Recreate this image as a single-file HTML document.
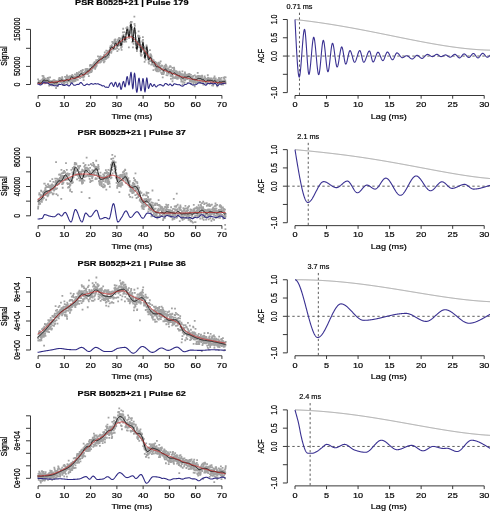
<!DOCTYPE html>
<html><head><meta charset="utf-8"><style>
html,body{margin:0;padding:0;background:#fff;width:490px;height:511px;overflow:hidden}
svg{display:block;filter:blur(0.35px)}
text{font-family:"Liberation Sans",sans-serif;stroke:#000;stroke-width:2.5px}
</style></head><body>
<svg width="490" height="511" viewBox="0 0 490 511">
<rect width="490" height="511" fill="#fff"/>
<g>
<text transform="translate(131.75,5.1) scale(0.09149,0.07)" font-size="100" text-anchor="middle" font-weight="bold" fill="#000">PSR B0525+21 | Pulse 179</text>
<line x1="38.1" y1="95.5" x2="221.92" y2="95.5" stroke="#222" stroke-width="0.9" />
<line x1="38.1" y1="95.5" x2="38.1" y2="98.7" stroke="#222" stroke-width="0.9" />
<text transform="translate(38.1,107.3) scale(0.09149,0.0798)" font-size="100" text-anchor="middle" font-weight="normal" fill="#000">0</text>
<line x1="64.36" y1="95.5" x2="64.36" y2="98.7" stroke="#222" stroke-width="0.9" />
<text transform="translate(64.36,107.3) scale(0.09149,0.0798)" font-size="100" text-anchor="middle" font-weight="normal" fill="#000">10</text>
<line x1="90.62" y1="95.5" x2="90.62" y2="98.7" stroke="#222" stroke-width="0.9" />
<text transform="translate(90.62,107.3) scale(0.09149,0.0798)" font-size="100" text-anchor="middle" font-weight="normal" fill="#000">20</text>
<line x1="116.88" y1="95.5" x2="116.88" y2="98.7" stroke="#222" stroke-width="0.9" />
<text transform="translate(116.88,107.3) scale(0.09149,0.0798)" font-size="100" text-anchor="middle" font-weight="normal" fill="#000">30</text>
<line x1="143.14" y1="95.5" x2="143.14" y2="98.7" stroke="#222" stroke-width="0.9" />
<text transform="translate(143.14,107.3) scale(0.09149,0.0798)" font-size="100" text-anchor="middle" font-weight="normal" fill="#000">40</text>
<line x1="169.4" y1="95.5" x2="169.4" y2="98.7" stroke="#222" stroke-width="0.9" />
<text transform="translate(169.4,107.3) scale(0.09149,0.0798)" font-size="100" text-anchor="middle" font-weight="normal" fill="#000">50</text>
<line x1="195.66" y1="95.5" x2="195.66" y2="98.7" stroke="#222" stroke-width="0.9" />
<text transform="translate(195.66,107.3) scale(0.09149,0.0798)" font-size="100" text-anchor="middle" font-weight="normal" fill="#000">60</text>
<line x1="221.92" y1="95.5" x2="221.92" y2="98.7" stroke="#222" stroke-width="0.9" />
<text transform="translate(221.92,107.3) scale(0.09149,0.0798)" font-size="100" text-anchor="middle" font-weight="normal" fill="#000">70</text>
<text transform="translate(131.9,118.9) scale(0.09149,0.0742)" font-size="100" text-anchor="middle" font-weight="normal" fill="#000">Time (ms)</text>
<line x1="30.5" y1="84.5" x2="30.5" y2="29.4" stroke="#222" stroke-width="0.9" />
<line x1="26" y1="84.5" x2="30.5" y2="84.5" stroke="#222" stroke-width="0.9" />
<text transform="translate(20.4,84.5) rotate(-90) scale(0.07,0.09499)" font-size="100" text-anchor="middle" fill="#000">0</text>
<line x1="26" y1="66.4" x2="30.5" y2="66.4" stroke="#222" stroke-width="0.9" />
<text transform="translate(20.4,66.4) rotate(-90) scale(0.07,0.09499)" font-size="100" text-anchor="middle" fill="#000">50000</text>
<line x1="26" y1="48.3" x2="30.5" y2="48.3" stroke="#222" stroke-width="0.9" />
<line x1="26" y1="29.4" x2="30.5" y2="29.4" stroke="#222" stroke-width="0.9" />
<text transform="translate(20.4,29.4) rotate(-90) scale(0.07,0.09499)" font-size="100" text-anchor="middle" fill="#000">150000</text>
<text transform="translate(7,56.05) rotate(-90) scale(0.07,0.09002)" font-size="100" text-anchor="middle" fill="#000">Signal</text>
<path d="M37.2 79.44h1.8M37.36 82.86h1.8M37.52 82.93h1.8M37.67 82.43h1.8M37.83 82.02h1.8M37.99 82.15h1.8M38.15 81.23h1.8M38.3 82.44h1.8M38.46 82.06h1.8M38.62 83.18h1.8M38.78 81.17h1.8M38.93 83.55h1.8M39.09 83.46h1.8M39.25 83.03h1.8M39.41 82.57h1.8M39.56 84.18h1.8M39.72 80.55h1.8M39.88 83.98h1.8M40.04 83.57h1.8M40.19 83.57h1.8M40.35 83.63h1.8M40.51 81.84h1.8M40.67 82.34h1.8M40.82 83.66h1.8M40.98 83.15h1.8M41.14 82.6h1.8M41.3 79.57h1.8M41.45 82.7h1.8M41.61 75.85h1.8M41.77 83h1.8M41.93 81.47h1.8M42.08 78.28h1.8M42.24 82.17h1.8M42.4 80.18h1.8M42.56 76.07h1.8M42.71 80.75h1.8M42.87 77.57h1.8M43.03 77.84h1.8M43.19 78.96h1.8M43.34 82.15h1.8M43.5 79.51h1.8M43.66 80.67h1.8M43.82 83.25h1.8M43.98 83.12h1.8M44.13 80.4h1.8M44.29 80.26h1.8M44.45 78.64h1.8M44.61 79.63h1.8M44.76 81.55h1.8M44.92 81.5h1.8M45.08 81.02h1.8M45.24 82.48h1.8M45.39 79.49h1.8M45.55 80.67h1.8M45.71 81.97h1.8M45.87 81.7h1.8M46.02 82.51h1.8M46.18 81.37h1.8M46.34 80.18h1.8M46.5 81.33h1.8M46.65 79.05h1.8M46.81 78h1.8M46.97 81.81h1.8M47.13 80.8h1.8M47.28 81.5h1.8M47.44 78.18h1.8M47.6 80.55h1.8M47.76 80.28h1.8M47.91 79.95h1.8M48.07 77.72h1.8M48.23 85.54h1.8M48.39 83.35h1.8M48.54 82.59h1.8M48.7 81h1.8M48.86 82.09h1.8M49.02 83.47h1.8M49.17 77.47h1.8M49.33 82.02h1.8M49.49 83.16h1.8M49.65 83.39h1.8M49.8 85.12h1.8M49.96 84.11h1.8M50.12 82.66h1.8M50.28 82.6h1.8M50.44 83.41h1.8M50.59 81.09h1.8M50.75 81.94h1.8M50.91 83.59h1.8M51.07 85.42h1.8M51.22 81.78h1.8M51.38 82h1.8M51.54 82.49h1.8M51.7 84.54h1.8M51.85 82.22h1.8M52.01 84.91h1.8M52.17 80.74h1.8M52.33 82.18h1.8M52.48 82.24h1.8M52.64 84.04h1.8M52.8 84.57h1.8M52.96 80.14h1.8M53.11 81.23h1.8M53.27 83.44h1.8M53.43 81.7h1.8M53.59 80.17h1.8M53.74 84.65h1.8M53.9 83.66h1.8M54.06 83.62h1.8M54.22 81.87h1.8M54.37 84.49h1.8M54.53 82.21h1.8M54.69 84.57h1.8M54.85 81h1.8M55 81.11h1.8M55.16 87.98h1.8M55.32 81.41h1.8M55.48 83.88h1.8M55.63 83.16h1.8M55.79 81.06h1.8M55.95 82.83h1.8M56.11 82.03h1.8M56.26 84.24h1.8M56.42 81.38h1.8M56.58 81.62h1.8M56.74 84.43h1.8M56.9 86.11h1.8M57.05 85.51h1.8M57.21 81.85h1.8M57.37 81.95h1.8M57.53 84.13h1.8M57.68 80.98h1.8M57.84 79.31h1.8M58 81.15h1.8M58.16 81.67h1.8M58.31 79.3h1.8M58.47 77.78h1.8M58.63 78.15h1.8M58.79 81.95h1.8M58.94 79.39h1.8M59.1 80.52h1.8M59.26 81.15h1.8M59.42 81.88h1.8M59.57 80.1h1.8M59.73 81.56h1.8M59.89 78.95h1.8M60.05 79.81h1.8M60.2 78.5h1.8M60.36 82.33h1.8M60.52 80.11h1.8M60.68 78.74h1.8M60.83 79.39h1.8M60.99 79.63h1.8M61.15 81.34h1.8M61.31 77.19h1.8M61.46 78.3h1.8M61.62 79.62h1.8M61.78 85.1h1.8M61.94 82.33h1.8M62.09 80.49h1.8M62.25 82.14h1.8M62.41 84.7h1.8M62.57 80.56h1.8M62.72 80.35h1.8M62.88 83.3h1.8M63.04 81.98h1.8M63.2 82.29h1.8M63.35 80.07h1.8M63.51 84.54h1.8M63.67 84.09h1.8M63.83 81.9h1.8M63.99 82.05h1.8M64.14 76.9h1.8M64.3 81.77h1.8M64.46 80.11h1.8M64.62 81.17h1.8M64.77 81.51h1.8M64.93 79.48h1.8M65.09 76.83h1.8M65.25 80.58h1.8M65.4 78.39h1.8M65.56 79.1h1.8M65.72 78.52h1.8M65.88 79h1.8M66.03 75.3h1.8M66.19 81.97h1.8M66.35 80.23h1.8M66.51 81.92h1.8M66.66 83.67h1.8M66.82 80.09h1.8M66.98 76.76h1.8M67.14 78.59h1.8M67.29 78.08h1.8M67.45 79.49h1.8M67.61 80.64h1.8M67.77 76.71h1.8M67.92 81.16h1.8M68.08 77.59h1.8M68.24 80.97h1.8M68.4 80.08h1.8M68.55 79.58h1.8M68.71 79.85h1.8M68.87 78.77h1.8M69.03 78.39h1.8M69.18 76.09h1.8M69.34 78.97h1.8M69.5 82.25h1.8M69.66 82.19h1.8M69.81 80.61h1.8M69.97 79.12h1.8M70.13 76.18h1.8M70.29 79.97h1.8M70.45 76.9h1.8M70.6 76.7h1.8M70.76 76.19h1.8M70.92 76.89h1.8M71.08 75.9h1.8M71.23 76.68h1.8M71.39 74.87h1.8M71.55 76.43h1.8M71.71 81.76h1.8M71.86 80.61h1.8M72.02 77.3h1.8M72.18 78.97h1.8M72.34 79.48h1.8M72.49 76.06h1.8M72.65 77.14h1.8M72.81 80.17h1.8M72.97 78.94h1.8M73.12 78.67h1.8M73.28 81.45h1.8M73.44 77.09h1.8M73.6 78.54h1.8M73.75 77.33h1.8M73.91 81.22h1.8M74.07 74.44h1.8M74.23 76.89h1.8M74.38 77.09h1.8M74.54 79.36h1.8M74.7 79.15h1.8M74.86 80.6h1.8M75.01 74.64h1.8M75.17 79.08h1.8M75.33 76.89h1.8M75.49 76.02h1.8M75.64 78.27h1.8M75.8 75.26h1.8M75.96 72.86h1.8M76.12 76.14h1.8M76.27 73.82h1.8M76.43 75.46h1.8M76.59 77.43h1.8M76.75 77.3h1.8M76.91 79.82h1.8M77.06 76.26h1.8M77.22 73.59h1.8M77.38 75.1h1.8M77.54 74.72h1.8M77.69 74.06h1.8M77.85 77.23h1.8M78.01 74.94h1.8M78.17 72.07h1.8M78.32 77.21h1.8M78.48 75.34h1.8M78.64 76.02h1.8M78.8 75.25h1.8M78.95 76.04h1.8M79.11 74.6h1.8M79.27 78.07h1.8M79.43 74.94h1.8M79.58 74.72h1.8M79.74 74.61h1.8M79.9 70.79h1.8M80.06 73.33h1.8M80.21 73.14h1.8M80.37 74.1h1.8M80.53 70.98h1.8M80.69 77.1h1.8M80.84 74.09h1.8M81 71.53h1.8M81.16 70.62h1.8M81.32 73.62h1.8M81.47 74.12h1.8M81.63 72.95h1.8M81.79 74.7h1.8M81.95 70.01h1.8M82.1 75.81h1.8M82.26 73.29h1.8M82.42 77.72h1.8M82.58 76.89h1.8M82.73 80.17h1.8M82.89 72.89h1.8M83.05 73.98h1.8M83.21 73.2h1.8M83.37 76.45h1.8M83.52 72.41h1.8M83.68 73.64h1.8M83.84 74.42h1.8M84 72.3h1.8M84.15 72.14h1.8M84.31 72.92h1.8M84.47 69.35h1.8M84.63 70.47h1.8M84.78 72.36h1.8M84.94 73.29h1.8M85.1 72.38h1.8M85.26 68.88h1.8M85.41 71.38h1.8M85.57 73.79h1.8M85.73 73.09h1.8M85.89 71.61h1.8M86.04 69.76h1.8M86.2 72.79h1.8M86.36 70.15h1.8M86.52 68.84h1.8M86.67 69.54h1.8M86.83 74.19h1.8M86.99 71.61h1.8M87.15 73.56h1.8M87.3 70.14h1.8M87.46 73.09h1.8M87.62 69.84h1.8M87.78 70.72h1.8M87.93 76.15h1.8M88.09 72.44h1.8M88.25 69.63h1.8M88.41 70.31h1.8M88.56 70.96h1.8M88.72 72.58h1.8M88.88 68.76h1.8M89.04 65.86h1.8M89.19 68.67h1.8M89.35 64.79h1.8M89.51 68.98h1.8M89.67 71.29h1.8M89.83 68.95h1.8M89.98 69.79h1.8M90.14 65.56h1.8M90.3 69.55h1.8M90.46 72h1.8M90.61 69.06h1.8M90.77 67.86h1.8M90.93 67.55h1.8M91.09 70.95h1.8M91.24 65.12h1.8M91.4 66.79h1.8M91.56 67.95h1.8M91.72 68.49h1.8M91.87 65.91h1.8M92.03 67.41h1.8M92.19 66.05h1.8M92.35 66.79h1.8M92.5 66.08h1.8M92.66 63.75h1.8M92.82 65.94h1.8M92.98 67.64h1.8M93.13 63.45h1.8M93.29 64.75h1.8M93.45 66.44h1.8M93.61 62.46h1.8M93.76 63.85h1.8M93.92 62.03h1.8M94.08 66.54h1.8M94.24 68.91h1.8M94.39 68.14h1.8M94.55 63.19h1.8M94.71 65.15h1.8M94.87 63.7h1.8M95.02 63.56h1.8M95.18 66.58h1.8M95.34 60.26h1.8M95.5 65.27h1.8M95.65 62.71h1.8M95.81 65.69h1.8M95.97 62.84h1.8M96.13 60.76h1.8M96.28 62.61h1.8M96.44 63.38h1.8M96.6 61.64h1.8M96.76 62.42h1.8M96.92 60.02h1.8M97.07 56.35h1.8M97.23 62.8h1.8M97.39 62.25h1.8M97.55 60.94h1.8M97.7 60.68h1.8M97.86 62.72h1.8M98.02 59.37h1.8M98.18 58.75h1.8M98.33 59.8h1.8M98.49 62.72h1.8M98.65 56.97h1.8M98.81 62.51h1.8M98.96 58.36h1.8M99.12 57.22h1.8M99.28 62.3h1.8M99.44 59.19h1.8M99.59 56.41h1.8M99.75 58.4h1.8M99.91 61.21h1.8M100.07 61.73h1.8M100.22 58.06h1.8M100.38 59.9h1.8M100.54 60.56h1.8M100.7 57.46h1.8M100.85 59.68h1.8M101.01 58.75h1.8M101.17 57.53h1.8M101.33 57.52h1.8M101.48 58.69h1.8M101.64 58.45h1.8M101.8 56.91h1.8M101.96 57.04h1.8M102.11 60.43h1.8M102.27 58.15h1.8M102.43 59.55h1.8M102.59 60.15h1.8M102.74 58.6h1.8M102.9 62.47h1.8M103.06 55.11h1.8M103.22 58.94h1.8M103.38 56.28h1.8M103.53 61.47h1.8M103.69 61.13h1.8M103.85 52.4h1.8M104.01 54.77h1.8M104.16 58.7h1.8M104.32 58.98h1.8M104.48 58.8h1.8M104.64 56.77h1.8M104.79 57.93h1.8M104.95 58.3h1.8M105.11 56.35h1.8M105.27 58.9h1.8M105.42 50.62h1.8M105.58 57.58h1.8M105.74 53.28h1.8M105.9 58.07h1.8M106.05 54.97h1.8M106.21 53.21h1.8M106.37 56.26h1.8M106.53 52.96h1.8M106.68 57.39h1.8M106.84 51.13h1.8M107 54.93h1.8M107.16 56.11h1.8M107.31 57.28h1.8M107.47 54.07h1.8M107.63 56.8h1.8M107.79 53.83h1.8M107.94 53.1h1.8M108.1 54.38h1.8M108.26 55.13h1.8M108.42 51h1.8M108.57 50.74h1.8M108.73 50.44h1.8M108.89 50.6h1.8M109.05 47.58h1.8M109.2 52.21h1.8M109.36 48.08h1.8M109.52 49.98h1.8M109.68 46.26h1.8M109.84 49.07h1.8M109.99 48.88h1.8M110.15 46.45h1.8M110.31 52.73h1.8M110.47 48.1h1.8M110.62 51.71h1.8M110.78 49.43h1.8M110.94 45.03h1.8M111.1 45.89h1.8M111.25 48.21h1.8M111.41 41.96h1.8M111.57 47.59h1.8M111.73 46.91h1.8M111.88 42.98h1.8M112.04 47.55h1.8M112.2 42.3h1.8M112.36 49.63h1.8M112.51 46.75h1.8M112.67 46.86h1.8M112.83 47.9h1.8M112.99 48.93h1.8M113.14 43.65h1.8M113.3 42.2h1.8M113.46 43.49h1.8M113.62 40.11h1.8M113.77 42.5h1.8M113.93 49.11h1.8M114.09 41.07h1.8M114.25 45.47h1.8M114.4 39.29h1.8M114.56 43.88h1.8M114.72 41.96h1.8M114.88 42.81h1.8M115.03 44.78h1.8M115.19 48.48h1.8M115.35 44.36h1.8M115.51 44.55h1.8M115.66 41.8h1.8M115.82 46.72h1.8M115.98 44.66h1.8M116.14 48.15h1.8M116.3 45.75h1.8M116.45 51.1h1.8M116.61 40.09h1.8M116.77 44.85h1.8M116.93 46.07h1.8M117.08 43.93h1.8M117.24 42.15h1.8M117.4 43.13h1.8M117.56 39.24h1.8M117.71 43.11h1.8M117.87 49.46h1.8M118.03 45.09h1.8M118.19 37.85h1.8M118.34 38.2h1.8M118.5 40.22h1.8M118.66 43.52h1.8M118.82 38.28h1.8M118.97 39.04h1.8M119.13 44.61h1.8M119.29 45.35h1.8M119.45 42.43h1.8M119.6 41.01h1.8M119.76 40.26h1.8M119.92 43.34h1.8M120.08 38.77h1.8M120.23 47.76h1.8M120.39 43.22h1.8M120.55 46.11h1.8M120.71 49.85h1.8M120.86 46.93h1.8M121.02 38.91h1.8M121.18 44.35h1.8M121.34 44.38h1.8M121.49 37.54h1.8M121.65 36.03h1.8M121.81 37.88h1.8M121.97 32.44h1.8M122.12 41.48h1.8M122.28 28.74h1.8M122.44 32.4h1.8M122.6 35.01h1.8M122.76 35.13h1.8M122.91 36.78h1.8M123.07 37.67h1.8M123.23 36.79h1.8M123.39 41.92h1.8M123.54 32.1h1.8M123.7 39.62h1.8M123.86 37.9h1.8M124.02 40.72h1.8M124.17 41.09h1.8M124.33 36.94h1.8M124.49 37.25h1.8M124.65 41.11h1.8M124.8 38.67h1.8M124.96 34.22h1.8M125.12 34.03h1.8M125.28 41.7h1.8M125.43 28.1h1.8M125.59 32.78h1.8M125.75 39.2h1.8M125.91 32.59h1.8M126.06 30.2h1.8M126.22 28.38h1.8M126.38 27.22h1.8M126.54 28.64h1.8M126.69 27.97h1.8M126.85 33.18h1.8M127.01 30.2h1.8M127.17 31.12h1.8M127.32 29.6h1.8M127.48 34.46h1.8M127.64 32.52h1.8M127.8 35.58h1.8M127.95 47.35h1.8M128.11 38.03h1.8M128.27 38.15h1.8M128.43 37.16h1.8M128.58 35.04h1.8M128.74 33.31h1.8M128.9 31.24h1.8M129.06 33.46h1.8M129.22 25.62h1.8M129.37 32.56h1.8M129.53 26.76h1.8M129.69 22.95h1.8M129.85 22.98h1.8M130 21.98h1.8M130.16 24.66h1.8M130.32 22.56h1.8M130.48 30.02h1.8M130.63 27.26h1.8M130.79 21.9h1.8M130.95 29.42h1.8M131.11 27.27h1.8M131.26 36.23h1.8M131.42 41.96h1.8M131.58 42.27h1.8M131.74 36.31h1.8M131.89 39.18h1.8M132.05 47.35h1.8M132.21 41.69h1.8M132.37 39.18h1.8M132.52 41.07h1.8M132.68 43.96h1.8M132.84 37.96h1.8M133 32.09h1.8M133.15 31.21h1.8M133.31 30.57h1.8M133.47 16.7h1.8M133.63 24.02h1.8M133.78 28.45h1.8M133.94 25.93h1.8M134.1 30.29h1.8M134.26 32.48h1.8M134.41 41.87h1.8M134.57 33.22h1.8M134.73 37.77h1.8M134.89 39.78h1.8M135.04 43.94h1.8M135.2 47.82h1.8M135.36 44.52h1.8M135.52 44.75h1.8M135.67 43.17h1.8M135.83 46.18h1.8M135.99 51.18h1.8M136.15 49.44h1.8M136.31 45.25h1.8M136.46 46.66h1.8M136.62 46.54h1.8M136.78 47.19h1.8M136.94 42.24h1.8M137.09 42h1.8M137.25 35.58h1.8M137.41 36.54h1.8M137.57 44.55h1.8M137.72 31.33h1.8M137.88 36.74h1.8M138.04 38.53h1.8M138.2 36.58h1.8M138.35 36.04h1.8M138.51 39.34h1.8M138.67 40.85h1.8M138.83 42.08h1.8M138.98 37.88h1.8M139.14 45.14h1.8M139.3 44.51h1.8M139.46 47.03h1.8M139.61 50.99h1.8M139.77 53.31h1.8M139.93 55.11h1.8M140.09 50.89h1.8M140.24 55.52h1.8M140.4 55.89h1.8M140.56 55.05h1.8M140.72 54.94h1.8M140.87 48.9h1.8M141.03 47.61h1.8M141.19 49.49h1.8M141.35 41.3h1.8M141.5 45.25h1.8M141.66 41.91h1.8M141.82 41.88h1.8M141.98 37.19h1.8M142.13 39.97h1.8M142.29 43.24h1.8M142.45 46.87h1.8M142.61 48.51h1.8M142.77 46.55h1.8M142.92 47.94h1.8M143.08 47.68h1.8M143.24 53.23h1.8M143.4 52.95h1.8M143.55 57.06h1.8M143.71 61.93h1.8M143.87 57.44h1.8M144.03 53.5h1.8M144.18 55.78h1.8M144.34 53.37h1.8M144.5 53.59h1.8M144.66 59.85h1.8M144.81 55.17h1.8M144.97 48.29h1.8M145.13 53.26h1.8M145.29 53.64h1.8M145.44 47.43h1.8M145.6 45.46h1.8M145.76 46.06h1.8M145.92 47.63h1.8M146.07 49.44h1.8M146.23 51.8h1.8M146.39 53.26h1.8M146.55 54.63h1.8M146.7 56.75h1.8M146.86 56.33h1.8M147.02 51.35h1.8M147.18 56.9h1.8M147.33 59.43h1.8M147.49 57.96h1.8M147.65 62.39h1.8M147.81 58.61h1.8M147.96 56.91h1.8M148.12 63.66h1.8M148.28 61.09h1.8M148.44 59.44h1.8M148.59 61.12h1.8M148.75 61.13h1.8M148.91 58.67h1.8M149.07 50.19h1.8M149.23 55.22h1.8M149.38 55.69h1.8M149.54 54.27h1.8M149.7 57.84h1.8M149.86 61h1.8M150.01 56.53h1.8M150.17 55.09h1.8M150.33 64.68h1.8M150.49 58.06h1.8M150.64 56.36h1.8M150.8 61.1h1.8M150.96 62.11h1.8M151.12 59.37h1.8M151.27 63.99h1.8M151.43 60.7h1.8M151.59 59.67h1.8M151.75 62.88h1.8M151.9 64.59h1.8M152.06 60.59h1.8M152.22 63.26h1.8M152.38 61.96h1.8M152.53 70.04h1.8M152.69 60.06h1.8M152.85 65.82h1.8M153.01 61.81h1.8M153.16 61.64h1.8M153.32 64.15h1.8M153.48 64.9h1.8M153.64 66.23h1.8M153.79 64.03h1.8M153.95 61.87h1.8M154.11 62.48h1.8M154.27 61.97h1.8M154.42 66.42h1.8M154.58 69.07h1.8M154.74 66.76h1.8M154.9 68.85h1.8M155.05 70.38h1.8M155.21 66.92h1.8M155.37 62.64h1.8M155.53 63.57h1.8M155.69 62.97h1.8M155.84 71.17h1.8M156 64.59h1.8M156.16 70.16h1.8M156.32 68.37h1.8M156.47 71.36h1.8M156.63 69.42h1.8M156.79 66.45h1.8M156.95 66.21h1.8M157.1 66.99h1.8M157.26 64.15h1.8M157.42 65.49h1.8M157.58 66.89h1.8M157.73 71.31h1.8M157.89 62.65h1.8M158.05 67.89h1.8M158.21 64.88h1.8M158.36 67.81h1.8M158.52 69.56h1.8M158.68 67.26h1.8M158.84 69.48h1.8M158.99 63.4h1.8M159.15 70.5h1.8M159.31 66.16h1.8M159.47 69.46h1.8M159.62 68.45h1.8M159.78 61.42h1.8M159.94 66.68h1.8M160.1 69.01h1.8M160.25 72.63h1.8M160.41 69.52h1.8M160.57 69.61h1.8M160.73 65.46h1.8M160.88 72.98h1.8M161.04 74.13h1.8M161.2 69.72h1.8M161.36 69.27h1.8M161.51 65.85h1.8M161.67 72.48h1.8M161.83 77.33h1.8M161.99 72.38h1.8M162.15 73.88h1.8M162.3 72.12h1.8M162.46 68.22h1.8M162.62 74.17h1.8M162.78 67.51h1.8M162.93 70.01h1.8M163.09 71.13h1.8M163.25 72.48h1.8M163.41 71.08h1.8M163.56 70.8h1.8M163.72 67.65h1.8M163.88 66.14h1.8M164.04 69.45h1.8M164.19 67.4h1.8M164.35 65.84h1.8M164.51 65.94h1.8M164.67 67.98h1.8M164.82 64.58h1.8M164.98 65.99h1.8M165.14 65.38h1.8M165.3 70.15h1.8M165.45 70.86h1.8M165.61 75.08h1.8M165.77 66.32h1.8M165.93 68.56h1.8M166.08 72.77h1.8M166.24 70.08h1.8M166.4 70h1.8M166.56 75.35h1.8M166.71 70.38h1.8M166.87 68.52h1.8M167.03 68.3h1.8M167.19 72.65h1.8M167.34 72.7h1.8M167.5 68.56h1.8M167.66 69.59h1.8M167.82 73.42h1.8M167.97 73.5h1.8M168.13 70.34h1.8M168.29 73.44h1.8M168.45 73.21h1.8M168.61 67.18h1.8M168.76 70.81h1.8M168.92 72.58h1.8M169.08 70.09h1.8M169.24 66.2h1.8M169.39 70.92h1.8M169.55 73.66h1.8M169.71 75.88h1.8M169.87 66.68h1.8M170.02 78.93h1.8M170.18 69.84h1.8M170.34 75.33h1.8M170.5 76.29h1.8M170.65 75.93h1.8M170.81 74.09h1.8M170.97 71.01h1.8M171.13 75.64h1.8M171.28 72.39h1.8M171.44 67.97h1.8M171.6 81.26h1.8M171.76 75.95h1.8M171.91 78.61h1.8M172.07 71.71h1.8M172.23 77.47h1.8M172.39 77.6h1.8M172.54 77.35h1.8M172.7 73.29h1.8M172.86 70.22h1.8M173.02 72.67h1.8M173.17 67.57h1.8M173.33 68.8h1.8M173.49 73.23h1.8M173.65 70.61h1.8M173.8 72.73h1.8M173.96 72.98h1.8M174.12 78.14h1.8M174.28 73.57h1.8M174.43 73.56h1.8M174.59 76.79h1.8M174.75 72.02h1.8M174.91 73.23h1.8M175.06 76.39h1.8M175.22 71.2h1.8M175.38 77.9h1.8M175.54 71.17h1.8M175.7 74.77h1.8M175.85 78.57h1.8M176.01 72.82h1.8M176.17 75.33h1.8M176.33 72.7h1.8M176.48 72.2h1.8M176.64 72.11h1.8M176.8 78.78h1.8M176.96 78h1.8M177.11 76.59h1.8M177.27 73.73h1.8M177.43 77.24h1.8M177.59 74.74h1.8M177.74 77.52h1.8M177.9 76.31h1.8M178.06 76.31h1.8M178.22 77.15h1.8M178.37 74.32h1.8M178.53 74.83h1.8M178.69 71.75h1.8M178.85 74.97h1.8M179 72.75h1.8M179.16 76h1.8M179.32 74.22h1.8M179.48 76.95h1.8M179.63 77.98h1.8M179.79 73.63h1.8M179.95 75.25h1.8M180.11 79.34h1.8M180.26 79.28h1.8M180.42 81.69h1.8M180.58 79.72h1.8M180.74 76.91h1.8M180.89 81.34h1.8M181.05 74.25h1.8M181.21 81.54h1.8M181.37 76.43h1.8M181.52 71.4h1.8M181.68 84.45h1.8M181.84 81.92h1.8M182 75.69h1.8M182.16 78.54h1.8M182.31 77.6h1.8M182.47 78.27h1.8M182.63 74.39h1.8M182.79 76.18h1.8M182.94 78.78h1.8M183.1 78.06h1.8M183.26 80.24h1.8M183.42 77.46h1.8M183.57 82.76h1.8M183.73 75.39h1.8M183.89 77.68h1.8M184.05 72.49h1.8M184.2 74.09h1.8M184.36 80.24h1.8M184.52 74.89h1.8M184.68 78.42h1.8M184.83 77.05h1.8M184.99 74.75h1.8M185.15 76.4h1.8M185.31 75.99h1.8M185.46 76.03h1.8M185.62 78.9h1.8M185.78 78.61h1.8M185.94 75.64h1.8M186.09 74.79h1.8M186.25 77.52h1.8M186.41 76.55h1.8M186.57 79.13h1.8M186.72 82.89h1.8M186.88 78.57h1.8M187.04 76.46h1.8M187.2 76.09h1.8M187.35 74.47h1.8M187.51 74.33h1.8M187.67 74.1h1.8M187.83 75.53h1.8M187.98 75.49h1.8M188.14 78.27h1.8M188.3 75.66h1.8M188.46 76.21h1.8M188.62 73.91h1.8M188.77 80.68h1.8M188.93 78.13h1.8M189.09 81.22h1.8M189.25 79.02h1.8M189.4 80.74h1.8M189.56 76.81h1.8M189.72 79.17h1.8M189.88 83.9h1.8M190.03 74.91h1.8M190.19 80.62h1.8M190.35 81.97h1.8M190.51 79.18h1.8M190.66 80.14h1.8M190.82 81.5h1.8M190.98 77.16h1.8M191.14 79.83h1.8M191.29 76.97h1.8M191.45 77.56h1.8M191.61 77.8h1.8M191.77 79.02h1.8M191.92 79.76h1.8M192.08 80.53h1.8M192.24 75.98h1.8M192.4 84.17h1.8M192.55 82.24h1.8M192.71 81.24h1.8M192.87 78.7h1.8M193.03 79.34h1.8M193.18 80.85h1.8M193.34 80.55h1.8M193.5 79.18h1.8M193.66 81.35h1.8M193.81 86.45h1.8M193.97 75.31h1.8M194.13 81.96h1.8M194.29 80.49h1.8M194.44 79.36h1.8M194.6 82.82h1.8M194.76 76.84h1.8M194.92 79.97h1.8M195.08 82.99h1.8M195.23 79.1h1.8M195.39 78.55h1.8M195.55 79.76h1.8M195.71 78.4h1.8M195.86 82.98h1.8M196.02 77.19h1.8M196.18 81.24h1.8M196.34 76.2h1.8M196.49 80.56h1.8M196.65 78.65h1.8M196.81 72.8h1.8M196.97 78.67h1.8M197.12 76.13h1.8M197.28 77.5h1.8M197.44 82.04h1.8M197.6 75.87h1.8M197.75 75.98h1.8M197.91 81.76h1.8M198.07 78.7h1.8M198.23 82h1.8M198.38 79.21h1.8M198.54 76.44h1.8M198.7 78.33h1.8M198.86 81.32h1.8M199.01 80.66h1.8M199.17 78.51h1.8M199.33 78.64h1.8M199.49 76.12h1.8M199.64 77.27h1.8M199.8 83.07h1.8M199.96 78.74h1.8M200.12 76.22h1.8M200.27 77.82h1.8M200.43 80.68h1.8M200.59 80.61h1.8M200.75 76.92h1.8M200.9 77.84h1.8M201.06 79.52h1.8M201.22 75.74h1.8M201.38 76.65h1.8M201.54 81.49h1.8M201.69 78.6h1.8M201.85 80.56h1.8M202.01 82.48h1.8M202.17 81.19h1.8M202.32 79.78h1.8M202.48 84.58h1.8M202.64 81.31h1.8M202.8 79.07h1.8M202.95 81.62h1.8M203.11 81.03h1.8M203.27 78.32h1.8M203.43 80.6h1.8M203.58 80.26h1.8M203.74 76.39h1.8M203.9 80.64h1.8M204.06 80.57h1.8M204.21 80.39h1.8M204.37 77.82h1.8M204.53 80.82h1.8M204.69 81.62h1.8M204.84 81.94h1.8M205 79.17h1.8M205.16 83.07h1.8M205.32 78.84h1.8M205.47 80.93h1.8M205.63 84.19h1.8M205.79 79.55h1.8M205.95 79.76h1.8M206.1 83.11h1.8M206.26 79.69h1.8M206.42 79.73h1.8M206.58 80.78h1.8M206.73 82.54h1.8M206.89 75.25h1.8M207.05 78.31h1.8M207.21 77.92h1.8M207.36 77.79h1.8M207.52 78.34h1.8M207.68 78.42h1.8M207.84 80.99h1.8M208 78.39h1.8M208.15 80.65h1.8M208.31 81.27h1.8M208.47 78.77h1.8M208.63 80.66h1.8M208.78 83.97h1.8M208.94 81.06h1.8M209.1 78.95h1.8M209.26 80.2h1.8M209.41 78.35h1.8M209.57 80.96h1.8M209.73 82.27h1.8M209.89 78.62h1.8M210.04 79.97h1.8M210.2 82.89h1.8M210.36 79.4h1.8M210.52 80.92h1.8M210.67 78.31h1.8M210.83 78.79h1.8M210.99 79.49h1.8M211.15 85.29h1.8M211.3 79.84h1.8M211.46 79.66h1.8M211.62 79.67h1.8M211.78 80.6h1.8M211.93 82.43h1.8M212.09 81.52h1.8M212.25 85.53h1.8M212.41 81.68h1.8M212.56 84.28h1.8M212.72 81.8h1.8M212.88 82.44h1.8M213.04 78.06h1.8M213.19 80.76h1.8M213.35 80.79h1.8M213.51 80.35h1.8M213.67 76.28h1.8M213.82 82.61h1.8M213.98 79.95h1.8M214.14 79.85h1.8M214.3 80.31h1.8M214.45 80.44h1.8M214.61 81.89h1.8M214.77 78.52h1.8M214.93 79.39h1.8M215.09 82.13h1.8M215.24 82.03h1.8M215.4 81.15h1.8M215.56 80.96h1.8M215.72 80.65h1.8M215.87 82.49h1.8M216.03 85.28h1.8M216.19 80.81h1.8M216.35 86.33h1.8M216.5 85.04h1.8M216.66 82.42h1.8M216.82 84.98h1.8M216.98 80.3h1.8M217.13 79.64h1.8M217.29 80.45h1.8M217.45 82.09h1.8M217.61 82.08h1.8M217.76 81.5h1.8M217.92 82.58h1.8M218.08 77.8h1.8M218.24 83.08h1.8M218.39 79.01h1.8M218.55 80.51h1.8M218.71 80.96h1.8M218.87 79.43h1.8M219.02 79h1.8M219.18 79.79h1.8M219.34 81.89h1.8M219.5 83.18h1.8M219.65 83.18h1.8M219.81 80.03h1.8M219.97 80.48h1.8M220.13 80.24h1.8M220.28 83.02h1.8M220.44 77.93h1.8M220.6 84.57h1.8M220.76 81h1.8M220.91 80.34h1.8M221.07 82.56h1.8M221.23 83.92h1.8M221.39 82.47h1.8M221.55 83.87h1.8M221.7 81.98h1.8M221.86 84.18h1.8M222.02 84.19h1.8M222.18 81.45h1.8M222.33 84.56h1.8M222.49 81.96h1.8M222.65 77.58h1.8M222.81 81.82h1.8M222.96 80.96h1.8M223.12 83.09h1.8M223.28 78.85h1.8M223.44 82.8h1.8M223.59 82.18h1.8M223.75 82.08h1.8M223.91 77.12h1.8M224.07 81.42h1.8M224.22 83.03h1.8M224.38 80.31h1.8M224.54 82.15h1.8M224.7 77.3h1.8M224.85 83.41h1.8" stroke="#a2a2a2" stroke-width="1.8" fill="none"/>
<polyline fill="none" stroke="#111" stroke-width="1.0" stroke-linejoin="round"  points="37.6,83.01 37.95,82.82 38.3,82.69 38.65,82.68 39,82.78 39.35,82.95 39.7,83.12 40.05,83.25 40.4,83.29 40.75,83.24 41.1,83.11 41.45,82.88 41.8,82.55 42.15,82.12 42.5,81.61 42.85,81.05 43.2,80.53 43.55,80.15 43.9,79.98 44.25,80.03 44.6,80.25 44.95,80.52 45.3,80.73 45.65,80.84 46,80.83 46.35,80.78 46.7,80.72 47.05,80.7 47.4,80.71 47.75,80.78 48.1,80.92 48.45,81.14 48.8,81.42 49.15,81.72 49.5,81.98 49.85,82.16 50.2,82.23 50.55,82.22 50.9,82.14 51.25,82.06 51.6,82.01 51.95,82.02 52.3,82.09 52.65,82.22 53,82.39 53.35,82.57 53.7,82.74 54.05,82.84 54.4,82.87 54.75,82.81 55.1,82.71 55.45,82.63 55.8,82.61 56.15,82.65 56.5,82.7 56.85,82.7 57.2,82.6 57.55,82.35 57.9,81.99 58.25,81.57 58.6,81.18 58.95,80.9 59.3,80.76 59.65,80.75 60,80.78 60.35,80.76 60.7,80.63 61.05,80.4 61.4,80.17 61.75,80.03 62.1,80.06 62.45,80.26 62.8,80.55 63.15,80.82 63.5,81.01 63.85,81.07 64.2,81.03 64.55,80.93 64.9,80.77 65.25,80.55 65.6,80.3 65.95,80.02 66.3,79.79 66.65,79.64 67,79.65 67.35,79.79 67.7,80.03 68.05,80.29 68.4,80.47 68.75,80.53 69.1,80.43 69.45,80.18 69.8,79.77 70.15,79.2 70.5,78.52 70.85,77.8 71.2,77.18 71.55,76.78 71.9,76.7 72.25,76.92 72.6,77.34 72.95,77.8 73.3,78.17 73.65,78.38 74,78.44 74.35,78.41 74.7,78.34 75.05,78.23 75.4,78.08 75.75,77.86 76.1,77.58 76.45,77.28 76.8,77 77.15,76.79 77.5,76.69 77.85,76.66 78.2,76.63 78.55,76.52 78.9,76.24 79.25,75.78 79.6,75.2 79.95,74.61 80.3,74.11 80.65,73.78 81,73.65 81.35,73.69 81.7,73.85 82.05,74.08 82.4,74.32 82.75,74.55 83.1,74.74 83.45,74.89 83.8,74.95 84.15,74.91 84.5,74.72 84.85,74.37 85.2,73.92 85.55,73.41 85.9,72.9 86.25,72.42 86.6,71.97 86.95,71.59 87.3,71.32 87.65,71.18 88,71.14 88.35,71.13 88.7,71.05 89.05,70.8 89.4,70.38 89.75,69.84 90.1,69.25 90.45,68.68 90.8,68.17 91.15,67.75 91.5,67.43 91.85,67.21 92.2,67.06 92.55,66.94 92.9,66.78 93.25,66.53 93.6,66.15 93.95,65.66 94.3,65.09 94.65,64.53 95,64.07 95.35,63.73 95.7,63.49 96.05,63.26 96.4,62.98 96.75,62.6 97.1,62.13 97.45,61.62 97.8,61.17 98.15,60.82 98.5,60.58 98.85,60.41 99.2,60.23 99.55,60.01 99.9,59.74 100.25,59.46 100.6,59.22 100.95,59.06 101.3,58.98 101.65,58.91 102,58.8 102.35,58.57 102.7,58.22 103.05,57.79 103.4,57.4 103.75,57.13 104.1,57.03 104.45,57.04 104.8,57.1 105.15,57.09 105.5,56.97 105.85,56.71 106.2,56.34 106.55,55.93 106.9,55.58 107.25,55.33 107.6,55.17 107.95,54.97 108.3,54.58 108.65,53.89 109,52.91 109.35,51.77 109.7,50.64 110.05,49.64 110.4,48.8 110.75,48.09 111.1,47.48 111.45,46.98 111.8,46.79 112.15,47.03 112.5,47.5 112.85,48.03 113.2,48.55 113.55,48.89 113.9,48.14 114.25,46.92 114.6,45.51 114.95,44.17 115.3,43.19 115.65,42.85 116,43.22 116.35,44.03 116.7,44.98 117.05,45.76 117.4,46.05 117.75,45.62 118.1,44.64 118.45,43.37 118.8,42.06 119.15,40.98 119.5,40.38 119.85,41.01 120.2,42.77 120.55,44.68 120.9,45.73 121.25,45.31 121.6,44.09 121.95,42.36 122.3,40.4 122.65,38.49 123,36.9 123.35,35.89 123.7,35.85 124.05,37.08 124.4,38.83 124.75,40.21 125.1,40.38 125.45,39.12 125.8,36.91 126.15,34.27 126.5,31.71 126.85,29.74 127.2,28.87 127.55,29.58 127.9,31.48 128.25,33.84 128.6,35.91 128.95,36.92 129.3,36.13 129.65,33.69 130,30.44 130.35,27.19 130.7,24.78 131.05,24.04 131.4,26.19 131.75,30.54 132.1,35.6 132.45,39.87 132.8,41.85 133.15,40.43 133.5,36.63 133.85,32.09 134.2,28.5 134.55,27.55 134.9,29.45 135.25,33.13 135.6,37.78 135.95,42.55 136.3,46.63 136.65,49.18 137,49.5 137.35,47.99 137.7,45.37 138.05,42.33 138.4,39.59 138.75,37.84 139.1,37.8 139.45,39.76 139.8,43.03 140.15,46.78 140.5,50.18 140.85,52.38 141.2,52.62 141.55,51.03 141.9,48.42 142.25,45.59 142.6,43.33 142.95,42.46 143.3,43.68 143.65,46.64 144,50.47 144.35,54.31 144.7,57.3 145.05,58.54 145.4,57.24 145.75,54.16 146.1,50.54 146.45,47.63 146.8,46.7 147.15,48.34 147.5,51.58 147.85,55.3 148.2,58.37 148.55,59.7 148.9,59.63 149.25,59.01 149.6,58.15 149.95,57.37 150.3,56.99 150.65,57.31 151,58.14 151.35,59.24 151.7,60.42 152.05,61.48 152.4,62.24 152.75,62.43 153.1,62.34 153.45,62.11 153.8,61.93 154.15,62.02 154.5,62.62 154.85,63.52 155.2,64.5 155.55,65.42 155.9,66.17 156.25,66.66 156.6,66.87 156.95,66.87 157.3,66.78 157.65,66.71 158,66.76 158.35,66.91 158.7,67.1 159.05,67.25 159.4,67.36 159.75,67.47 160.1,67.64 160.45,67.9 160.8,68.24 161.15,68.6 161.5,68.97 161.85,69.36 162.2,69.77 162.55,70.18 162.9,70.54 163.25,70.76 163.6,70.74 163.95,70.46 164.3,70.02 164.65,69.56 165,69.24 165.35,69.15 165.7,69.28 166.05,69.55 166.4,69.87 166.75,70.2 167.1,70.58 167.45,71.02 167.8,71.48 168.15,71.88 168.5,72.08 168.85,72.06 169.2,71.86 169.55,71.63 169.9,71.51 170.25,71.59 170.6,71.91 170.95,72.43 171.3,73.05 171.65,73.64 172,74.07 172.35,74.26 172.7,74.18 173.05,73.91 173.4,73.54 173.75,73.2 174.1,73 174.45,73 174.8,73.19 175.15,73.5 175.5,73.83 175.85,74.09 176.2,74.29 176.55,74.46 176.9,74.66 177.25,74.91 177.6,75.17 177.95,75.39 178.3,75.52 178.65,75.58 179,75.63 179.35,75.76 179.7,75.99 180.05,76.34 180.4,76.74 180.75,77.12 181.1,77.44 181.45,77.66 181.8,77.82 182.15,77.96 182.5,78.09 182.85,78.16 183.2,78.12 183.55,77.92 183.9,77.62 184.25,77.31 184.6,77.1 184.95,77.04 185.3,77.09 185.65,77.19 186,77.23 186.35,77.19 186.7,77.06 187.05,76.9 187.4,76.74 187.75,76.6 188.1,76.5 188.45,76.44 188.8,76.46 189.15,76.56 189.5,76.74 189.85,76.97 190.2,77.21 190.55,77.45 190.9,77.72 191.25,78.04 191.6,78.41 191.95,78.79 192.3,79.12 192.65,79.35 193,79.47 193.35,79.52 193.7,79.54 194.05,79.56 194.4,79.6 194.75,79.63 195.1,79.63 195.45,79.62 195.8,79.59 196.15,79.55 196.5,79.48 196.85,79.34 197.2,79.14 197.55,78.89 197.9,78.66 198.25,78.5 198.6,78.43 198.95,78.43 199.3,78.46 199.65,78.49 200,78.5 200.35,78.54 200.7,78.64 201.05,78.82 201.4,79.07 201.75,79.33 202.1,79.55 202.45,79.67 202.8,79.71 203.15,79.72 203.5,79.78 203.85,79.96 204.2,80.28 204.55,80.71 204.9,81.15 205.25,81.51 205.6,81.71 205.95,81.72 206.3,81.51 206.65,81.14 207,80.72 207.35,80.36 207.7,80.16 208.05,80.14 208.4,80.23 208.75,80.33 209.1,80.38 209.45,80.38 209.8,80.36 210.15,80.35 210.5,80.37 210.85,80.42 211.2,80.47 211.55,80.53 211.9,80.61 212.25,80.73 212.6,80.91 212.95,81.1 213.3,81.22 213.65,81.22 214,81.08 214.35,80.89 214.7,80.76 215.05,80.77 215.4,80.94 215.75,81.25 216.1,81.66 216.45,82.15 216.8,82.65 217.15,83.09 217.5,83.36 217.85,83.36 218.2,83.11 218.55,82.71 218.9,82.28 219.25,81.96 219.6,81.8 219.95,81.82 220.3,81.93 220.65,82.06 221,82.12 221.35,82.09 221.7,81.98 222.05,81.84 222.4,81.74 222.75,81.68 223.1,81.65 223.45,81.62 223.8,81.56 224.15,81.5 224.5,81.48 224.85,81.56 225.2,81.77 225.55,82.07"/>
<polyline fill="none" stroke="#cc2828" stroke-width="0.85" stroke-linejoin="round"  points="37.6,83.52 37.95,83.5 38.3,83.48 38.65,83.46 39,83.44 39.35,83.41 39.7,83.39 40.05,83.36 40.4,83.34 40.75,83.31 41.1,83.29 41.45,83.26 41.8,83.23 42.15,83.21 42.5,83.18 42.85,83.15 43.2,83.12 43.55,83.09 43.9,83.06 44.25,83.04 44.6,83.01 44.95,82.97 45.3,82.94 45.65,82.91 46,82.88 46.35,82.85 46.7,82.82 47.05,82.79 47.4,82.75 47.75,82.72 48.1,82.69 48.45,82.65 48.8,82.62 49.15,82.58 49.5,82.55 49.85,82.51 50.2,82.48 50.55,82.44 50.9,82.41 51.25,82.37 51.6,82.34 51.95,82.3 52.3,82.26 52.65,82.23 53,82.19 53.35,82.15 53.7,82.11 54.05,82.07 54.4,82.03 54.75,81.99 55.1,81.95 55.45,81.91 55.8,81.87 56.15,81.82 56.5,81.78 56.85,81.74 57.2,81.69 57.55,81.65 57.9,81.6 58.25,81.55 58.6,81.51 58.95,81.46 59.3,81.41 59.65,81.36 60,81.31 60.35,81.26 60.7,81.2 61.05,81.15 61.4,81.1 61.75,81.04 62.1,80.98 62.45,80.92 62.8,80.86 63.15,80.8 63.5,80.73 63.85,80.67 64.2,80.6 64.55,80.52 64.9,80.45 65.25,80.38 65.6,80.3 65.95,80.22 66.3,80.14 66.65,80.06 67,79.98 67.35,79.9 67.7,79.81 68.05,79.73 68.4,79.64 68.75,79.56 69.1,79.47 69.45,79.38 69.8,79.3 70.15,79.21 70.5,79.12 70.85,79.04 71.2,78.95 71.55,78.87 71.9,78.78 72.25,78.7 72.6,78.61 72.95,78.53 73.3,78.44 73.65,78.36 74,78.28 74.35,78.19 74.7,78.1 75.05,78.01 75.4,77.92 75.75,77.83 76.1,77.74 76.45,77.64 76.8,77.55 77.15,77.45 77.5,77.34 77.85,77.24 78.2,77.13 78.55,77.01 78.9,76.9 79.25,76.77 79.6,76.65 79.95,76.52 80.3,76.38 80.65,76.24 81,76.08 81.35,75.92 81.7,75.75 82.05,75.57 82.4,75.39 82.75,75.2 83.1,75 83.45,74.8 83.8,74.59 84.15,74.38 84.5,74.16 84.85,73.93 85.2,73.71 85.55,73.48 85.9,73.25 86.25,73.01 86.6,72.77 86.95,72.53 87.3,72.29 87.65,72.04 88,71.78 88.35,71.51 88.7,71.24 89.05,70.96 89.4,70.67 89.75,70.38 90.1,70.08 90.45,69.78 90.8,69.47 91.15,69.16 91.5,68.84 91.85,68.52 92.2,68.2 92.55,67.87 92.9,67.54 93.25,67.21 93.6,66.88 93.95,66.55 94.3,66.21 94.65,65.86 95,65.5 95.35,65.13 95.7,64.76 96.05,64.38 96.4,63.99 96.75,63.6 97.1,63.21 97.45,62.82 97.8,62.42 98.15,62.03 98.5,61.64 98.85,61.25 99.2,60.87 99.55,60.49 99.9,60.12 100.25,59.75 100.6,59.4 100.95,59.05 101.3,58.71 101.65,58.36 102,58.02 102.35,57.69 102.7,57.35 103.05,57.02 103.4,56.69 103.75,56.37 104.1,56.04 104.45,55.72 104.8,55.39 105.15,55.07 105.5,54.75 105.85,54.43 106.2,54.11 106.55,53.78 106.9,53.46 107.25,53.14 107.6,52.81 107.95,52.49 108.3,52.17 108.65,51.84 109,51.52 109.35,51.2 109.7,50.87 110.05,50.55 110.4,50.23 110.75,49.91 111.1,49.59 111.45,49.27 111.8,48.95 112.15,48.64 112.5,48.32 112.85,48.01 113.2,47.7 113.55,47.39 113.9,47.09 114.25,46.78 114.6,46.48 114.95,46.17 115.3,45.87 115.65,45.57 116,45.27 116.35,44.97 116.7,44.67 117.05,44.38 117.4,44.08 117.75,43.79 118.1,43.5 118.45,43.22 118.8,42.94 119.15,42.66 119.5,42.38 119.85,42.11 120.2,41.85 120.55,41.58 120.9,41.31 121.25,41.04 121.6,40.78 121.95,40.51 122.3,40.25 122.65,39.99 123,39.75 123.35,39.5 123.7,39.27 124.05,39.05 124.4,38.83 124.75,38.63 125.1,38.45 125.45,38.26 125.8,38.07 126.15,37.88 126.5,37.7 126.85,37.53 127.2,37.37 127.55,37.24 127.9,37.13 128.25,37.04 128.6,36.99 128.95,36.94 129.3,36.9 129.65,36.87 130,36.84 130.35,36.82 130.7,36.8 131.05,36.8 131.4,36.87 131.75,37.02 132.1,37.25 132.45,37.53 132.8,37.85 133.15,38.19 133.5,38.53 133.85,38.87 134.2,39.18 134.55,39.52 134.9,39.88 135.25,40.26 135.6,40.66 135.95,41.07 136.3,41.49 136.65,41.91 137,42.34 137.35,42.75 137.7,43.16 138.05,43.56 138.4,43.94 138.75,44.32 139.1,44.7 139.45,45.08 139.8,45.46 140.15,45.83 140.5,46.21 140.85,46.59 141.2,46.97 141.55,47.35 141.9,47.74 142.25,48.13 142.6,48.53 142.95,48.94 143.3,49.36 143.65,49.79 144,50.22 144.35,50.67 144.7,51.12 145.05,51.57 145.4,52.03 145.75,52.5 146.1,52.96 146.45,53.43 146.8,53.9 147.15,54.37 147.5,54.83 147.85,55.3 148.2,55.75 148.55,56.21 148.9,56.65 149.25,57.09 149.6,57.52 149.95,57.94 150.3,58.35 150.65,58.76 151,59.17 151.35,59.57 151.7,59.97 152.05,60.37 152.4,60.76 152.75,61.14 153.1,61.53 153.45,61.9 153.8,62.27 154.15,62.64 154.5,63 154.85,63.35 155.2,63.7 155.55,64.05 155.9,64.4 156.25,64.75 156.6,65.1 156.95,65.44 157.3,65.78 157.65,66.11 158,66.43 158.35,66.74 158.7,67.04 159.05,67.32 159.4,67.59 159.75,67.83 160.1,68.06 160.45,68.28 160.8,68.49 161.15,68.68 161.5,68.87 161.85,69.05 162.2,69.23 162.55,69.4 162.9,69.56 163.25,69.72 163.6,69.88 163.95,70.04 164.3,70.19 164.65,70.35 165,70.5 165.35,70.65 165.7,70.8 166.05,70.95 166.4,71.09 166.75,71.23 167.1,71.37 167.45,71.51 167.8,71.64 168.15,71.78 168.5,71.91 168.85,72.05 169.2,72.18 169.55,72.32 169.9,72.46 170.25,72.6 170.6,72.74 170.95,72.88 171.3,73.03 171.65,73.17 172,73.31 172.35,73.45 172.7,73.59 173.05,73.74 173.4,73.88 173.75,74.01 174.1,74.15 174.45,74.29 174.8,74.42 175.15,74.56 175.5,74.69 175.85,74.82 176.2,74.96 176.55,75.09 176.9,75.23 177.25,75.36 177.6,75.49 177.95,75.62 178.3,75.74 178.65,75.86 179,75.98 179.35,76.1 179.7,76.21 180.05,76.31 180.4,76.42 180.75,76.52 181.1,76.62 181.45,76.71 181.8,76.8 182.15,76.9 182.5,76.99 182.85,77.08 183.2,77.16 183.55,77.25 183.9,77.33 184.25,77.42 184.6,77.5 184.95,77.58 185.3,77.66 185.65,77.74 186,77.82 186.35,77.9 186.7,77.98 187.05,78.06 187.4,78.14 187.75,78.22 188.1,78.3 188.45,78.38 188.8,78.45 189.15,78.53 189.5,78.61 189.85,78.69 190.2,78.77 190.55,78.85 190.9,78.93 191.25,79.01 191.6,79.09 191.95,79.17 192.3,79.24 192.65,79.32 193,79.4 193.35,79.47 193.7,79.54 194.05,79.62 194.4,79.69 194.75,79.76 195.1,79.83 195.45,79.9 195.8,79.96 196.15,80.03 196.5,80.09 196.85,80.16 197.2,80.22 197.55,80.28 197.9,80.35 198.25,80.41 198.6,80.47 198.95,80.53 199.3,80.59 199.65,80.65 200,80.71 200.35,80.77 200.7,80.83 201.05,80.88 201.4,80.94 201.75,80.99 202.1,81.04 202.45,81.09 202.8,81.14 203.15,81.19 203.5,81.24 203.85,81.28 204.2,81.32 204.55,81.37 204.9,81.41 205.25,81.45 205.6,81.49 205.95,81.53 206.3,81.56 206.65,81.6 207,81.64 207.35,81.67 207.7,81.71 208.05,81.74 208.4,81.78 208.75,81.81 209.1,81.84 209.45,81.87 209.8,81.91 210.15,81.94 210.5,81.97 210.85,82 211.2,82.03 211.55,82.07 211.9,82.1 212.25,82.13 212.6,82.16 212.95,82.2 213.3,82.23 213.65,82.26 214,82.29 214.35,82.33 214.7,82.36 215.05,82.39 215.4,82.42 215.75,82.45 216.1,82.48 216.45,82.52 216.8,82.55 217.15,82.58 217.5,82.61 217.85,82.64 218.2,82.67 218.55,82.7 218.9,82.73 219.25,82.76 219.6,82.79 219.95,82.82 220.3,82.85 220.65,82.88 221,82.91 221.35,82.94 221.7,82.97 222.05,83 222.4,83.03 222.75,83.06 223.1,83.09 223.45,83.12 223.8,83.15 224.15,83.18 224.5,83.2 224.85,83.23 225.2,83.26 225.55,83.29"/>
<polyline fill="none" stroke="#2f2a85" stroke-width="1.1" stroke-linejoin="round"  points="37.6,84.48 37.95,84.31 38.3,84.21 38.65,84.22 39,84.35 39.35,84.54 39.7,84.74 40.05,84.88 40.4,84.95 40.75,84.93 41.1,84.82 41.45,84.62 41.8,84.31 42.15,83.91 42.5,83.43 42.85,82.9 43.2,82.41 43.55,82.06 43.9,81.92 44.25,82 44.6,82.24 44.95,82.54 45.3,82.79 45.65,82.92 46,82.95 46.35,82.93 46.7,82.9 47.05,82.91 47.4,82.96 47.75,83.06 48.1,83.23 48.45,83.48 48.8,83.8 49.15,84.13 49.5,84.43 49.85,84.64 50.2,84.75 50.55,84.77 50.9,84.74 51.25,84.69 51.6,84.67 51.95,84.72 52.3,84.83 52.65,85 53,85.2 53.35,85.42 53.7,85.63 54.05,85.77 54.4,85.83 54.75,85.82 55.1,85.76 55.45,85.72 55.8,85.74 56.15,85.82 56.5,85.92 56.85,85.96 57.2,85.9 57.55,85.71 57.9,85.39 58.25,85.02 58.6,84.67 58.95,84.44 59.3,84.35 59.65,84.39 60,84.47 60.35,84.5 60.7,84.42 61.05,84.25 61.4,84.07 61.75,83.99 62.1,84.07 62.45,84.33 62.8,84.68 63.15,85.02 63.5,85.27 63.85,85.4 64.2,85.44 64.55,85.4 64.9,85.31 65.25,85.18 65.6,85 65.95,84.8 66.3,84.64 66.65,84.58 67,84.67 67.35,84.9 67.7,85.22 68.05,85.56 68.4,85.83 68.75,85.97 69.1,85.96 69.45,85.8 69.8,85.47 70.15,84.99 70.5,84.39 70.85,83.76 71.2,83.23 71.55,82.92 71.9,82.91 72.25,83.22 72.6,83.72 72.95,84.27 73.3,84.72 73.65,85.02 74,85.16 74.35,85.22 74.7,85.23 75.05,85.22 75.4,85.16 75.75,85.03 76.1,84.84 76.45,84.63 76.8,84.45 77.15,84.35 77.5,84.35 77.85,84.43 78.2,84.51 78.55,84.5 78.9,84.34 79.25,84.01 79.6,83.56 79.95,83.09 80.3,82.72 80.65,82.54 81,82.56 81.35,82.77 81.7,83.1 82.05,83.51 82.4,83.93 82.75,84.35 83.1,84.74 83.45,85.09 83.8,85.37 84.15,85.53 84.5,85.56 84.85,85.44 85.2,85.21 85.55,84.93 85.9,84.65 86.25,84.41 86.6,84.2 86.95,84.06 87.3,84.03 87.65,84.14 88,84.36 88.35,84.62 88.7,84.8 89.05,84.84 89.4,84.7 89.75,84.45 90.1,84.16 90.45,83.9 90.8,83.7 91.15,83.59 91.5,83.59 91.85,83.69 92.2,83.86 92.55,84.07 92.9,84.24 93.25,84.31 93.6,84.27 93.95,84.11 94.3,83.88 94.65,83.67 95,83.57 95.35,83.6 95.7,83.73 96.05,83.89 96.4,83.99 96.75,84 97.1,83.92 97.45,83.81 97.8,83.75 98.15,83.79 98.5,83.95 98.85,84.16 99.2,84.37 99.55,84.52 99.9,84.62 100.25,84.7 100.6,84.82 100.95,85.01 101.3,85.27 101.65,85.55 102,85.77 102.35,85.89 102.7,85.87 103.05,85.77 103.4,85.7 103.75,85.76 104.1,85.98 104.45,86.33 104.8,86.7 105.15,87.02 105.5,87.22 105.85,87.28 106.2,87.23 106.55,87.15 106.9,87.12 107.25,87.2 107.6,87.35 107.95,87.48 108.3,87.41 108.65,87.04 109,86.39 109.35,85.58 109.7,84.77 110.05,84.09 110.4,83.57 110.75,83.18 111.1,82.89 111.45,82.71 111.8,82.83 112.15,83.39 112.5,84.17 112.85,85.02 113.2,85.85 113.55,86.49 113.9,86.05 114.25,85.14 114.6,84.03 114.95,83 115.3,82.32 115.65,82.28 116,82.95 116.35,84.06 116.7,85.31 117.05,86.38 117.4,86.97 117.75,86.83 118.1,86.14 118.45,85.15 118.8,84.13 119.15,83.32 119.5,83 119.85,83.9 120.2,85.93 120.55,88.1 120.9,89.42 121.25,89.27 121.6,88.31 121.95,86.85 122.3,85.15 122.65,83.5 123,82.15 123.35,81.39 123.7,81.58 124.05,83.04 124.4,84.99 124.75,86.58 125.1,86.94 125.45,85.86 125.8,83.84 126.15,81.39 126.5,79.01 126.85,77.21 127.2,76.5 127.55,77.34 127.9,79.36 128.25,81.8 128.6,83.93 128.95,84.98 129.3,84.22 129.65,81.82 130,78.6 130.35,75.38 130.7,72.98 131.05,72.24 131.4,74.32 131.75,78.52 132.1,83.35 132.45,87.34 132.8,89 133.15,87.24 133.5,83.1 133.85,78.23 134.2,74.32 134.55,73.03 134.9,74.56 135.25,77.87 135.6,82.11 135.95,86.48 136.3,90.14 136.65,92.26 137,92.16 137.35,90.23 137.7,87.21 138.05,83.78 138.4,80.65 138.75,78.52 139.1,78.09 139.45,79.68 139.8,82.58 140.15,85.95 140.5,88.97 140.85,90.79 141.2,90.65 141.55,88.68 141.9,85.68 142.25,82.46 142.6,79.8 142.95,78.52 143.3,79.32 143.65,81.85 144,85.25 144.35,88.65 144.7,91.18 145.05,91.97 145.4,90.21 145.75,86.66 146.1,82.57 146.45,79.2 146.8,77.8 147.15,78.97 147.5,81.75 147.85,85 148.2,87.62 148.55,88.49 148.9,87.98 149.25,86.92 149.6,85.63 149.95,84.43 150.3,83.64 150.65,83.55 151,83.97 151.35,84.67 151.7,85.44 152.05,86.11 152.4,86.48 152.75,86.28 153.1,85.81 153.45,85.21 153.8,84.65 154.15,84.38 154.5,84.63 154.85,85.17 155.2,85.8 155.55,86.37 155.9,86.77 156.25,86.91 156.6,86.78 156.95,86.43 157.3,86 157.65,85.61 158,85.33 158.35,85.17 158.7,85.06 159.05,84.93 159.4,84.77 159.75,84.64 160.1,84.58 160.45,84.62 160.8,84.75 161.15,84.92 161.5,85.1 161.85,85.3 162.2,85.54 162.55,85.78 162.9,85.98 163.25,86.03 163.6,85.86 163.95,85.43 164.3,84.83 164.65,84.21 165,83.74 165.35,83.5 165.7,83.48 166.05,83.6 166.4,83.78 166.75,83.97 167.1,84.21 167.45,84.51 167.8,84.84 168.15,85.1 168.5,85.17 168.85,85.01 169.2,84.68 169.55,84.31 169.9,84.05 170.25,83.99 170.6,84.17 170.95,84.55 171.3,85.02 171.65,85.47 172,85.76 172.35,85.8 172.7,85.59 173.05,85.17 173.4,84.67 173.75,84.19 174.1,83.85 174.45,83.71 174.8,83.77 175.15,83.94 175.5,84.14 175.85,84.27 176.2,84.33 176.55,84.36 176.9,84.43 177.25,84.55 177.6,84.68 177.95,84.77 178.3,84.77 178.65,84.71 179,84.65 179.35,84.66 179.7,84.78 180.05,85.02 180.4,85.32 180.75,85.61 181.1,85.82 181.45,85.95 181.8,86.01 182.15,86.06 182.5,86.1 182.85,86.09 183.2,85.95 183.55,85.67 183.9,85.28 184.25,84.89 184.6,84.59 184.95,84.45 185.3,84.43 185.65,84.44 186,84.41 186.35,84.28 186.7,84.08 187.05,83.84 187.4,83.6 187.75,83.38 188.1,83.2 188.45,83.07 188.8,83.01 189.15,83.03 189.5,83.13 189.85,83.27 190.2,83.43 190.55,83.6 190.9,83.79 191.25,84.03 191.6,84.32 191.95,84.62 192.3,84.88 192.65,85.03 193,85.08 193.35,85.05 193.7,84.99 194.05,84.94 194.4,84.91 194.75,84.87 195.1,84.8 195.45,84.72 195.8,84.63 196.15,84.53 196.5,84.39 196.85,84.19 197.2,83.92 197.55,83.61 197.9,83.32 198.25,83.09 198.6,82.96 198.95,82.9 199.3,82.87 199.65,82.84 200,82.79 200.35,82.77 200.7,82.81 201.05,82.94 201.4,83.14 201.75,83.34 202.1,83.51 202.45,83.58 202.8,83.57 203.15,83.53 203.5,83.54 203.85,83.67 204.2,83.96 204.55,84.34 204.9,84.75 205.25,85.06 205.6,85.23 205.95,85.19 206.3,84.95 206.65,84.54 207,84.08 207.35,83.69 207.7,83.46 208.05,83.4 208.4,83.45 208.75,83.52 209.1,83.54 209.45,83.51 209.8,83.45 210.15,83.41 210.5,83.4 210.85,83.41 211.2,83.44 211.55,83.46 211.9,83.51 212.25,83.6 212.6,83.74 212.95,83.9 213.3,84 213.65,83.96 214,83.78 214.35,83.56 214.7,83.4 215.05,83.38 215.4,83.52 215.75,83.8 216.1,84.18 216.45,84.63 216.8,85.11 217.15,85.52 217.5,85.75 217.85,85.72 218.2,85.44 218.55,85 218.9,84.55 219.25,84.19 219.6,84.01 219.95,83.99 220.3,84.08 220.65,84.17 221,84.21 221.35,84.14 221.7,84 222.05,83.84 222.4,83.7 222.75,83.62 223.1,83.56 223.45,83.5 223.8,83.41 224.15,83.32 224.5,83.28 224.85,83.33 225.2,83.51 225.55,83.78"/>
</g>
<g>
<text transform="translate(131.75,135.3) scale(0.09149,0.07)" font-size="100" text-anchor="middle" font-weight="bold" fill="#000">PSR B0525+21 | Pulse 37</text>
<line x1="38.1" y1="225.63" x2="221.92" y2="225.63" stroke="#222" stroke-width="0.9" />
<line x1="38.1" y1="225.63" x2="38.1" y2="228.83" stroke="#222" stroke-width="0.9" />
<text transform="translate(38.1,237.43) scale(0.09149,0.0798)" font-size="100" text-anchor="middle" font-weight="normal" fill="#000">0</text>
<line x1="64.36" y1="225.63" x2="64.36" y2="228.83" stroke="#222" stroke-width="0.9" />
<text transform="translate(64.36,237.43) scale(0.09149,0.0798)" font-size="100" text-anchor="middle" font-weight="normal" fill="#000">10</text>
<line x1="90.62" y1="225.63" x2="90.62" y2="228.83" stroke="#222" stroke-width="0.9" />
<text transform="translate(90.62,237.43) scale(0.09149,0.0798)" font-size="100" text-anchor="middle" font-weight="normal" fill="#000">20</text>
<line x1="116.88" y1="225.63" x2="116.88" y2="228.83" stroke="#222" stroke-width="0.9" />
<text transform="translate(116.88,237.43) scale(0.09149,0.0798)" font-size="100" text-anchor="middle" font-weight="normal" fill="#000">30</text>
<line x1="143.14" y1="225.63" x2="143.14" y2="228.83" stroke="#222" stroke-width="0.9" />
<text transform="translate(143.14,237.43) scale(0.09149,0.0798)" font-size="100" text-anchor="middle" font-weight="normal" fill="#000">40</text>
<line x1="169.4" y1="225.63" x2="169.4" y2="228.83" stroke="#222" stroke-width="0.9" />
<text transform="translate(169.4,237.43) scale(0.09149,0.0798)" font-size="100" text-anchor="middle" font-weight="normal" fill="#000">50</text>
<line x1="195.66" y1="225.63" x2="195.66" y2="228.83" stroke="#222" stroke-width="0.9" />
<text transform="translate(195.66,237.43) scale(0.09149,0.0798)" font-size="100" text-anchor="middle" font-weight="normal" fill="#000">60</text>
<line x1="221.92" y1="225.63" x2="221.92" y2="228.83" stroke="#222" stroke-width="0.9" />
<text transform="translate(221.92,237.43) scale(0.09149,0.0798)" font-size="100" text-anchor="middle" font-weight="normal" fill="#000">70</text>
<text transform="translate(131.9,249.03) scale(0.09149,0.0742)" font-size="100" text-anchor="middle" font-weight="normal" fill="#000">Time (ms)</text>
<line x1="30.5" y1="215.8" x2="30.5" y2="157.2" stroke="#222" stroke-width="0.9" />
<line x1="26" y1="215.8" x2="30.5" y2="215.8" stroke="#222" stroke-width="0.9" />
<text transform="translate(20.4,215.8) rotate(-90) scale(0.07,0.09499)" font-size="100" text-anchor="middle" fill="#000">0</text>
<line x1="26" y1="201.15" x2="30.5" y2="201.15" stroke="#222" stroke-width="0.9" />
<line x1="26" y1="186.5" x2="30.5" y2="186.5" stroke="#222" stroke-width="0.9" />
<text transform="translate(20.4,186.5) rotate(-90) scale(0.07,0.09499)" font-size="100" text-anchor="middle" fill="#000">40000</text>
<line x1="26" y1="171.85" x2="30.5" y2="171.85" stroke="#222" stroke-width="0.9" />
<line x1="26" y1="157.2" x2="30.5" y2="157.2" stroke="#222" stroke-width="0.9" />
<text transform="translate(20.4,157.2) rotate(-90) scale(0.07,0.09499)" font-size="100" text-anchor="middle" fill="#000">80000</text>
<text transform="translate(7,186.18) rotate(-90) scale(0.07,0.09002)" font-size="100" text-anchor="middle" fill="#000">Signal</text>
<path d="M37.2 208.49h1.8M37.36 206.59h1.8M37.52 200.93h1.8M37.67 199.32h1.8M37.83 204.41h1.8M37.99 202.83h1.8M38.15 200.26h1.8M38.3 194.58h1.8M38.46 193.03h1.8M38.62 201.68h1.8M38.78 203.26h1.8M38.93 203.26h1.8M39.09 194.71h1.8M39.25 203.96h1.8M39.41 197.49h1.8M39.56 201.08h1.8M39.72 201.06h1.8M39.88 196h1.8M40.04 196.71h1.8M40.19 190.58h1.8M40.35 195.11h1.8M40.51 191.38h1.8M40.67 200.31h1.8M40.82 198.64h1.8M40.98 201.96h1.8M41.14 199.54h1.8M41.3 195.35h1.8M41.45 199.16h1.8M41.61 195.96h1.8M41.77 199.68h1.8M41.93 198.13h1.8M42.08 192.38h1.8M42.24 195.96h1.8M42.4 195.69h1.8M42.56 193.72h1.8M42.71 198.15h1.8M42.87 197.94h1.8M43.03 192.1h1.8M43.19 191.83h1.8M43.34 183.71h1.8M43.5 192.21h1.8M43.66 190.79h1.8M43.82 183.59h1.8M43.98 193.54h1.8M44.13 194.68h1.8M44.29 189.14h1.8M44.45 190.54h1.8M44.61 188.01h1.8M44.76 195.05h1.8M44.92 185.58h1.8M45.08 190.47h1.8M45.24 199.74h1.8M45.39 191.84h1.8M45.55 193.49h1.8M45.71 190.89h1.8M45.87 186.58h1.8M46.02 191.24h1.8M46.18 193h1.8M46.34 187.02h1.8M46.5 192.61h1.8M46.65 196.3h1.8M46.81 195.52h1.8M46.97 184.45h1.8M47.13 186.91h1.8M47.28 184.2h1.8M47.44 195.3h1.8M47.6 193.32h1.8M47.76 193.64h1.8M47.91 186.98h1.8M48.07 185.71h1.8M48.23 190.82h1.8M48.39 190.84h1.8M48.54 186.77h1.8M48.7 190.85h1.8M48.86 192.86h1.8M49.02 191.03h1.8M49.17 185.63h1.8M49.33 181.05h1.8M49.49 188.72h1.8M49.65 190.4h1.8M49.8 188.53h1.8M49.96 187.73h1.8M50.12 186.53h1.8M50.28 192.35h1.8M50.44 189.02h1.8M50.59 189.66h1.8M50.75 184.96h1.8M50.91 186.33h1.8M51.07 189.54h1.8M51.22 184.51h1.8M51.38 179.1h1.8M51.54 187.15h1.8M51.7 193.5h1.8M51.85 189.13h1.8M52.01 194.38h1.8M52.17 187.54h1.8M52.33 186.67h1.8M52.48 181.97h1.8M52.64 185.3h1.8M52.8 193.71h1.8M52.96 188.89h1.8M53.11 190.48h1.8M53.27 190.22h1.8M53.43 187.04h1.8M53.59 186.04h1.8M53.74 187.23h1.8M53.9 189.38h1.8M54.06 188.25h1.8M54.22 188.17h1.8M54.37 178.56h1.8M54.53 182.29h1.8M54.69 184.2h1.8M54.85 181.02h1.8M55 189.07h1.8M55.16 162.11h1.8M55.32 183.29h1.8M55.48 194.17h1.8M55.63 182.21h1.8M55.79 178.54h1.8M55.95 183.05h1.8M56.11 188.41h1.8M56.26 181.93h1.8M56.42 185.01h1.8M56.58 182.57h1.8M56.74 180.32h1.8M56.9 195.28h1.8M57.05 181.83h1.8M57.21 179.04h1.8M57.37 179.07h1.8M57.53 182.7h1.8M57.68 182.7h1.8M57.84 184.2h1.8M58 181.42h1.8M58.16 174.59h1.8M58.31 183.08h1.8M58.47 179.45h1.8M58.63 179.58h1.8M58.79 174.42h1.8M58.94 178.41h1.8M59.1 177.79h1.8M59.26 180.84h1.8M59.42 174.74h1.8M59.57 181.31h1.8M59.73 181.66h1.8M59.89 176.26h1.8M60.05 178.41h1.8M60.2 177.38h1.8M60.36 198.83h1.8M60.52 169.97h1.8M60.68 179.37h1.8M60.83 173.49h1.8M60.99 178.66h1.8M61.15 184.04h1.8M61.31 177.34h1.8M61.46 180.44h1.8M61.62 175.86h1.8M61.78 187.74h1.8M61.94 182.94h1.8M62.09 183.55h1.8M62.25 172.45h1.8M62.41 173.11h1.8M62.57 182.35h1.8M62.72 176.43h1.8M62.88 175.83h1.8M63.04 178.13h1.8M63.2 170.85h1.8M63.35 179.5h1.8M63.51 175.93h1.8M63.67 177.73h1.8M63.83 172.48h1.8M63.99 177.52h1.8M64.14 172.04h1.8M64.3 179.28h1.8M64.46 180.02h1.8M64.62 179.05h1.8M64.77 177.33h1.8M64.93 177.92h1.8M65.09 163.2h1.8M65.25 179.03h1.8M65.4 174.25h1.8M65.56 176.07h1.8M65.72 174.58h1.8M65.88 169.88h1.8M66.03 173.9h1.8M66.19 179.48h1.8M66.35 183.13h1.8M66.51 174.32h1.8M66.66 173.36h1.8M66.82 184.15h1.8M66.98 174.04h1.8M67.14 187.53h1.8M67.29 178.81h1.8M67.45 174.94h1.8M67.61 183.58h1.8M67.77 187.05h1.8M67.92 175.63h1.8M68.08 187.01h1.8M68.24 179.04h1.8M68.4 187.2h1.8M68.55 179.08h1.8M68.71 173.91h1.8M68.87 183.44h1.8M69.03 185.5h1.8M69.18 190.91h1.8M69.34 189.35h1.8M69.5 184.81h1.8M69.66 180.67h1.8M69.81 179.4h1.8M69.97 180.41h1.8M70.13 177.9h1.8M70.29 180.31h1.8M70.45 169.8h1.8M70.6 181.82h1.8M70.76 180.49h1.8M70.92 191.78h1.8M71.08 183.12h1.8M71.23 176.95h1.8M71.39 181.09h1.8M71.55 172.32h1.8M71.71 174.48h1.8M71.86 168.02h1.8M72.02 182.28h1.8M72.18 177.72h1.8M72.34 168.94h1.8M72.49 173.27h1.8M72.65 177.12h1.8M72.81 174.34h1.8M72.97 173.14h1.8M73.12 166.81h1.8M73.28 167.2h1.8M73.44 169.93h1.8M73.6 173.19h1.8M73.75 164.71h1.8M73.91 162.98h1.8M74.07 172.98h1.8M74.23 163.24h1.8M74.38 172.26h1.8M74.54 168.32h1.8M74.7 171.23h1.8M74.86 175.18h1.8M75.01 170.42h1.8M75.17 170.91h1.8M75.33 163.29h1.8M75.49 164.47h1.8M75.64 170.82h1.8M75.8 175.15h1.8M75.96 174.76h1.8M76.12 179.32h1.8M76.27 170.4h1.8M76.43 170.25h1.8M76.59 174.31h1.8M76.75 170.16h1.8M76.91 170.18h1.8M77.06 166.05h1.8M77.22 175.88h1.8M77.38 166.78h1.8M77.54 174.53h1.8M77.69 166.04h1.8M77.85 178.12h1.8M78.01 168.72h1.8M78.17 177.83h1.8M78.32 166.99h1.8M78.48 172.74h1.8M78.64 180.66h1.8M78.8 171.86h1.8M78.95 176.31h1.8M79.11 174.15h1.8M79.27 166h1.8M79.43 178.52h1.8M79.58 179.41h1.8M79.74 172.56h1.8M79.9 180.65h1.8M80.06 174.52h1.8M80.21 173.76h1.8M80.37 178.66h1.8M80.53 175.6h1.8M80.69 192.08h1.8M80.84 171.72h1.8M81 182.47h1.8M81.16 183.66h1.8M81.32 169.64h1.8M81.47 170.66h1.8M81.63 181.14h1.8M81.79 175.94h1.8M81.95 179.62h1.8M82.1 182.74h1.8M82.26 175.19h1.8M82.42 171.42h1.8M82.58 163.07h1.8M82.73 176.3h1.8M82.89 170.41h1.8M83.05 175.68h1.8M83.21 174.73h1.8M83.37 166.58h1.8M83.52 180.7h1.8M83.68 177.19h1.8M83.84 175.63h1.8M84 165.61h1.8M84.15 168.94h1.8M84.31 167.95h1.8M84.47 168.39h1.8M84.63 164.85h1.8M84.78 172.19h1.8M84.94 171.21h1.8M85.1 171.9h1.8M85.26 167.83h1.8M85.41 176.44h1.8M85.57 171.32h1.8M85.73 157.55h1.8M85.89 167.66h1.8M86.04 170.59h1.8M86.2 175.63h1.8M86.36 169.8h1.8M86.52 170.24h1.8M86.67 168.48h1.8M86.83 175.01h1.8M86.99 169.92h1.8M87.15 169.39h1.8M87.3 168.94h1.8M87.46 175.35h1.8M87.62 170.35h1.8M87.78 165.08h1.8M87.93 176.25h1.8M88.09 170.09h1.8M88.25 175.3h1.8M88.41 175.53h1.8M88.56 197.98h1.8M88.72 178.96h1.8M88.88 171.28h1.8M89.04 173.27h1.8M89.19 167.92h1.8M89.35 182.14h1.8M89.51 176.2h1.8M89.67 180.73h1.8M89.83 172.46h1.8M89.98 164.1h1.8M90.14 181.16h1.8M90.3 174.17h1.8M90.46 174.24h1.8M90.61 173.74h1.8M90.77 176.41h1.8M90.93 175.73h1.8M91.09 165.42h1.8M91.24 178.04h1.8M91.4 170.14h1.8M91.56 170.25h1.8M91.72 180.53h1.8M91.87 176.48h1.8M92.03 170.29h1.8M92.19 162.86h1.8M92.35 172.27h1.8M92.5 173.86h1.8M92.66 170.71h1.8M92.82 164.97h1.8M92.98 166.33h1.8M93.13 164.54h1.8M93.29 171.34h1.8M93.45 174.03h1.8M93.61 174.84h1.8M93.76 166.33h1.8M93.92 170.76h1.8M94.08 172.12h1.8M94.24 166.95h1.8M94.39 168.54h1.8M94.55 179.2h1.8M94.71 170.02h1.8M94.87 178.1h1.8M95.02 166.85h1.8M95.18 169.06h1.8M95.34 160.75h1.8M95.5 168.73h1.8M95.65 174.53h1.8M95.81 178.87h1.8M95.97 174.8h1.8M96.13 172.63h1.8M96.28 169.96h1.8M96.44 167.27h1.8M96.6 169.77h1.8M96.76 173.93h1.8M96.92 167.87h1.8M97.07 176.54h1.8M97.23 168.11h1.8M97.39 165h1.8M97.55 169.24h1.8M97.7 166.79h1.8M97.86 168.79h1.8M98.02 181.15h1.8M98.18 175.48h1.8M98.33 178h1.8M98.49 182.89h1.8M98.65 183.85h1.8M98.81 175.95h1.8M98.96 184.9h1.8M99.12 180.71h1.8M99.28 179.12h1.8M99.44 181.29h1.8M99.59 172.62h1.8M99.75 175.66h1.8M99.91 178.86h1.8M100.07 182.24h1.8M100.22 177.67h1.8M100.38 178.83h1.8M100.54 183.94h1.8M100.7 186h1.8M100.85 182.98h1.8M101.01 185.29h1.8M101.17 177.48h1.8M101.33 177.9h1.8M101.48 180.77h1.8M101.64 177.84h1.8M101.8 177.26h1.8M101.96 186.81h1.8M102.11 178.14h1.8M102.27 174.52h1.8M102.43 181.2h1.8M102.59 187.38h1.8M102.74 179.16h1.8M102.9 184.42h1.8M103.06 176.61h1.8M103.22 186.43h1.8M103.38 175.28h1.8M103.53 177.73h1.8M103.69 186.81h1.8M103.85 172.91h1.8M104.01 185.74h1.8M104.16 173.45h1.8M104.32 176.97h1.8M104.48 181.85h1.8M104.64 180.85h1.8M104.79 179.21h1.8M104.95 170.27h1.8M105.11 179.54h1.8M105.27 173.15h1.8M105.42 189.7h1.8M105.58 176.9h1.8M105.74 178.77h1.8M105.9 172.65h1.8M106.05 175.74h1.8M106.21 172.04h1.8M106.37 182.5h1.8M106.53 176.82h1.8M106.68 180.63h1.8M106.84 174.92h1.8M107 175.78h1.8M107.16 183.99h1.8M107.31 173.63h1.8M107.47 169.82h1.8M107.63 179.91h1.8M107.79 172.8h1.8M107.94 175.97h1.8M108.1 182.09h1.8M108.26 174h1.8M108.42 181.57h1.8M108.57 174.1h1.8M108.73 183.63h1.8M108.89 186.75h1.8M109.05 173.63h1.8M109.2 174.2h1.8M109.36 170.7h1.8M109.52 174.7h1.8M109.68 178.25h1.8M109.84 168.49h1.8M109.99 175.6h1.8M110.15 164.59h1.8M110.31 165.87h1.8M110.47 158.99h1.8M110.62 177.7h1.8M110.78 167.61h1.8M110.94 167.67h1.8M111.1 162.77h1.8M111.25 169.95h1.8M111.41 154.97h1.8M111.57 164.01h1.8M111.73 173.38h1.8M111.88 161.19h1.8M112.04 162.64h1.8M112.2 165.32h1.8M112.36 158.42h1.8M112.51 162.13h1.8M112.67 166.36h1.8M112.83 163.12h1.8M112.99 164.14h1.8M113.14 161.36h1.8M113.3 164.85h1.8M113.46 164.32h1.8M113.62 171.33h1.8M113.77 168.81h1.8M113.93 165.32h1.8M114.09 156.3h1.8M114.25 171.51h1.8M114.4 172.67h1.8M114.56 166.19h1.8M114.72 162.37h1.8M114.88 167.27h1.8M115.03 177.61h1.8M115.19 169.7h1.8M115.35 173.43h1.8M115.51 177.45h1.8M115.66 182.87h1.8M115.82 178.21h1.8M115.98 178.62h1.8M116.14 177.39h1.8M116.3 187.75h1.8M116.45 185.81h1.8M116.61 181.04h1.8M116.77 175.57h1.8M116.93 178.51h1.8M117.08 184.72h1.8M117.24 178.99h1.8M117.4 186.21h1.8M117.56 183.85h1.8M117.71 183.5h1.8M117.87 185.07h1.8M118.03 184.3h1.8M118.19 178.18h1.8M118.34 180.43h1.8M118.5 192.16h1.8M118.66 176.26h1.8M118.82 179.38h1.8M118.97 186.07h1.8M119.13 180.48h1.8M119.29 177.43h1.8M119.45 175.01h1.8M119.6 183.11h1.8M119.76 185.1h1.8M119.92 186.64h1.8M120.08 180.54h1.8M120.23 184.8h1.8M120.39 175.49h1.8M120.55 180.7h1.8M120.71 176.86h1.8M120.86 180.51h1.8M121.02 182.96h1.8M121.18 184.23h1.8M121.34 175.01h1.8M121.49 184.82h1.8M121.65 176.97h1.8M121.81 174.38h1.8M121.97 177.98h1.8M122.12 172.12h1.8M122.28 178.41h1.8M122.44 179.48h1.8M122.6 177.16h1.8M122.76 180.23h1.8M122.91 176.33h1.8M123.07 177.58h1.8M123.23 171.09h1.8M123.39 177.47h1.8M123.54 173.43h1.8M123.7 175.1h1.8M123.86 176.56h1.8M124.02 177.75h1.8M124.17 169.65h1.8M124.33 170.01h1.8M124.49 175.53h1.8M124.65 178.96h1.8M124.8 178.52h1.8M124.96 180.93h1.8M125.12 182.84h1.8M125.28 179.48h1.8M125.43 177.45h1.8M125.59 173.26h1.8M125.75 173.94h1.8M125.91 176.34h1.8M126.06 179.9h1.8M126.22 180.07h1.8M126.38 179.53h1.8M126.54 179.27h1.8M126.69 183.11h1.8M126.85 181.73h1.8M127.01 182.57h1.8M127.17 183.09h1.8M127.32 179.85h1.8M127.48 178.21h1.8M127.64 185.28h1.8M127.8 185.41h1.8M127.95 183.09h1.8M128.11 182.68h1.8M128.27 194.75h1.8M128.43 181.99h1.8M128.58 184.69h1.8M128.74 187.13h1.8M128.9 181.27h1.8M129.06 187.04h1.8M129.22 196.92h1.8M129.37 190.95h1.8M129.53 189.79h1.8M129.69 189.72h1.8M129.85 187.74h1.8M130 191.45h1.8M130.16 186.71h1.8M130.32 185.59h1.8M130.48 187.88h1.8M130.63 191.34h1.8M130.79 188.87h1.8M130.95 190.33h1.8M131.11 187.96h1.8M131.26 192.51h1.8M131.42 197.39h1.8M131.58 193.03h1.8M131.74 185.88h1.8M131.89 183.55h1.8M132.05 188.32h1.8M132.21 182.84h1.8M132.37 190.11h1.8M132.52 184.69h1.8M132.68 190.98h1.8M132.84 192.63h1.8M133 178.07h1.8M133.15 187.94h1.8M133.31 183.66h1.8M133.47 180.58h1.8M133.63 183.92h1.8M133.78 185.59h1.8M133.94 190.91h1.8M134.1 180.01h1.8M134.26 190.97h1.8M134.41 195.09h1.8M134.57 173.41h1.8M134.73 188.88h1.8M134.89 186.56h1.8M135.04 181.68h1.8M135.2 189.04h1.8M135.36 188.49h1.8M135.52 190.08h1.8M135.67 198h1.8M135.83 190.35h1.8M135.99 189.24h1.8M136.15 194.24h1.8M136.31 182.16h1.8M136.46 183.25h1.8M136.62 186.79h1.8M136.78 185.89h1.8M136.94 191.92h1.8M137.09 187.99h1.8M137.25 197.04h1.8M137.41 196.48h1.8M137.57 193.71h1.8M137.72 189.25h1.8M137.88 193.15h1.8M138.04 195.15h1.8M138.2 187.68h1.8M138.35 194.09h1.8M138.51 196.05h1.8M138.67 194.45h1.8M138.83 200.61h1.8M138.98 199.57h1.8M139.14 191.47h1.8M139.3 195.93h1.8M139.46 192.36h1.8M139.61 198.76h1.8M139.77 193.14h1.8M139.93 201.1h1.8M140.09 199.28h1.8M140.24 202.15h1.8M140.4 197.87h1.8M140.56 192.77h1.8M140.72 206.66h1.8M140.87 198.9h1.8M141.03 205.75h1.8M141.19 202.1h1.8M141.35 203.45h1.8M141.5 208.57h1.8M141.66 202.6h1.8M141.82 207.27h1.8M141.98 195.42h1.8M142.13 205.46h1.8M142.29 200.94h1.8M142.45 201.51h1.8M142.61 202.18h1.8M142.77 203.66h1.8M142.92 209.15h1.8M143.08 194.48h1.8M143.24 202.38h1.8M143.4 199.16h1.8M143.55 206.97h1.8M143.71 200.26h1.8M143.87 203.86h1.8M144.03 200.19h1.8M144.18 204.55h1.8M144.34 205.9h1.8M144.5 199.9h1.8M144.66 201.67h1.8M144.81 195.45h1.8M144.97 202.58h1.8M145.13 204.81h1.8M145.29 198.88h1.8M145.44 205.84h1.8M145.6 192.51h1.8M145.76 193.46h1.8M145.92 195.43h1.8M146.07 199.29h1.8M146.23 201.48h1.8M146.39 201.22h1.8M146.55 201.43h1.8M146.7 204.89h1.8M146.86 200.07h1.8M147.02 196.94h1.8M147.18 197.19h1.8M147.33 211.33h1.8M147.49 192.92h1.8M147.65 199.25h1.8M147.81 209.11h1.8M147.96 205.23h1.8M148.12 199.94h1.8M148.28 201.57h1.8M148.44 207.34h1.8M148.59 208.94h1.8M148.75 200.37h1.8M148.91 207.45h1.8M149.07 205.52h1.8M149.23 209.25h1.8M149.38 210.63h1.8M149.54 203.63h1.8M149.7 199.24h1.8M149.86 207.11h1.8M150.01 213.06h1.8M150.17 208.76h1.8M150.33 207.1h1.8M150.49 216.34h1.8M150.64 202.32h1.8M150.8 210.63h1.8M150.96 204.98h1.8M151.12 208.02h1.8M151.27 208.57h1.8M151.43 214.84h1.8M151.59 190.5h1.8M151.75 206.92h1.8M151.9 202.78h1.8M152.06 211.58h1.8M152.22 207.84h1.8M152.38 211.61h1.8M152.53 205.55h1.8M152.69 208.62h1.8M152.85 214.51h1.8M153.01 209.65h1.8M153.16 213.12h1.8M153.32 212.9h1.8M153.48 209.45h1.8M153.64 204.66h1.8M153.79 215.37h1.8M153.95 212.2h1.8M154.11 215.73h1.8M154.27 203.53h1.8M154.42 205.16h1.8M154.58 203.28h1.8M154.74 208.62h1.8M154.9 216.64h1.8M155.05 214.76h1.8M155.21 212.35h1.8M155.37 213.09h1.8M155.53 215.71h1.8M155.69 211.36h1.8M155.84 214.25h1.8M156 213.21h1.8M156.16 203.63h1.8M156.32 216.73h1.8M156.47 218.26h1.8M156.63 205.03h1.8M156.79 212.12h1.8M156.95 210.25h1.8M157.1 210.78h1.8M157.26 217.45h1.8M157.42 211.77h1.8M157.58 208.72h1.8M157.73 200.18h1.8M157.89 210.67h1.8M158.05 204.98h1.8M158.21 205.61h1.8M158.36 216.39h1.8M158.52 216.05h1.8M158.68 205.25h1.8M158.84 216.61h1.8M158.99 214.94h1.8M159.15 209.79h1.8M159.31 215.94h1.8M159.47 206.16h1.8M159.62 207.81h1.8M159.78 206.74h1.8M159.94 207.99h1.8M160.1 216.06h1.8M160.25 206.89h1.8M160.41 207.58h1.8M160.57 208.33h1.8M160.73 213.02h1.8M160.88 210.81h1.8M161.04 215.76h1.8M161.2 209.35h1.8M161.36 207.04h1.8M161.51 210.34h1.8M161.67 212.63h1.8M161.83 208.76h1.8M161.99 213.81h1.8M162.15 220.2h1.8M162.3 210.48h1.8M162.46 213.11h1.8M162.62 218.54h1.8M162.78 210.41h1.8M162.93 209.63h1.8M163.09 208.64h1.8M163.25 214.73h1.8M163.41 215.2h1.8M163.56 212.44h1.8M163.72 213.17h1.8M163.88 218.12h1.8M164.04 216.37h1.8M164.19 206.99h1.8M164.35 212.55h1.8M164.51 212.89h1.8M164.67 215.26h1.8M164.82 211.27h1.8M164.98 209.41h1.8M165.14 210.04h1.8M165.3 204.54h1.8M165.45 211.57h1.8M165.61 209.16h1.8M165.77 213.43h1.8M165.93 207.3h1.8M166.08 209.68h1.8M166.24 206.04h1.8M166.4 207.13h1.8M166.56 214.35h1.8M166.71 209.65h1.8M166.87 213.4h1.8M167.03 207.09h1.8M167.19 212.1h1.8M167.34 204.88h1.8M167.5 209.86h1.8M167.66 209.8h1.8M167.82 214.25h1.8M167.97 212.65h1.8M168.13 211.23h1.8M168.29 215.37h1.8M168.45 212.77h1.8M168.61 214.2h1.8M168.76 215.16h1.8M168.92 211.81h1.8M169.08 210.93h1.8M169.24 210.04h1.8M169.39 210.51h1.8M169.55 213.82h1.8M169.71 216.79h1.8M169.87 215.81h1.8M170.02 210.85h1.8M170.18 207.23h1.8M170.34 212.25h1.8M170.5 212h1.8M170.65 217.02h1.8M170.81 211.02h1.8M170.97 211.75h1.8M171.13 215.59h1.8M171.28 210.7h1.8M171.44 212.01h1.8M171.6 219.6h1.8M171.76 218.71h1.8M171.91 215.26h1.8M172.07 213.82h1.8M172.23 208.85h1.8M172.39 215.05h1.8M172.54 213.06h1.8M172.7 213.75h1.8M172.86 198.88h1.8M173.02 212.88h1.8M173.17 212.21h1.8M173.33 214.26h1.8M173.49 218.77h1.8M173.65 214.49h1.8M173.8 206.36h1.8M173.96 209.14h1.8M174.12 206.67h1.8M174.28 209.84h1.8M174.43 215.25h1.8M174.59 214.58h1.8M174.75 210.49h1.8M174.91 213.9h1.8M175.06 209.69h1.8M175.22 206.92h1.8M175.38 206.86h1.8M175.54 205.93h1.8M175.7 217.96h1.8M175.85 193.6h1.8M176.01 216.97h1.8M176.17 217.17h1.8M176.33 210.97h1.8M176.48 211.4h1.8M176.64 209.04h1.8M176.8 204.74h1.8M176.96 214.02h1.8M177.11 211.39h1.8M177.27 215.36h1.8M177.43 216.13h1.8M177.59 212.8h1.8M177.74 212.8h1.8M177.9 211.34h1.8M178.06 213.09h1.8M178.22 207.36h1.8M178.37 213.6h1.8M178.53 212.94h1.8M178.69 208.83h1.8M178.85 221.07h1.8M179 208.71h1.8M179.16 209.29h1.8M179.32 214.03h1.8M179.48 205.31h1.8M179.63 210.03h1.8M179.79 207.22h1.8M179.95 209.56h1.8M180.11 212.99h1.8M180.26 214.88h1.8M180.42 216.04h1.8M180.58 216.93h1.8M180.74 218.46h1.8M180.89 216.1h1.8M181.05 211.86h1.8M181.21 218.18h1.8M181.37 211.75h1.8M181.52 211.22h1.8M181.68 219.75h1.8M181.84 216.76h1.8M182 214.45h1.8M182.16 216.55h1.8M182.31 217.03h1.8M182.47 208.07h1.8M182.63 213.12h1.8M182.79 208.79h1.8M182.94 213.99h1.8M183.1 210.83h1.8M183.26 218.94h1.8M183.42 215.6h1.8M183.57 210.3h1.8M183.73 213.48h1.8M183.89 208.72h1.8M184.05 213.71h1.8M184.2 215.71h1.8M184.36 214.57h1.8M184.52 205.81h1.8M184.68 212.13h1.8M184.83 215.47h1.8M184.99 214.64h1.8M185.15 218.02h1.8M185.31 208.28h1.8M185.46 215.48h1.8M185.62 210.82h1.8M185.78 214.2h1.8M185.94 215.07h1.8M186.09 216.23h1.8M186.25 211.24h1.8M186.41 214.32h1.8M186.57 208.98h1.8M186.72 208.05h1.8M186.88 215.89h1.8M187.04 213.47h1.8M187.2 207.26h1.8M187.35 210.28h1.8M187.51 213.7h1.8M187.67 219.74h1.8M187.83 217.64h1.8M187.98 216.58h1.8M188.14 206.23h1.8M188.3 212.85h1.8M188.46 215.04h1.8M188.62 214.63h1.8M188.77 214.67h1.8M188.93 212.05h1.8M189.09 219.94h1.8M189.25 218.82h1.8M189.4 212.62h1.8M189.56 209.36h1.8M189.72 221.25h1.8M189.88 211.64h1.8M190.03 218.04h1.8M190.19 220.97h1.8M190.35 209.78h1.8M190.51 214.78h1.8M190.66 212.35h1.8M190.82 215.85h1.8M190.98 215.15h1.8M191.14 221.64h1.8M191.29 215.56h1.8M191.45 213.95h1.8M191.61 218.42h1.8M191.77 212.87h1.8M191.92 212.44h1.8M192.08 222.67h1.8M192.24 210.49h1.8M192.4 211.7h1.8M192.55 213.7h1.8M192.71 209.24h1.8M192.87 204.97h1.8M193.03 217.35h1.8M193.18 209.97h1.8M193.34 210.83h1.8M193.5 211.4h1.8M193.66 208.92h1.8M193.81 208.49h1.8M193.97 213.32h1.8M194.13 222.11h1.8M194.29 215.55h1.8M194.44 215.59h1.8M194.6 222.13h1.8M194.76 212.61h1.8M194.92 208.08h1.8M195.08 215.84h1.8M195.23 211.95h1.8M195.39 213.05h1.8M195.55 215.93h1.8M195.71 210.7h1.8M195.86 207.04h1.8M196.02 215.33h1.8M196.18 207.61h1.8M196.34 208.41h1.8M196.49 211.85h1.8M196.65 210.22h1.8M196.81 213.96h1.8M196.97 216.84h1.8M197.12 213.76h1.8M197.28 213.47h1.8M197.44 212.68h1.8M197.6 215.85h1.8M197.75 205.11h1.8M197.91 213.66h1.8M198.07 208.42h1.8M198.23 207.09h1.8M198.38 211.8h1.8M198.54 210.1h1.8M198.7 213.74h1.8M198.86 215.61h1.8M199.01 202.01h1.8M199.17 210.69h1.8M199.33 218.49h1.8M199.49 214.07h1.8M199.64 207.82h1.8M199.8 210.81h1.8M199.96 204.69h1.8M200.12 205.8h1.8M200.27 212.93h1.8M200.43 213.83h1.8M200.59 207.18h1.8M200.75 208.97h1.8M200.9 211.03h1.8M201.06 203.18h1.8M201.22 208.67h1.8M201.38 216.41h1.8M201.54 218.66h1.8M201.69 209.76h1.8M201.85 217.4h1.8M202.01 208.27h1.8M202.17 207.24h1.8M202.32 201.76h1.8M202.48 214.34h1.8M202.64 209.25h1.8M202.8 219.97h1.8M202.95 212.26h1.8M203.11 211.85h1.8M203.27 204.21h1.8M203.43 217.26h1.8M203.58 210.15h1.8M203.74 211.1h1.8M203.9 203.29h1.8M204.06 215.66h1.8M204.21 216.06h1.8M204.37 209.99h1.8M204.53 212.85h1.8M204.69 214.16h1.8M204.84 216.49h1.8M205 213.26h1.8M205.16 219.65h1.8M205.32 212.08h1.8M205.47 210.72h1.8M205.63 211.3h1.8M205.79 203.27h1.8M205.95 205.94h1.8M206.1 217.03h1.8M206.26 214.09h1.8M206.42 209.82h1.8M206.58 214.28h1.8M206.73 204.98h1.8M206.89 211.61h1.8M207.05 214.63h1.8M207.21 215.18h1.8M207.36 209.34h1.8M207.52 215.77h1.8M207.68 219.37h1.8M207.84 210.34h1.8M208 214.78h1.8M208.15 205.78h1.8M208.31 204.14h1.8M208.47 214.07h1.8M208.63 211.82h1.8M208.78 212.4h1.8M208.94 209.34h1.8M209.1 206.1h1.8M209.26 214.73h1.8M209.41 218.25h1.8M209.57 210.76h1.8M209.73 205.23h1.8M209.89 216.57h1.8M210.04 214h1.8M210.2 214.33h1.8M210.36 212.42h1.8M210.52 220.74h1.8M210.67 212.08h1.8M210.83 213.82h1.8M210.99 204.7h1.8M211.15 209.67h1.8M211.3 209.3h1.8M211.46 211.89h1.8M211.62 213.39h1.8M211.78 209.2h1.8M211.93 218.82h1.8M212.09 208.06h1.8M212.25 210.47h1.8M212.41 213.17h1.8M212.56 207.45h1.8M212.72 214.52h1.8M212.88 214.79h1.8M213.04 211.24h1.8M213.19 219.76h1.8M213.35 212.74h1.8M213.51 213.54h1.8M213.67 208.78h1.8M213.82 206.06h1.8M213.98 210.12h1.8M214.14 211.35h1.8M214.3 210.87h1.8M214.45 215.62h1.8M214.61 203.51h1.8M214.77 208.37h1.8M214.93 205.73h1.8M215.09 217.96h1.8M215.24 210.64h1.8M215.4 210.85h1.8M215.56 208.6h1.8M215.72 216.29h1.8M215.87 211.23h1.8M216.03 213.64h1.8M216.19 204.93h1.8M216.35 217.2h1.8M216.5 214.15h1.8M216.66 214.69h1.8M216.82 217.23h1.8M216.98 211.66h1.8M217.13 211.66h1.8M217.29 214.97h1.8M217.45 213.75h1.8M217.61 211.07h1.8M217.76 212.09h1.8M217.92 209.89h1.8M218.08 214.48h1.8M218.24 215.24h1.8M218.39 211.6h1.8M218.55 217.73h1.8M218.71 205.56h1.8M218.87 206.59h1.8M219.02 217.93h1.8M219.18 209.72h1.8M219.34 205.18h1.8M219.5 216.65h1.8M219.65 213.39h1.8M219.81 206.72h1.8M219.97 214.29h1.8M220.13 207.42h1.8M220.28 206.25h1.8M220.44 210.84h1.8M220.6 209.65h1.8M220.76 207.35h1.8M220.91 210.24h1.8M221.07 207.9h1.8M221.23 212.08h1.8M221.39 211.89h1.8M221.55 214.95h1.8M221.7 210.51h1.8M221.86 207.3h1.8M222.02 207.5h1.8M222.18 211.76h1.8M222.33 218.72h1.8M222.49 216.24h1.8M222.65 210.69h1.8M222.81 216.86h1.8M222.96 208.95h1.8M223.12 211.71h1.8M223.28 212.11h1.8M223.44 216.57h1.8M223.59 216.07h1.8M223.75 212.65h1.8M223.91 214.98h1.8M224.07 209.64h1.8M224.22 224.92h1.8M224.38 217.77h1.8M224.54 229.2h1.8M224.7 216.22h1.8M224.85 213.87h1.8" stroke="#a2a2a2" stroke-width="1.8" fill="none"/>
<polyline fill="none" stroke="#111" stroke-width="1.0" stroke-linejoin="round"  points="37.6,201.64 37.95,201.41 38.3,201.17 38.65,200.93 39,200.67 39.35,200.41 39.7,200.13 40.05,199.85 40.4,199.57 40.75,199.27 41.1,198.96 41.45,198.65 41.8,198.32 42.15,197.99 42.5,197.57 42.85,196.8 43.2,195.78 43.55,194.68 43.9,193.67 44.25,192.91 44.6,192.53 44.95,192.3 45.3,192.1 45.65,191.91 46,191.75 46.35,191.6 46.7,191.46 47.05,191.33 47.4,191.2 47.75,191.07 48.1,190.94 48.45,190.8 48.8,190.65 49.15,190.49 49.5,190.31 49.85,190.11 50.2,189.91 50.55,189.71 50.9,189.5 51.25,189.29 51.6,189.08 51.95,188.86 52.3,188.63 52.65,188.39 53,188.15 53.35,187.89 53.7,187.62 54.05,187.34 54.4,187.01 54.75,186.59 55.1,186.1 55.45,185.55 55.8,184.96 56.15,184.35 56.5,183.73 56.85,183.13 57.2,182.56 57.55,182.04 57.9,181.58 58.25,181.2 58.6,180.92 58.95,180.79 59.3,180.77 59.65,180.84 60,180.95 60.35,181.06 60.7,181.13 61.05,181.13 61.4,181.01 61.75,180.73 62.1,180.28 62.45,179.69 62.8,179.02 63.15,178.29 63.5,177.54 63.85,176.83 64.2,176.18 64.55,175.64 64.9,175.24 65.25,175.03 65.6,175.01 65.95,175.16 66.3,175.46 66.65,175.88 67,176.4 67.35,176.99 67.7,177.64 68.05,178.31 68.4,178.98 68.75,179.63 69.1,180.24 69.45,180.78 69.8,181.22 70.15,181.55 70.5,181.73 70.85,181.75 71.2,181.54 71.55,180.93 71.9,179.96 72.25,178.7 72.6,177.23 72.95,175.63 73.3,173.98 73.65,172.34 74,170.81 74.35,169.45 74.7,168.34 75.05,167.57 75.4,167.21 75.75,167.18 76.1,167.36 76.45,167.72 76.8,168.25 77.15,168.91 77.5,169.7 77.85,170.58 78.2,171.51 78.55,172.48 78.9,173.46 79.25,174.43 79.6,175.36 79.95,176.24 80.3,177.04 80.65,177.73 81,178.3 81.35,178.73 81.7,178.98 82.05,179.04 82.4,178.75 82.75,178.09 83.1,177.14 83.45,175.99 83.8,174.75 84.15,173.49 84.5,172.31 84.85,171.3 85.2,170.55 85.55,170.14 85.9,170.12 86.25,170.27 86.6,170.52 86.95,170.86 87.3,171.28 87.65,171.73 88,172.21 88.35,172.68 88.7,173.12 89.05,173.51 89.4,173.82 89.75,174.03 90.1,174.11 90.45,174.08 90.8,173.96 91.15,173.76 91.5,173.49 91.85,173.16 92.2,172.78 92.55,172.37 92.9,171.94 93.25,171.49 93.6,171.04 93.95,170.61 94.3,170.19 94.65,169.81 95,169.48 95.35,169.2 95.7,168.99 96.05,168.86 96.4,168.84 96.75,168.98 97.1,169.49 97.45,170.37 97.8,171.5 98.15,172.82 98.5,174.21 98.85,175.59 99.2,176.87 99.55,177.96 99.9,178.76 100.25,179.19 100.6,179.32 100.95,179.39 101.3,179.43 101.65,179.42 102,179.37 102.35,179.3 102.7,179.19 103.05,179.06 103.4,178.91 103.75,178.74 104.1,178.56 104.45,178.39 104.8,178.22 105.15,178.07 105.5,177.95 105.85,177.88 106.2,177.86 106.55,177.89 106.9,177.93 107.25,177.99 107.6,178.05 107.95,178.08 108.3,178.08 108.65,178.04 109,177.93 109.35,177.52 109.7,176.65 110.05,175.41 110.4,173.89 110.75,172.17 111.1,170.35 111.45,168.51 111.8,166.74 112.15,165.13 112.5,163.76 112.85,162.73 113.2,162.1 113.55,161.98 113.9,162.49 114.25,163.58 114.6,165.14 114.95,167.07 115.3,169.24 115.65,171.55 116,173.88 116.35,176.13 116.7,178.18 117.05,179.91 117.4,181.22 117.75,181.99 118.1,182.21 118.45,182.24 118.8,182.15 119.15,181.95 119.5,181.68 119.85,181.36 120.2,181.02 120.55,180.69 120.9,180.37 121.25,180.08 121.6,179.86 121.95,179.62 122.3,179.32 122.65,178.97 123,178.59 123.35,178.2 123.7,177.82 124.05,177.48 124.4,177.19 124.75,176.98 125.1,176.85 125.45,176.85 125.8,176.98 126.15,177.27 126.5,177.78 126.85,178.46 127.2,179.3 127.55,180.24 127.9,181.25 128.25,182.3 128.6,183.33 128.95,184.32 129.3,185.22 129.65,185.99 130,186.61 130.35,187.01 130.7,187.24 131.05,187.38 131.4,187.45 131.75,187.45 132.1,187.4 132.45,187.31 132.8,187.19 133.15,187.05 133.5,186.91 133.85,186.77 134.2,186.64 134.55,186.55 134.9,186.5 135.25,186.49 135.6,186.55 135.95,186.68 136.3,186.88 136.65,187.17 137,187.56 137.35,188.06 137.7,188.7 138.05,189.45 138.4,190.29 138.75,191.2 139.1,192.18 139.45,193.19 139.8,194.23 140.15,195.26 140.5,196.29 140.85,197.28 141.2,198.23 141.55,199.11 141.9,199.91 142.25,200.63 142.6,201.24 142.95,201.73 143.3,202.05 143.65,202.21 144,202.23 144.35,202.15 144.7,201.99 145.05,201.78 145.4,201.56 145.75,201.36 146.1,201.21 146.45,201.15 146.8,201.21 147.15,201.41 147.5,201.76 147.85,202.13 148.2,202.5 148.55,202.88 148.9,203.26 149.25,203.65 149.6,204.04 149.95,204.45 150.3,204.87 150.65,205.32 151,205.81 151.35,206.33 151.7,206.88 152.05,207.91 152.4,208.72 152.75,209.31 153.1,209.72 153.45,210.01 153.8,210.25 154.15,210.63 154.5,211.06 154.85,211.49 155.2,211.88 155.55,212.19 155.9,212.41 156.25,212.54 156.6,212.61 156.95,212.64 157.3,212.66 157.65,212.7 158,212.78 158.35,212.89 158.7,213 159.05,213.1 159.4,213.14 159.75,213.11 160.1,212.99 160.45,212.8 160.8,212.57 161.15,212.36 161.5,212.22 161.85,212.2 162.2,212.29 162.55,212.47 162.9,212.7 163.25,212.91 163.6,213.08 163.95,213.16 164.3,213.15 164.65,213.05 165,212.86 165.35,212.6 165.7,212.3 166.05,212 166.4,211.75 166.75,211.61 167.1,211.57 167.45,211.63 167.8,211.74 168.15,211.87 168.5,211.99 168.85,212.07 169.2,212.14 169.55,212.2 169.9,212.27 170.25,212.37 170.6,212.48 170.95,212.59 171.3,212.68 171.65,212.75 172,212.8 172.35,212.84 172.7,212.89 173.05,212.94 173.4,213.01 173.75,213.08 174.1,213.15 174.45,213.21 174.8,213.25 175.15,213.23 175.5,213.16 175.85,213.01 176.2,212.77 176.55,212.48 176.9,212.17 177.25,211.88 177.6,211.66 177.95,211.55 178.3,211.56 178.65,211.69 179,211.93 179.35,212.25 179.7,212.6 180.05,212.97 180.4,213.3 180.75,213.58 181.1,213.79 181.45,213.92 181.8,213.96 182.15,213.94 182.5,213.88 182.85,213.8 183.2,213.74 183.55,213.72 183.9,213.72 184.25,213.75 184.6,213.77 184.95,213.77 185.3,213.74 185.65,213.68 186,213.63 186.35,213.62 186.7,213.65 187.05,213.74 187.4,213.84 187.75,213.91 188.1,213.92 188.45,213.84 188.8,213.69 189.15,213.49 189.5,213.31 189.85,213.2 190.2,213.19 190.55,213.31 190.9,213.51 191.25,213.75 191.6,213.98 191.95,214.15 192.3,214.22 192.65,214.18 193,214.05 193.35,213.83 193.7,213.58 194.05,213.32 194.4,213.1 194.75,212.94 195.1,212.87 195.45,212.89 195.8,212.97 196.15,213.09 196.5,213.21 196.85,213.28 197.2,213.29 197.55,213.23 197.9,213.09 198.25,212.89 198.6,212.63 198.95,212.33 199.3,211.99 199.65,211.63 200,211.27 200.35,210.93 200.7,210.64 201.05,210.42 201.4,210.28 201.75,210.24 202.1,210.26 202.45,210.35 202.8,210.49 203.15,210.68 203.5,210.91 203.85,211.19 204.2,211.51 204.55,211.86 204.9,212.22 205.25,212.56 205.6,212.86 205.95,213.11 206.3,213.28 206.65,213.36 207,213.34 207.35,213.21 207.7,213 208.05,212.73 208.4,212.45 208.75,212.2 209.1,212 209.45,211.87 209.8,211.81 210.15,211.79 210.5,211.81 210.85,211.85 211.2,211.91 211.55,211.98 211.9,212.07 212.25,212.17 212.6,212.27 212.95,212.36 213.3,212.45 213.65,212.52 214,212.58 214.35,212.64 214.7,212.71 215.05,212.78 215.4,212.87 215.75,212.95 216.1,213.01 216.45,213.04 216.8,213.01 217.15,212.93 217.5,212.79 217.85,212.61 218.2,212.4 218.55,212.18 218.9,211.97 219.25,211.79 219.6,211.65 219.95,211.55 220.3,211.49 220.65,211.48 221,211.52 221.35,211.61 221.7,211.76 222.05,211.97 222.4,212.24 222.75,212.56 223.1,212.9 223.45,213.24 223.8,213.52 224.15,213.74 224.5,213.88 224.85,213.91 225.2,213.85 225.55,213.71"/>
<polyline fill="none" stroke="#cc2828" stroke-width="0.85" stroke-linejoin="round"  points="37.6,199.65 37.95,199.43 38.3,199.2 38.65,198.98 39,198.75 39.35,198.53 39.7,198.3 40.05,198.07 40.4,197.83 40.75,197.6 41.1,197.36 41.45,197.13 41.8,196.89 42.15,196.65 42.5,196.41 42.85,196.16 43.2,195.92 43.55,195.68 43.9,195.43 44.25,195.18 44.6,194.93 44.95,194.68 45.3,194.42 45.65,194.17 46,193.91 46.35,193.65 46.7,193.39 47.05,193.13 47.4,192.86 47.75,192.6 48.1,192.33 48.45,192.06 48.8,191.79 49.15,191.53 49.5,191.25 49.85,190.98 50.2,190.71 50.55,190.43 50.9,190.15 51.25,189.86 51.6,189.58 51.95,189.29 52.3,189 52.65,188.71 53,188.41 53.35,188.12 53.7,187.83 54.05,187.54 54.4,187.25 54.75,186.97 55.1,186.68 55.45,186.4 55.8,186.12 56.15,185.85 56.5,185.58 56.85,185.31 57.2,185.05 57.55,184.79 57.9,184.53 58.25,184.27 58.6,184.01 58.95,183.76 59.3,183.5 59.65,183.25 60,183 60.35,182.75 60.7,182.5 61.05,182.26 61.4,182.02 61.75,181.78 62.1,181.54 62.45,181.31 62.8,181.08 63.15,180.86 63.5,180.64 63.85,180.43 64.2,180.22 64.55,180.01 64.9,179.81 65.25,179.61 65.6,179.41 65.95,179.22 66.3,179.03 66.65,178.84 67,178.65 67.35,178.47 67.7,178.29 68.05,178.11 68.4,177.93 68.75,177.76 69.1,177.59 69.45,177.42 69.8,177.25 70.15,177.09 70.5,176.93 70.85,176.77 71.2,176.62 71.55,176.46 71.9,176.31 72.25,176.16 72.6,175.99 72.95,175.82 73.3,175.65 73.65,175.48 74,175.32 74.35,175.15 74.7,175 75.05,174.85 75.4,174.71 75.75,174.58 76.1,174.47 76.45,174.37 76.8,174.3 77.15,174.24 77.5,174.21 77.85,174.19 78.2,174.17 78.55,174.16 78.9,174.15 79.25,174.13 79.6,174.12 79.95,174.11 80.3,174.1 80.65,174.09 81,174.08 81.35,174.07 81.7,174.06 82.05,174.05 82.4,174.04 82.75,174.03 83.1,174.03 83.45,174.02 83.8,174.02 84.15,174.01 84.5,174.01 84.85,174.01 85.2,174 85.55,174 85.9,174 86.25,174 86.6,174 86.95,174.01 87.3,174.02 87.65,174.04 88,174.06 88.35,174.09 88.7,174.13 89.05,174.17 89.4,174.21 89.75,174.26 90.1,174.31 90.45,174.37 90.8,174.43 91.15,174.49 91.5,174.56 91.85,174.63 92.2,174.7 92.55,174.77 92.9,174.84 93.25,174.92 93.6,174.99 93.95,175.07 94.3,175.15 94.65,175.22 95,175.3 95.35,175.38 95.7,175.46 96.05,175.53 96.4,175.63 96.75,175.73 97.1,175.85 97.45,175.99 97.8,176.13 98.15,176.28 98.5,176.43 98.85,176.59 99.2,176.74 99.55,176.9 99.9,177.05 100.25,177.19 100.6,177.33 100.95,177.46 101.3,177.58 101.65,177.68 102,177.76 102.35,177.83 102.7,177.87 103.05,177.9 103.4,177.9 103.75,177.87 104.1,177.82 104.45,177.75 104.8,177.66 105.15,177.56 105.5,177.44 105.85,177.31 106.2,177.17 106.55,177.02 106.9,176.87 107.25,176.71 107.6,176.55 107.95,176.39 108.3,176.23 108.65,176.08 109,175.93 109.35,175.79 109.7,175.66 110.05,175.54 110.4,175.44 110.75,175.35 111.1,175.28 111.45,175.23 111.8,175.2 112.15,175.2 112.5,175.22 112.85,175.26 113.2,175.31 113.55,175.38 113.9,175.46 114.25,175.56 114.6,175.67 114.95,175.79 115.3,175.92 115.65,176.06 116,176.21 116.35,176.37 116.7,176.54 117.05,176.71 117.4,176.88 117.75,177.06 118.1,177.23 118.45,177.41 118.8,177.59 119.15,177.77 119.5,177.95 119.85,178.14 120.2,178.35 120.55,178.58 120.9,178.83 121.25,179.09 121.6,179.36 121.95,179.64 122.3,179.93 122.65,180.23 123,180.54 123.35,180.85 123.7,181.17 124.05,181.48 124.4,181.8 124.75,182.12 125.1,182.44 125.45,182.75 125.8,183.05 126.15,183.35 126.5,183.64 126.85,183.92 127.2,184.19 127.55,184.46 127.9,184.72 128.25,184.98 128.6,185.24 128.95,185.5 129.3,185.75 129.65,186 130,186.26 130.35,186.52 130.7,186.78 131.05,187.04 131.4,187.31 131.75,187.58 132.1,187.86 132.45,188.14 132.8,188.43 133.15,188.73 133.5,189.04 133.85,189.36 134.2,189.7 134.55,190.04 134.9,190.41 135.25,190.79 135.6,191.18 135.95,191.58 136.3,192 136.65,192.42 137,192.86 137.35,193.3 137.7,193.74 138.05,194.2 138.4,194.65 138.75,195.11 139.1,195.56 139.45,196.02 139.8,196.48 140.15,196.93 140.5,197.38 140.85,197.82 141.2,198.25 141.55,198.68 141.9,199.12 142.25,199.55 142.6,199.99 142.95,200.43 143.3,200.87 143.65,201.31 144,201.74 144.35,202.17 144.7,202.59 145.05,202.99 145.4,203.39 145.75,203.78 146.1,204.16 146.45,204.54 146.8,204.92 147.15,205.29 147.5,205.66 147.85,206.02 148.2,206.38 148.55,206.72 148.9,207.06 149.25,207.38 149.6,207.69 149.95,207.99 150.3,208.28 150.65,208.57 151,208.85 151.35,209.14 151.7,209.42 152.05,209.7 152.4,209.97 152.75,210.23 153.1,210.48 153.45,210.72 153.8,210.94 154.15,211.15 154.5,211.33 154.85,211.49 155.2,211.63 155.55,211.75 155.9,211.86 156.25,211.96 156.6,212.07 156.95,212.17 157.3,212.27 157.65,212.37 158,212.46 158.35,212.55 158.7,212.63 159.05,212.71 159.4,212.78 159.75,212.85 160.1,212.91 160.45,212.96 160.8,213 161.15,213.04 161.5,213.07 161.85,213.09 162.2,213.1 162.55,213.1 162.9,213.1 163.25,213.1 163.6,213.1 163.95,213.1 164.3,213.1 164.65,213.1 165,213.1 165.35,213.1 165.7,213.1 166.05,213.1 166.4,213.1 166.75,213.1 167.1,213.1 167.45,213.1 167.8,213.1 168.15,213.1 168.5,213.1 168.85,213.1 169.2,213.1 169.55,213.1 169.9,213.1 170.25,213.1 170.6,213.1 170.95,213.1 171.3,213.1 171.65,213.1 172,213.1 172.35,213.1 172.7,213.1 173.05,213.1 173.4,213.1 173.75,213.1 174.1,213.1 174.45,213.1 174.8,213.1 175.15,213.1 175.5,213.1 175.85,213.1 176.2,213.1 176.55,213.1 176.9,213.1 177.25,213.1 177.6,213.1 177.95,213.1 178.3,213.1 178.65,213.1 179,213.1 179.35,213.1 179.7,213.1 180.05,213.1 180.4,213.1 180.75,213.09 181.1,213.09 181.45,213.08 181.8,213.08 182.15,213.07 182.5,213.06 182.85,213.05 183.2,213.04 183.55,213.02 183.9,213.01 184.25,213 184.6,212.98 184.95,212.97 185.3,212.95 185.65,212.94 186,212.92 186.35,212.9 186.7,212.89 187.05,212.87 187.4,212.85 187.75,212.83 188.1,212.82 188.45,212.8 188.8,212.78 189.15,212.76 189.5,212.74 189.85,212.73 190.2,212.71 190.55,212.69 190.9,212.67 191.25,212.66 191.6,212.64 191.95,212.63 192.3,212.61 192.65,212.6 193,212.58 193.35,212.57 193.7,212.56 194.05,212.55 194.4,212.54 194.75,212.53 195.1,212.52 195.45,212.52 195.8,212.51 196.15,212.51 196.5,212.5 196.85,212.5 197.2,212.5 197.55,212.5 197.9,212.5 198.25,212.5 198.6,212.5 198.95,212.5 199.3,212.5 199.65,212.5 200,212.5 200.35,212.5 200.7,212.5 201.05,212.5 201.4,212.5 201.75,212.5 202.1,212.5 202.45,212.5 202.8,212.5 203.15,212.5 203.5,212.5 203.85,212.5 204.2,212.5 204.55,212.5 204.9,212.5 205.25,212.5 205.6,212.5 205.95,212.5 206.3,212.5 206.65,212.5 207,212.5 207.35,212.5 207.7,212.5 208.05,212.5 208.4,212.5 208.75,212.5 209.1,212.5 209.45,212.5 209.8,212.5 210.15,212.5 210.5,212.5 210.85,212.5 211.2,212.5 211.55,212.5 211.9,212.5 212.25,212.5 212.6,212.5 212.95,212.5 213.3,212.5 213.65,212.5 214,212.5 214.35,212.5 214.7,212.5 215.05,212.5 215.4,212.5 215.75,212.5 216.1,212.5 216.45,212.5 216.8,212.5 217.15,212.5 217.5,212.5 217.85,212.5 218.2,212.5 218.55,212.5 218.9,212.5 219.25,212.5 219.6,212.5 219.95,212.5 220.3,212.5 220.65,212.5 221,212.5 221.35,212.5 221.7,212.5 222.05,212.5 222.4,212.5 222.75,212.5 223.1,212.5 223.45,212.5 223.8,212.5 224.15,212.5 224.5,212.5 224.85,212.5 225.2,212.5 225.55,212.5"/>
<polyline fill="none" stroke="#2f2a85" stroke-width="1.1" stroke-linejoin="round"  points="37.6,219 37.95,218.99 38.3,218.97 38.65,218.95 39,218.92 39.35,218.88 39.7,218.84 40.05,218.79 40.4,218.73 40.75,218.67 41.1,218.6 41.45,218.52 41.8,218.44 42.15,218.34 42.5,218.17 42.85,217.63 43.2,216.86 43.55,216.01 43.9,215.24 44.25,214.73 44.6,214.6 44.95,214.62 45.3,214.67 45.65,214.75 46,214.84 46.35,214.95 46.7,215.07 47.05,215.2 47.4,215.33 47.75,215.47 48.1,215.61 48.45,215.73 48.8,215.86 49.15,215.96 49.5,216.06 49.85,216.13 50.2,216.2 50.55,216.28 50.9,216.36 51.25,216.43 51.6,216.5 51.95,216.57 52.3,216.63 52.65,216.69 53,216.73 53.35,216.77 53.7,216.79 54.05,216.8 54.4,216.76 54.75,216.63 55.1,216.42 55.45,216.15 55.8,215.84 56.15,215.5 56.5,215.15 56.85,214.82 57.2,214.51 57.55,214.25 57.9,214.05 58.25,213.93 58.6,213.91 58.95,214.03 59.3,214.27 59.65,214.59 60,214.95 60.35,215.31 60.7,215.63 61.05,215.87 61.4,215.99 61.75,215.95 62.1,215.73 62.45,215.38 62.8,214.93 63.15,214.42 63.5,213.9 63.85,213.4 64.2,212.96 64.55,212.63 64.9,212.43 65.25,212.42 65.6,212.6 65.95,212.94 66.3,213.43 66.65,214.04 67,214.75 67.35,215.52 67.7,216.35 68.05,217.2 68.4,218.05 68.75,218.88 69.1,219.65 69.45,220.36 69.8,220.97 70.15,221.46 70.5,221.8 70.85,221.98 71.2,221.92 71.55,221.46 71.9,220.64 72.25,219.55 72.6,218.24 72.95,216.81 73.3,215.32 73.65,213.86 74,212.49 74.35,211.3 74.7,210.35 75.05,209.72 75.4,209.5 75.75,209.6 76.1,209.89 76.45,210.35 76.8,210.95 77.15,211.67 77.5,212.49 77.85,213.39 78.2,214.34 78.55,215.32 78.9,216.32 79.25,217.3 79.6,218.24 79.95,219.13 80.3,219.94 80.65,220.64 81,221.23 81.35,221.66 81.7,221.92 82.05,222 82.4,221.71 82.75,221.05 83.1,220.11 83.45,218.97 83.8,217.73 84.15,216.48 84.5,215.3 84.85,214.29 85.2,213.54 85.55,213.14 85.9,213.12 86.25,213.27 86.6,213.52 86.95,213.86 87.3,214.26 87.65,214.69 88,215.14 88.35,215.58 88.7,215.99 89.05,216.34 89.4,216.6 89.75,216.76 90.1,216.8 90.45,216.71 90.8,216.53 91.15,216.27 91.5,215.93 91.85,215.54 92.2,215.09 92.55,214.61 92.9,214.1 93.25,213.57 93.6,213.05 93.95,212.54 94.3,212.05 94.65,211.59 95,211.18 95.35,210.82 95.7,210.53 96.05,210.33 96.4,210.22 96.75,210.24 97.1,210.64 97.45,211.38 97.8,212.38 98.15,213.54 98.5,214.78 98.85,216 99.2,217.13 99.55,218.06 99.9,218.71 100.25,219 100.6,218.99 100.95,218.93 101.3,218.85 101.65,218.74 102,218.61 102.35,218.47 102.7,218.32 103.05,218.16 103.4,218.01 103.75,217.87 104.1,217.74 104.45,217.64 104.8,217.56 105.15,217.51 105.5,217.5 105.85,217.56 106.2,217.69 106.55,217.86 106.9,218.06 107.25,218.28 107.6,218.5 107.95,218.69 108.3,218.85 108.65,218.96 109,219 109.35,218.74 109.7,218 110.05,216.88 110.4,215.46 110.75,213.82 111.1,212.07 111.45,210.28 111.8,208.53 112.15,206.93 112.5,205.54 112.85,204.47 113.2,203.8 113.55,203.61 113.9,204.03 114.25,205.02 114.6,206.48 114.95,208.28 115.3,210.32 115.65,212.49 116,214.67 116.35,216.76 116.7,218.64 117.05,220.21 117.4,221.34 117.75,221.94 118.1,221.98 118.45,221.82 118.8,221.55 119.15,221.18 119.5,220.73 119.85,220.22 120.2,219.67 120.55,219.1 120.9,218.54 121.25,218 121.6,217.5 121.95,216.98 122.3,216.39 122.65,215.74 123,215.05 123.35,214.35 123.7,213.66 124.05,213 124.4,212.39 124.75,211.85 125.1,211.42 125.45,211.1 125.8,210.93 126.15,210.92 126.5,211.14 126.85,211.54 127.2,212.1 127.55,212.78 127.9,213.53 128.25,214.31 128.6,215.09 128.95,215.82 129.3,216.47 129.65,216.99 130,217.35 130.35,217.5 130.7,217.47 131.05,217.34 131.4,217.14 131.75,216.87 132.1,216.54 132.45,216.17 132.8,215.76 133.15,215.32 133.5,214.86 133.85,214.4 134.2,213.95 134.55,213.5 134.9,213.09 135.25,212.71 135.6,212.37 135.95,212.09 136.3,211.88 136.65,211.75 137,211.7 137.35,211.77 137.7,211.96 138.05,212.25 138.4,212.64 138.75,213.1 139.1,213.61 139.45,214.17 139.8,214.75 140.15,215.34 140.5,215.91 140.85,216.46 141.2,216.97 141.55,217.42 141.9,217.8 142.25,218.08 142.6,218.25 142.95,218.3 143.3,218.18 143.65,217.9 144,217.49 144.35,216.98 144.7,216.4 145.05,215.79 145.4,215.17 145.75,214.58 146.1,214.05 146.45,213.61 146.8,213.29 147.15,213.12 147.5,213.1 147.85,213.11 148.2,213.13 148.55,213.15 148.9,213.2 149.25,213.26 149.6,213.35 149.95,213.46 150.3,213.59 150.65,213.76 151,213.96 151.35,214.19 151.7,214.46 152.05,215.21 152.4,215.75 152.75,216.08 153.1,216.24 153.45,216.29 153.8,216.31 154.15,216.48 154.5,216.73 154.85,217 155.2,217.25 155.55,217.44 155.9,217.55 156.25,217.58 156.6,217.54 156.95,217.46 157.3,217.38 157.65,217.33 158,217.32 158.35,217.34 158.7,217.37 159.05,217.39 159.4,217.36 159.75,217.26 160.1,217.08 160.45,216.84 160.8,216.57 161.15,216.32 161.5,216.16 161.85,216.11 162.2,216.19 162.55,216.37 162.9,216.6 163.25,216.81 163.6,216.98 163.95,217.06 164.3,217.05 164.65,216.95 165,216.76 165.35,216.5 165.7,216.2 166.05,215.9 166.4,215.65 166.75,215.51 167.1,215.47 167.45,215.53 167.8,215.64 168.15,215.77 168.5,215.89 168.85,215.97 169.2,216.04 169.55,216.1 169.9,216.17 170.25,216.27 170.6,216.38 170.95,216.49 171.3,216.58 171.65,216.65 172,216.7 172.35,216.74 172.7,216.79 173.05,216.84 173.4,216.91 173.75,216.98 174.1,217.05 174.45,217.11 174.8,217.15 175.15,217.13 175.5,217.06 175.85,216.91 176.2,216.67 176.55,216.38 176.9,216.07 177.25,215.78 177.6,215.56 177.95,215.45 178.3,215.46 178.65,215.59 179,215.83 179.35,216.15 179.7,216.5 180.05,216.87 180.4,217.2 180.75,217.49 181.1,217.7 181.45,217.83 181.8,217.88 182.15,217.87 182.5,217.82 182.85,217.76 183.2,217.71 183.55,217.69 183.9,217.71 184.25,217.75 184.6,217.79 184.95,217.8 185.3,217.78 185.65,217.74 186,217.71 186.35,217.71 186.7,217.77 187.05,217.87 187.4,217.99 187.75,218.08 188.1,218.11 188.45,218.05 188.8,217.91 189.15,217.73 189.5,217.56 189.85,217.47 190.2,217.49 190.55,217.61 190.9,217.83 191.25,218.1 191.6,218.34 191.95,218.53 192.3,218.61 192.65,218.59 193,218.46 193.35,218.26 193.7,218.02 194.05,217.77 194.4,217.56 194.75,217.41 195.1,217.35 195.45,217.37 195.8,217.46 196.15,217.59 196.5,217.7 196.85,217.78 197.2,217.79 197.55,217.73 197.9,217.59 198.25,217.39 198.6,217.13 198.95,216.83 199.3,216.49 199.65,216.13 200,215.77 200.35,215.43 200.7,215.14 201.05,214.92 201.4,214.78 201.75,214.74 202.1,214.76 202.45,214.85 202.8,214.99 203.15,215.18 203.5,215.41 203.85,215.69 204.2,216.01 204.55,216.36 204.9,216.72 205.25,217.06 205.6,217.36 205.95,217.61 206.3,217.78 206.65,217.86 207,217.84 207.35,217.71 207.7,217.5 208.05,217.23 208.4,216.95 208.75,216.7 209.1,216.5 209.45,216.37 209.8,216.31 210.15,216.29 210.5,216.31 210.85,216.35 211.2,216.41 211.55,216.48 211.9,216.57 212.25,216.67 212.6,216.77 212.95,216.86 213.3,216.95 213.65,217.02 214,217.08 214.35,217.14 214.7,217.21 215.05,217.28 215.4,217.37 215.75,217.45 216.1,217.51 216.45,217.54 216.8,217.51 217.15,217.43 217.5,217.29 217.85,217.11 218.2,216.9 218.55,216.68 218.9,216.47 219.25,216.29 219.6,216.15 219.95,216.05 220.3,215.99 220.65,215.98 221,216.02 221.35,216.11 221.7,216.26 222.05,216.47 222.4,216.74 222.75,217.06 223.1,217.4 223.45,217.74 223.8,218.02 224.15,218.24 224.5,218.38 224.85,218.41 225.2,218.35 225.55,218.21"/>
</g>
<g>
<text transform="translate(131.75,265.5) scale(0.09149,0.07)" font-size="100" text-anchor="middle" font-weight="bold" fill="#000">PSR B0525+21 | Pulse 36</text>
<line x1="38.1" y1="355.76" x2="221.92" y2="355.76" stroke="#222" stroke-width="0.9" />
<line x1="38.1" y1="355.76" x2="38.1" y2="358.96" stroke="#222" stroke-width="0.9" />
<text transform="translate(38.1,367.56) scale(0.09149,0.0798)" font-size="100" text-anchor="middle" font-weight="normal" fill="#000">0</text>
<line x1="64.36" y1="355.76" x2="64.36" y2="358.96" stroke="#222" stroke-width="0.9" />
<text transform="translate(64.36,367.56) scale(0.09149,0.0798)" font-size="100" text-anchor="middle" font-weight="normal" fill="#000">10</text>
<line x1="90.62" y1="355.76" x2="90.62" y2="358.96" stroke="#222" stroke-width="0.9" />
<text transform="translate(90.62,367.56) scale(0.09149,0.0798)" font-size="100" text-anchor="middle" font-weight="normal" fill="#000">20</text>
<line x1="116.88" y1="355.76" x2="116.88" y2="358.96" stroke="#222" stroke-width="0.9" />
<text transform="translate(116.88,367.56) scale(0.09149,0.0798)" font-size="100" text-anchor="middle" font-weight="normal" fill="#000">30</text>
<line x1="143.14" y1="355.76" x2="143.14" y2="358.96" stroke="#222" stroke-width="0.9" />
<text transform="translate(143.14,367.56) scale(0.09149,0.0798)" font-size="100" text-anchor="middle" font-weight="normal" fill="#000">40</text>
<line x1="169.4" y1="355.76" x2="169.4" y2="358.96" stroke="#222" stroke-width="0.9" />
<text transform="translate(169.4,367.56) scale(0.09149,0.0798)" font-size="100" text-anchor="middle" font-weight="normal" fill="#000">50</text>
<line x1="195.66" y1="355.76" x2="195.66" y2="358.96" stroke="#222" stroke-width="0.9" />
<text transform="translate(195.66,367.56) scale(0.09149,0.0798)" font-size="100" text-anchor="middle" font-weight="normal" fill="#000">60</text>
<line x1="221.92" y1="355.76" x2="221.92" y2="358.96" stroke="#222" stroke-width="0.9" />
<text transform="translate(221.92,367.56) scale(0.09149,0.0798)" font-size="100" text-anchor="middle" font-weight="normal" fill="#000">70</text>
<text transform="translate(131.9,379.16) scale(0.09149,0.0742)" font-size="100" text-anchor="middle" font-weight="normal" fill="#000">Time (ms)</text>
<line x1="30.5" y1="350" x2="30.5" y2="277.5" stroke="#222" stroke-width="0.9" />
<line x1="26" y1="350" x2="30.5" y2="350" stroke="#222" stroke-width="0.9" />
<text transform="translate(20.4,350) rotate(-90) scale(0.07,0.09499)" font-size="100" text-anchor="middle" fill="#000">0e+00</text>
<line x1="26" y1="335.5" x2="30.5" y2="335.5" stroke="#222" stroke-width="0.9" />
<line x1="26" y1="321" x2="30.5" y2="321" stroke="#222" stroke-width="0.9" />
<text transform="translate(20.4,321) rotate(-90) scale(0.07,0.09499)" font-size="100" text-anchor="middle" fill="#000">4e+04</text>
<line x1="26" y1="306.5" x2="30.5" y2="306.5" stroke="#222" stroke-width="0.9" />
<line x1="26" y1="292" x2="30.5" y2="292" stroke="#222" stroke-width="0.9" />
<text transform="translate(20.4,292) rotate(-90) scale(0.07,0.09499)" font-size="100" text-anchor="middle" fill="#000">8e+04</text>
<line x1="26" y1="277.5" x2="30.5" y2="277.5" stroke="#222" stroke-width="0.9" />
<text transform="translate(7,316.31) rotate(-90) scale(0.07,0.09002)" font-size="100" text-anchor="middle" fill="#000">Signal</text>
<path d="M37.2 338.19h1.8M37.36 340.33h1.8M37.52 336.87h1.8M37.67 340.62h1.8M37.83 334.62h1.8M37.99 332.24h1.8M38.15 332.42h1.8M38.3 333.74h1.8M38.46 333.9h1.8M38.62 339.82h1.8M38.78 330.8h1.8M38.93 335.13h1.8M39.09 332.94h1.8M39.25 340.68h1.8M39.41 335.89h1.8M39.56 333.33h1.8M39.72 337.7h1.8M39.88 334.71h1.8M40.04 332.5h1.8M40.19 340.01h1.8M40.35 336.72h1.8M40.51 340.45h1.8M40.67 338.13h1.8M40.82 336.52h1.8M40.98 333.93h1.8M41.14 329.14h1.8M41.3 335.82h1.8M41.45 333.24h1.8M41.61 335.39h1.8M41.77 332.63h1.8M41.93 329.87h1.8M42.08 328.51h1.8M42.24 334.86h1.8M42.4 336.96h1.8M42.56 330.77h1.8M42.71 333.45h1.8M42.87 336.83h1.8M43.03 328.19h1.8M43.19 345.57h1.8M43.34 326.76h1.8M43.5 335.38h1.8M43.66 331.71h1.8M43.82 328.76h1.8M43.98 324.02h1.8M44.13 329.49h1.8M44.29 333.82h1.8M44.45 328.69h1.8M44.61 335.91h1.8M44.76 331.92h1.8M44.92 324.55h1.8M45.08 329.3h1.8M45.24 331.21h1.8M45.39 325.74h1.8M45.55 325.36h1.8M45.71 329.31h1.8M45.87 327.79h1.8M46.02 327.08h1.8M46.18 328.59h1.8M46.34 328.46h1.8M46.5 323.86h1.8M46.65 324.66h1.8M46.81 328.76h1.8M46.97 331.16h1.8M47.13 331.87h1.8M47.28 323.2h1.8M47.44 320.27h1.8M47.6 329h1.8M47.76 325.77h1.8M47.91 327.58h1.8M48.07 328.71h1.8M48.23 332.21h1.8M48.39 321.06h1.8M48.54 327.26h1.8M48.7 323.36h1.8M48.86 323.76h1.8M49.02 328.79h1.8M49.17 327.34h1.8M49.33 320.07h1.8M49.49 322.71h1.8M49.65 324.49h1.8M49.8 317.97h1.8M49.96 326.58h1.8M50.12 322.76h1.8M50.28 323.5h1.8M50.44 323.98h1.8M50.59 329.49h1.8M50.75 322.46h1.8M50.91 320.75h1.8M51.07 328.68h1.8M51.22 319.82h1.8M51.38 319.54h1.8M51.54 316.02h1.8M51.7 325.38h1.8M51.85 322.06h1.8M52.01 322.64h1.8M52.17 321.27h1.8M52.33 319.91h1.8M52.48 317.19h1.8M52.64 317.01h1.8M52.8 321.52h1.8M52.96 320.13h1.8M53.11 325.79h1.8M53.27 316.31h1.8M53.43 317.18h1.8M53.59 314.91h1.8M53.74 324.03h1.8M53.9 313.69h1.8M54.06 321.29h1.8M54.22 323.68h1.8M54.37 317.35h1.8M54.53 320.53h1.8M54.69 306.12h1.8M54.85 315.82h1.8M55 310.67h1.8M55.16 317.61h1.8M55.32 316.78h1.8M55.48 313.56h1.8M55.63 320.05h1.8M55.79 317.57h1.8M55.95 313.96h1.8M56.11 313.82h1.8M56.26 309.9h1.8M56.42 312.03h1.8M56.58 323.55h1.8M56.74 312.32h1.8M56.9 316.57h1.8M57.05 312.61h1.8M57.21 317.72h1.8M57.37 316.13h1.8M57.53 313.33h1.8M57.68 307.1h1.8M57.84 311.9h1.8M58 318.45h1.8M58.16 312.64h1.8M58.31 315.9h1.8M58.47 311.4h1.8M58.63 305.82h1.8M58.79 314.66h1.8M58.94 314.1h1.8M59.1 310.43h1.8M59.26 311.11h1.8M59.42 313.56h1.8M59.57 309.97h1.8M59.73 313.52h1.8M59.89 311.24h1.8M60.05 302.65h1.8M60.2 311.22h1.8M60.36 309.32h1.8M60.52 308.26h1.8M60.68 313.02h1.8M60.83 309.4h1.8M60.99 313.33h1.8M61.15 315.4h1.8M61.31 311.55h1.8M61.46 295.78h1.8M61.62 307.89h1.8M61.78 314.27h1.8M61.94 309.54h1.8M62.09 307.28h1.8M62.25 310h1.8M62.41 312.25h1.8M62.57 311.18h1.8M62.72 312.61h1.8M62.88 306.71h1.8M63.04 308.78h1.8M63.2 308.77h1.8M63.35 309.59h1.8M63.51 301.29h1.8M63.67 308.55h1.8M63.83 304.08h1.8M63.99 314.79h1.8M64.14 315.36h1.8M64.3 315.76h1.8M64.46 312.21h1.8M64.62 306.98h1.8M64.77 312.61h1.8M64.93 307.92h1.8M65.09 311.04h1.8M65.25 304.93h1.8M65.4 306.09h1.8M65.56 310.16h1.8M65.72 315.25h1.8M65.88 308.01h1.8M66.03 316.97h1.8M66.19 318.86h1.8M66.35 302.7h1.8M66.51 307.58h1.8M66.66 303.79h1.8M66.82 306.92h1.8M66.98 305.23h1.8M67.14 306.98h1.8M67.29 310.97h1.8M67.45 310.76h1.8M67.61 307.93h1.8M67.77 306.79h1.8M67.92 307.14h1.8M68.08 307.06h1.8M68.24 308.73h1.8M68.4 306.34h1.8M68.55 308.22h1.8M68.71 300.86h1.8M68.87 309.15h1.8M69.03 312.85h1.8M69.18 306.48h1.8M69.34 299.98h1.8M69.5 310.92h1.8M69.66 304.09h1.8M69.81 293.32h1.8M69.97 304.3h1.8M70.13 307.49h1.8M70.29 306.48h1.8M70.45 309.8h1.8M70.6 307.2h1.8M70.76 305.1h1.8M70.92 296.55h1.8M71.08 299.89h1.8M71.23 304.97h1.8M71.39 306.85h1.8M71.55 296.75h1.8M71.71 301.44h1.8M71.86 305.67h1.8M72.02 295.98h1.8M72.18 295.71h1.8M72.34 302.49h1.8M72.49 304.31h1.8M72.65 301.25h1.8M72.81 293.82h1.8M72.97 303.03h1.8M73.12 297.46h1.8M73.28 305.33h1.8M73.44 302.16h1.8M73.6 303.51h1.8M73.75 304.91h1.8M73.91 300.07h1.8M74.07 305.41h1.8M74.23 306.96h1.8M74.38 303.4h1.8M74.54 307.03h1.8M74.7 298.97h1.8M74.86 305.05h1.8M75.01 302.27h1.8M75.17 297.02h1.8M75.33 300.51h1.8M75.49 298.5h1.8M75.64 298.22h1.8M75.8 300.62h1.8M75.96 304.37h1.8M76.12 298.57h1.8M76.27 300.15h1.8M76.43 293.47h1.8M76.59 299.64h1.8M76.75 303.66h1.8M76.91 302.03h1.8M77.06 300.44h1.8M77.22 296.14h1.8M77.38 294.08h1.8M77.54 297.42h1.8M77.69 292.12h1.8M77.85 292.31h1.8M78.01 300.93h1.8M78.17 293.13h1.8M78.32 303.96h1.8M78.48 290.6h1.8M78.64 297.96h1.8M78.8 291.22h1.8M78.95 296.5h1.8M79.11 291.34h1.8M79.27 295.57h1.8M79.43 294.58h1.8M79.58 293.2h1.8M79.74 296.97h1.8M79.9 300.9h1.8M80.06 292.17h1.8M80.21 298.08h1.8M80.37 294.7h1.8M80.53 294.13h1.8M80.69 303.14h1.8M80.84 285.21h1.8M81 291.25h1.8M81.16 286.57h1.8M81.32 292.67h1.8M81.47 292.99h1.8M81.63 309.54h1.8M81.79 295.33h1.8M81.95 301.28h1.8M82.1 299.26h1.8M82.26 292.14h1.8M82.42 295.95h1.8M82.58 300.87h1.8M82.73 286.4h1.8M82.89 294.97h1.8M83.05 296.24h1.8M83.21 288.04h1.8M83.37 290.96h1.8M83.52 295.75h1.8M83.68 298.94h1.8M83.84 290.73h1.8M84 293.26h1.8M84.15 294.17h1.8M84.31 294.13h1.8M84.47 297.7h1.8M84.63 295.36h1.8M84.78 295.69h1.8M84.94 289.25h1.8M85.1 290.82h1.8M85.26 296.58h1.8M85.41 288.74h1.8M85.57 296.52h1.8M85.73 292.75h1.8M85.89 292.24h1.8M86.04 298.29h1.8M86.2 292.86h1.8M86.36 292.17h1.8M86.52 292.97h1.8M86.67 296.04h1.8M86.83 307.23h1.8M86.99 287.08h1.8M87.15 295.8h1.8M87.3 294.89h1.8M87.46 299.85h1.8M87.62 294.34h1.8M87.78 285.6h1.8M87.93 301.33h1.8M88.09 280.29h1.8M88.25 295.48h1.8M88.41 289.97h1.8M88.56 291.02h1.8M88.72 293.42h1.8M88.88 298.96h1.8M89.04 298.78h1.8M89.19 292.66h1.8M89.35 297.11h1.8M89.51 293.32h1.8M89.67 295.19h1.8M89.83 295.21h1.8M89.98 297h1.8M90.14 291.67h1.8M90.3 293.52h1.8M90.46 294.8h1.8M90.61 294.09h1.8M90.77 290.19h1.8M90.93 300.54h1.8M91.09 291.22h1.8M91.24 296.13h1.8M91.4 293.63h1.8M91.56 297.7h1.8M91.72 283.25h1.8M91.87 300.81h1.8M92.03 291.14h1.8M92.19 286.69h1.8M92.35 292.21h1.8M92.5 300.97h1.8M92.66 293.46h1.8M92.82 286.01h1.8M92.98 289.08h1.8M93.13 296.48h1.8M93.29 284.84h1.8M93.45 289.85h1.8M93.61 289.25h1.8M93.76 299.48h1.8M93.92 289.04h1.8M94.08 295.7h1.8M94.24 287.25h1.8M94.39 286.65h1.8M94.55 294.21h1.8M94.71 292.57h1.8M94.87 282.64h1.8M95.02 292.6h1.8M95.18 292.61h1.8M95.34 287.33h1.8M95.5 277.5h1.8M95.65 291.09h1.8M95.81 287.93h1.8M95.97 287.56h1.8M96.13 287.25h1.8M96.28 289h1.8M96.44 284.6h1.8M96.6 290.11h1.8M96.76 284.06h1.8M96.92 290.79h1.8M97.07 290.22h1.8M97.23 286.31h1.8M97.39 294.41h1.8M97.55 299.12h1.8M97.7 296.66h1.8M97.86 285.4h1.8M98.02 296.71h1.8M98.18 292.39h1.8M98.33 291.38h1.8M98.49 289.23h1.8M98.65 291.88h1.8M98.81 297.95h1.8M98.96 294.53h1.8M99.12 290.62h1.8M99.28 289.69h1.8M99.44 290.93h1.8M99.59 295.35h1.8M99.75 300.94h1.8M99.91 288.69h1.8M100.07 293.33h1.8M100.22 291.86h1.8M100.38 290.45h1.8M100.54 295.49h1.8M100.7 296.29h1.8M100.85 288.07h1.8M101.01 289.84h1.8M101.17 299.46h1.8M101.33 295.86h1.8M101.48 296.87h1.8M101.64 292.64h1.8M101.8 293.27h1.8M101.96 296.95h1.8M102.11 292.99h1.8M102.27 286.47h1.8M102.43 295.3h1.8M102.59 299.24h1.8M102.74 291.07h1.8M102.9 300.05h1.8M103.06 298.61h1.8M103.22 292h1.8M103.38 295.77h1.8M103.53 295.62h1.8M103.69 298.54h1.8M103.85 298.73h1.8M104.01 290.36h1.8M104.16 290.19h1.8M104.32 300.37h1.8M104.48 296.48h1.8M104.64 297.81h1.8M104.79 297.47h1.8M104.95 302.62h1.8M105.11 290.94h1.8M105.27 305.55h1.8M105.42 292.64h1.8M105.58 299.28h1.8M105.74 301.92h1.8M105.9 290.29h1.8M106.05 297.95h1.8M106.21 295.06h1.8M106.37 295.03h1.8M106.53 296.47h1.8M106.68 291.8h1.8M106.84 292.19h1.8M107 299.16h1.8M107.16 299.98h1.8M107.31 293.93h1.8M107.47 290.14h1.8M107.63 306.33h1.8M107.79 301.12h1.8M107.94 297.96h1.8M108.1 292h1.8M108.26 293.93h1.8M108.42 297.48h1.8M108.57 292.32h1.8M108.73 303.33h1.8M108.89 297.04h1.8M109.05 298.14h1.8M109.2 292.03h1.8M109.36 292.54h1.8M109.52 293.04h1.8M109.68 297.59h1.8M109.84 295.24h1.8M109.99 295.1h1.8M110.15 297.65h1.8M110.31 297.2h1.8M110.47 302.54h1.8M110.62 295.24h1.8M110.78 291.64h1.8M110.94 295.84h1.8M111.1 302.08h1.8M111.25 293.29h1.8M111.41 295.75h1.8M111.57 293.87h1.8M111.73 297h1.8M111.88 296.22h1.8M112.04 291.47h1.8M112.2 293.82h1.8M112.36 298.7h1.8M112.51 302.79h1.8M112.67 298.29h1.8M112.83 297.86h1.8M112.99 292.53h1.8M113.14 292.23h1.8M113.3 297.62h1.8M113.46 288.39h1.8M113.62 293.02h1.8M113.77 285.09h1.8M113.93 291.29h1.8M114.09 289.71h1.8M114.25 287.39h1.8M114.4 294.09h1.8M114.56 289.09h1.8M114.72 290.52h1.8M114.88 290.85h1.8M115.03 288.63h1.8M115.19 297.82h1.8M115.35 289.41h1.8M115.51 292.27h1.8M115.66 285.66h1.8M115.82 289.15h1.8M115.98 289.69h1.8M116.14 289.66h1.8M116.3 288.37h1.8M116.45 291.42h1.8M116.61 297.46h1.8M116.77 290.06h1.8M116.93 289.95h1.8M117.08 288.8h1.8M117.24 301.4h1.8M117.4 297.35h1.8M117.56 292.72h1.8M117.71 293.3h1.8M117.87 287.11h1.8M118.03 289.48h1.8M118.19 291h1.8M118.34 290.55h1.8M118.5 286.27h1.8M118.66 286.55h1.8M118.82 292.12h1.8M118.97 291.19h1.8M119.13 280.63h1.8M119.29 290.14h1.8M119.45 295.22h1.8M119.6 286.84h1.8M119.76 290.65h1.8M119.92 283.24h1.8M120.08 266.43h1.8M120.23 284.64h1.8M120.39 284h1.8M120.55 288.03h1.8M120.71 299.69h1.8M120.86 286.69h1.8M121.02 283.82h1.8M121.18 291.3h1.8M121.34 290.26h1.8M121.49 296.46h1.8M121.65 283.68h1.8M121.81 282.24h1.8M121.97 287.79h1.8M122.12 290.8h1.8M122.28 290.7h1.8M122.44 293.86h1.8M122.6 282.61h1.8M122.76 285.53h1.8M122.91 288.58h1.8M123.07 292.84h1.8M123.23 291.29h1.8M123.39 287.41h1.8M123.54 284.85h1.8M123.7 293.23h1.8M123.86 293.59h1.8M124.02 301.39h1.8M124.17 284.54h1.8M124.33 296.83h1.8M124.49 284.55h1.8M124.65 287.61h1.8M124.8 287.18h1.8M124.96 288.29h1.8M125.12 286.67h1.8M125.28 288.31h1.8M125.43 290.67h1.8M125.59 289.15h1.8M125.75 294.25h1.8M125.91 291.22h1.8M126.06 291.83h1.8M126.22 298.56h1.8M126.38 293.74h1.8M126.54 293.3h1.8M126.69 292.81h1.8M126.85 293.44h1.8M127.01 289.66h1.8M127.17 290.2h1.8M127.32 299.05h1.8M127.48 301.21h1.8M127.64 299.66h1.8M127.8 292.7h1.8M127.95 288.14h1.8M128.11 293.51h1.8M128.27 296.38h1.8M128.43 299.63h1.8M128.58 295.44h1.8M128.74 295.18h1.8M128.9 303.47h1.8M129.06 294.07h1.8M129.22 301.96h1.8M129.37 301.49h1.8M129.53 291.88h1.8M129.69 299.19h1.8M129.85 295.74h1.8M130 294.24h1.8M130.16 290.49h1.8M130.32 288.91h1.8M130.48 300.87h1.8M130.63 297.53h1.8M130.79 300.63h1.8M130.95 294.94h1.8M131.11 298.37h1.8M131.26 298.75h1.8M131.42 293.31h1.8M131.58 292.95h1.8M131.74 302.31h1.8M131.89 301.15h1.8M132.05 296.52h1.8M132.21 300.27h1.8M132.37 303.7h1.8M132.52 298.74h1.8M132.68 297.05h1.8M132.84 303.69h1.8M133 310.31h1.8M133.15 301.35h1.8M133.31 307.51h1.8M133.47 289.77h1.8M133.63 307.43h1.8M133.78 301.03h1.8M133.94 292.85h1.8M134.1 304.44h1.8M134.26 301.78h1.8M134.41 306.24h1.8M134.57 306.14h1.8M134.73 300.72h1.8M134.89 297.51h1.8M135.04 298.7h1.8M135.2 300.48h1.8M135.36 302.33h1.8M135.52 298.37h1.8M135.67 300.59h1.8M135.83 304.11h1.8M135.99 301.6h1.8M136.15 310.09h1.8M136.31 309.38h1.8M136.46 294.86h1.8M136.62 297.27h1.8M136.78 288.28h1.8M136.94 294.44h1.8M137.09 301.78h1.8M137.25 294.95h1.8M137.41 294.6h1.8M137.57 297.86h1.8M137.72 302.41h1.8M137.88 297.26h1.8M138.04 297.13h1.8M138.2 302.57h1.8M138.35 300.52h1.8M138.51 300.35h1.8M138.67 302.39h1.8M138.83 293.77h1.8M138.98 320.39h1.8M139.14 295.24h1.8M139.3 302.37h1.8M139.46 301.39h1.8M139.61 293.24h1.8M139.77 303.53h1.8M139.93 292.59h1.8M140.09 302.72h1.8M140.24 298.49h1.8M140.4 293.8h1.8M140.56 292.72h1.8M140.72 296.26h1.8M140.87 297.49h1.8M141.03 294.53h1.8M141.19 300.1h1.8M141.35 291.63h1.8M141.5 297.75h1.8M141.66 297.85h1.8M141.82 289.83h1.8M141.98 299.38h1.8M142.13 292.68h1.8M142.29 287.46h1.8M142.45 295.75h1.8M142.61 297.57h1.8M142.77 302.63h1.8M142.92 296.79h1.8M143.08 305.46h1.8M143.24 305.51h1.8M143.4 304.22h1.8M143.55 305.44h1.8M143.71 301.46h1.8M143.87 297.78h1.8M144.03 303.24h1.8M144.18 304.88h1.8M144.34 302h1.8M144.5 300.18h1.8M144.66 294.75h1.8M144.81 309.99h1.8M144.97 303.62h1.8M145.13 296.78h1.8M145.29 303.14h1.8M145.44 306.13h1.8M145.6 302.85h1.8M145.76 307.02h1.8M145.92 307.21h1.8M146.07 297.9h1.8M146.23 303.29h1.8M146.39 307h1.8M146.55 309.18h1.8M146.7 311.62h1.8M146.86 297.59h1.8M147.02 305.89h1.8M147.18 309.57h1.8M147.33 312.07h1.8M147.49 314.37h1.8M147.65 303.38h1.8M147.81 306.1h1.8M147.96 303.46h1.8M148.12 311.8h1.8M148.28 302.86h1.8M148.44 313.93h1.8M148.59 311.3h1.8M148.75 311.45h1.8M148.91 300.27h1.8M149.07 306.93h1.8M149.23 313.3h1.8M149.38 304.22h1.8M149.54 309.5h1.8M149.7 310.3h1.8M149.86 314.77h1.8M150.01 312.37h1.8M150.17 312.53h1.8M150.33 309.65h1.8M150.49 311.74h1.8M150.64 311.31h1.8M150.8 315.18h1.8M150.96 311.44h1.8M151.12 316.79h1.8M151.27 305.22h1.8M151.43 317.77h1.8M151.59 312.02h1.8M151.75 317.69h1.8M151.9 313.32h1.8M152.06 316.72h1.8M152.22 319.54h1.8M152.38 310.86h1.8M152.53 313.65h1.8M152.69 312.64h1.8M152.85 314.32h1.8M153.01 306.56h1.8M153.16 312.8h1.8M153.32 312.51h1.8M153.48 310.25h1.8M153.64 312.81h1.8M153.79 307.08h1.8M153.95 319.66h1.8M154.11 315.61h1.8M154.27 321.76h1.8M154.42 310h1.8M154.58 308.76h1.8M154.74 314.94h1.8M154.9 306.64h1.8M155.05 314.7h1.8M155.21 310.74h1.8M155.37 312.31h1.8M155.53 314.8h1.8M155.69 313.9h1.8M155.84 321.62h1.8M156 316.37h1.8M156.16 308.18h1.8M156.32 317.82h1.8M156.47 307.95h1.8M156.63 314h1.8M156.79 308.32h1.8M156.95 310.09h1.8M157.1 319.17h1.8M157.26 311.22h1.8M157.42 310.84h1.8M157.58 311.18h1.8M157.73 312.23h1.8M157.89 319.66h1.8M158.05 308.55h1.8M158.21 307.63h1.8M158.36 316.01h1.8M158.52 306.81h1.8M158.68 312.03h1.8M158.84 318.38h1.8M158.99 313.61h1.8M159.15 311.6h1.8M159.31 310.66h1.8M159.47 309.82h1.8M159.62 311.24h1.8M159.78 314.36h1.8M159.94 319.08h1.8M160.1 316.75h1.8M160.25 311.56h1.8M160.41 310.94h1.8M160.57 317.03h1.8M160.73 306.53h1.8M160.88 312.43h1.8M161.04 313.01h1.8M161.2 309.81h1.8M161.36 310.41h1.8M161.51 316.19h1.8M161.67 307.88h1.8M161.83 311.13h1.8M161.99 312.38h1.8M162.15 315.6h1.8M162.3 309.63h1.8M162.46 321.25h1.8M162.62 314.4h1.8M162.78 314.75h1.8M162.93 311.07h1.8M163.09 313.33h1.8M163.25 312.21h1.8M163.41 321.3h1.8M163.56 317.5h1.8M163.72 316.35h1.8M163.88 321.14h1.8M164.04 314.15h1.8M164.19 319.93h1.8M164.35 317.55h1.8M164.51 313.89h1.8M164.67 320.95h1.8M164.82 311.67h1.8M164.98 320.8h1.8M165.14 314.53h1.8M165.3 320.08h1.8M165.45 324.27h1.8M165.61 321.01h1.8M165.77 316.26h1.8M165.93 318.78h1.8M166.08 317.49h1.8M166.24 314.25h1.8M166.4 314.63h1.8M166.56 319.53h1.8M166.71 321.67h1.8M166.87 312.18h1.8M167.03 319.3h1.8M167.19 321.77h1.8M167.34 320.18h1.8M167.5 315.61h1.8M167.66 324.12h1.8M167.82 314.81h1.8M167.97 322.59h1.8M168.13 326.56h1.8M168.29 311.48h1.8M168.45 321.02h1.8M168.61 321.26h1.8M168.76 320.9h1.8M168.92 316.79h1.8M169.08 318.67h1.8M169.24 314.17h1.8M169.39 320.48h1.8M169.55 322.14h1.8M169.71 317.15h1.8M169.87 316.05h1.8M170.02 317.9h1.8M170.18 319.79h1.8M170.34 320.04h1.8M170.5 319.33h1.8M170.65 320.01h1.8M170.81 314.3h1.8M170.97 308.42h1.8M171.13 322.17h1.8M171.28 325.45h1.8M171.44 313.73h1.8M171.6 316.79h1.8M171.76 320.73h1.8M171.91 323.38h1.8M172.07 322.1h1.8M172.23 324.65h1.8M172.39 319.16h1.8M172.54 321.05h1.8M172.7 321.02h1.8M172.86 317.54h1.8M173.02 324.23h1.8M173.17 321.85h1.8M173.33 323.29h1.8M173.49 317.69h1.8M173.65 323.5h1.8M173.8 314.98h1.8M173.96 320.91h1.8M174.12 308.64h1.8M174.28 315.22h1.8M174.43 322.38h1.8M174.59 317.56h1.8M174.75 320.15h1.8M174.91 312.87h1.8M175.06 325.85h1.8M175.22 321.6h1.8M175.38 319.56h1.8M175.54 321.43h1.8M175.7 321.15h1.8M175.85 325.67h1.8M176.01 320.87h1.8M176.17 314.12h1.8M176.33 319.18h1.8M176.48 325.58h1.8M176.64 322.81h1.8M176.8 318.95h1.8M176.96 323.31h1.8M177.11 328.87h1.8M177.27 323.68h1.8M177.43 314.96h1.8M177.59 317.98h1.8M177.74 324.54h1.8M177.9 321.18h1.8M178.06 329.66h1.8M178.22 330.51h1.8M178.37 321.57h1.8M178.53 324.07h1.8M178.69 321.12h1.8M178.85 321.13h1.8M179 323.67h1.8M179.16 318.41h1.8M179.32 316.11h1.8M179.48 330.47h1.8M179.63 326.89h1.8M179.79 330.2h1.8M179.95 326.51h1.8M180.11 326.98h1.8M180.26 329.45h1.8M180.42 330h1.8M180.58 322.62h1.8M180.74 342.31h1.8M180.89 324.26h1.8M181.05 329.33h1.8M181.21 339.14h1.8M181.37 329.48h1.8M181.52 336.18h1.8M181.68 328.36h1.8M181.84 332.5h1.8M182 330.5h1.8M182.16 332.22h1.8M182.31 327.35h1.8M182.47 327.31h1.8M182.63 332.57h1.8M182.79 325.15h1.8M182.94 328.23h1.8M183.1 334.37h1.8M183.26 329.49h1.8M183.42 328.56h1.8M183.57 327.82h1.8M183.73 332.98h1.8M183.89 331.06h1.8M184.05 333.23h1.8M184.2 331.99h1.8M184.36 340.25h1.8M184.52 331.2h1.8M184.68 325.21h1.8M184.83 333.59h1.8M184.99 333.22h1.8M185.15 333.91h1.8M185.31 326.95h1.8M185.46 337.95h1.8M185.62 333.37h1.8M185.78 333.39h1.8M185.94 327.31h1.8M186.09 335.56h1.8M186.25 334.82h1.8M186.41 339.15h1.8M186.57 332.16h1.8M186.72 328.95h1.8M186.88 334.41h1.8M187.04 322.8h1.8M187.2 335.64h1.8M187.35 329.73h1.8M187.51 333.56h1.8M187.67 333.21h1.8M187.83 334.02h1.8M187.98 332.16h1.8M188.14 331.03h1.8M188.3 334.06h1.8M188.46 332.05h1.8M188.62 334.99h1.8M188.77 333.37h1.8M188.93 325.62h1.8M189.09 334.32h1.8M189.25 340.11h1.8M189.4 335.88h1.8M189.56 337.12h1.8M189.72 336.63h1.8M189.88 333.06h1.8M190.03 329.74h1.8M190.19 338.26h1.8M190.35 339.3h1.8M190.51 337.47h1.8M190.66 336.99h1.8M190.82 336.96h1.8M190.98 335.38h1.8M191.14 336.64h1.8M191.29 335.7h1.8M191.45 337.01h1.8M191.61 332.11h1.8M191.77 333.43h1.8M191.92 338.2h1.8M192.08 334.73h1.8M192.24 326.69h1.8M192.4 336.7h1.8M192.55 327.37h1.8M192.71 343.82h1.8M192.87 339.25h1.8M193.03 339.14h1.8M193.18 334.02h1.8M193.34 332.29h1.8M193.5 335.93h1.8M193.66 336.9h1.8M193.81 320.91h1.8M193.97 337.59h1.8M194.13 339.71h1.8M194.29 339.44h1.8M194.44 333.17h1.8M194.6 328.89h1.8M194.76 337.34h1.8M194.92 334.85h1.8M195.08 339.19h1.8M195.23 343.88h1.8M195.39 343.94h1.8M195.55 338.78h1.8M195.71 342.01h1.8M195.86 344.14h1.8M196.02 338.05h1.8M196.18 338.98h1.8M196.34 341.28h1.8M196.49 337.93h1.8M196.65 336.21h1.8M196.81 335.31h1.8M196.97 338.28h1.8M197.12 335.93h1.8M197.28 341.43h1.8M197.44 337.16h1.8M197.6 344.1h1.8M197.75 343.18h1.8M197.91 333.87h1.8M198.07 342.8h1.8M198.23 337.18h1.8M198.38 344.01h1.8M198.54 340.79h1.8M198.7 338.71h1.8M198.86 341.5h1.8M199.01 336.86h1.8M199.17 340.29h1.8M199.33 340.55h1.8M199.49 338.57h1.8M199.64 340.65h1.8M199.8 335.42h1.8M199.96 341.39h1.8M200.12 334.71h1.8M200.27 341.72h1.8M200.43 341.19h1.8M200.59 342.13h1.8M200.75 337.37h1.8M200.9 351.03h1.8M201.06 338.7h1.8M201.22 340.18h1.8M201.38 336.79h1.8M201.54 345.09h1.8M201.69 337.94h1.8M201.85 343.51h1.8M202.01 336.22h1.8M202.17 340.99h1.8M202.32 338.46h1.8M202.48 343.4h1.8M202.64 338.83h1.8M202.8 336.7h1.8M202.95 341.69h1.8M203.11 335.53h1.8M203.27 336.45h1.8M203.43 342.96h1.8M203.58 333.07h1.8M203.74 342.98h1.8M203.9 338.66h1.8M204.06 336.75h1.8M204.21 341.13h1.8M204.37 342.61h1.8M204.53 338.08h1.8M204.69 339.63h1.8M204.84 343.31h1.8M205 343.16h1.8M205.16 340.17h1.8M205.32 337.51h1.8M205.47 336.88h1.8M205.63 338.21h1.8M205.79 342.99h1.8M205.95 342.63h1.8M206.1 341.64h1.8M206.26 345.71h1.8M206.42 339.43h1.8M206.58 339.16h1.8M206.73 339.16h1.8M206.89 347.72h1.8M207.05 332.99h1.8M207.21 341.74h1.8M207.36 342.34h1.8M207.52 340.93h1.8M207.68 349.39h1.8M207.84 345.09h1.8M208 343.63h1.8M208.15 337.47h1.8M208.31 342.66h1.8M208.47 339.47h1.8M208.63 341.03h1.8M208.78 336.43h1.8M208.94 339.14h1.8M209.1 343.28h1.8M209.26 346.99h1.8M209.41 344.82h1.8M209.57 341.82h1.8M209.73 333.93h1.8M209.89 345.08h1.8M210.04 345.08h1.8M210.2 340.42h1.8M210.36 339.41h1.8M210.52 343.62h1.8M210.67 338.25h1.8M210.83 344.19h1.8M210.99 337.32h1.8M211.15 337.94h1.8M211.3 341.42h1.8M211.46 336.05h1.8M211.62 341.43h1.8M211.78 343.41h1.8M211.93 336.67h1.8M212.09 344.92h1.8M212.25 339.51h1.8M212.41 343.6h1.8M212.56 342.41h1.8M212.72 340h1.8M212.88 339.79h1.8M213.04 335.5h1.8M213.19 339.23h1.8M213.35 338.99h1.8M213.51 347.83h1.8M213.67 345.59h1.8M213.82 336.92h1.8M213.98 344.86h1.8M214.14 342.79h1.8M214.3 340.63h1.8M214.45 343.73h1.8M214.61 344.97h1.8M214.77 340.05h1.8M214.93 341.16h1.8M215.09 342.8h1.8M215.24 338.66h1.8M215.4 342.94h1.8M215.56 342.01h1.8M215.72 339.88h1.8M215.87 339.33h1.8M216.03 343.52h1.8M216.19 345.62h1.8M216.35 343.68h1.8M216.5 339.43h1.8M216.66 345.27h1.8M216.82 343.21h1.8M216.98 344.77h1.8M217.13 346.87h1.8M217.29 339.45h1.8M217.45 342.24h1.8M217.61 340.62h1.8M217.76 339.66h1.8M217.92 350.08h1.8M218.08 346.28h1.8M218.24 336.56h1.8M218.39 344.5h1.8M218.55 341h1.8M218.71 347.17h1.8M218.87 343.38h1.8M219.02 342.49h1.8M219.18 343.66h1.8M219.34 344.57h1.8M219.5 343.33h1.8M219.65 342.47h1.8M219.81 342.8h1.8M219.97 345.17h1.8M220.13 339.32h1.8M220.28 343.4h1.8M220.44 343.01h1.8M220.6 341.74h1.8M220.76 346.16h1.8M220.91 338.94h1.8M221.07 342.29h1.8M221.23 340.58h1.8M221.39 345.62h1.8M221.55 342.03h1.8M221.7 343.92h1.8M221.86 345.16h1.8M222.02 338.12h1.8M222.18 345.47h1.8M222.33 341.23h1.8M222.49 343.02h1.8M222.65 343.57h1.8M222.81 346.89h1.8M222.96 346.68h1.8M223.12 350.38h1.8M223.28 344.75h1.8M223.44 342.47h1.8M223.59 342.41h1.8M223.75 346.57h1.8M223.91 349.98h1.8M224.07 345.53h1.8M224.22 342.31h1.8M224.38 345.37h1.8M224.54 345.34h1.8M224.7 344.58h1.8M224.85 341.82h1.8" stroke="#a2a2a2" stroke-width="1.8" fill="none"/>
<polyline fill="none" stroke="#111" stroke-width="1.0" stroke-linejoin="round"  points="37.6,337.42 37.95,337.13 38.3,336.84 38.65,336.55 39,336.25 39.35,335.94 39.7,335.63 40.05,335.32 40.4,335 40.75,334.68 41.1,334.35 41.45,334.02 41.8,333.69 42.15,333.35 42.5,333 42.85,332.66 43.2,332.3 43.55,331.95 43.9,331.58 44.25,331.21 44.6,330.82 44.95,330.44 45.3,330.04 45.65,329.64 46,329.23 46.35,328.82 46.7,328.4 47.05,327.98 47.4,327.56 47.75,327.14 48.1,326.71 48.45,326.29 48.8,325.86 49.15,325.43 49.5,325.01 49.85,324.58 50.2,324.16 50.55,323.74 50.9,323.32 51.25,322.91 51.6,322.5 51.95,322.09 52.3,321.67 52.65,321.25 53,320.83 53.35,320.4 53.7,319.96 54.05,319.53 54.4,319.09 54.75,318.66 55.1,318.22 55.45,317.79 55.8,317.36 56.15,316.94 56.5,316.52 56.85,316.11 57.2,315.7 57.55,315.3 57.9,314.91 58.25,314.53 58.6,314.16 58.95,313.8 59.3,313.45 59.65,313.12 60,312.8 60.35,312.5 60.7,312.21 61.05,311.93 61.4,311.66 61.75,311.4 62.1,311.15 62.45,310.91 62.8,310.68 63.15,310.45 63.5,310.23 63.85,310.01 64.2,309.79 64.55,309.58 64.9,309.36 65.25,309.15 65.6,308.93 65.95,308.72 66.3,308.49 66.65,308.27 67,308.04 67.35,307.8 67.7,307.56 68.05,307.3 68.4,307.05 68.75,306.79 69.1,306.53 69.45,306.27 69.8,306.02 70.15,305.76 70.5,305.51 70.85,305.25 71.2,304.99 71.55,304.73 71.9,304.48 72.25,304.21 72.6,303.95 72.95,303.69 73.3,303.42 73.65,303.15 74,302.88 74.35,302.61 74.7,302.33 75.05,302.05 75.4,301.75 75.75,301.41 76.1,301.03 76.45,300.63 76.8,300.2 77.15,299.73 77.5,299.24 77.85,298.73 78.2,298.2 78.55,297.68 78.9,297.16 79.25,296.65 79.6,296.16 79.95,295.71 80.3,295.29 80.65,294.92 81,294.6 81.35,294.34 81.7,294.15 82.05,294.03 82.4,293.97 82.75,293.95 83.1,293.98 83.45,294.06 83.8,294.16 84.15,294.29 84.5,294.45 84.85,294.62 85.2,294.8 85.55,294.99 85.9,295.18 86.25,295.36 86.6,295.52 86.95,295.67 87.3,295.8 87.65,295.89 88,295.95 88.35,295.97 88.7,295.94 89.05,295.85 89.4,295.7 89.75,295.5 90.1,295.24 90.45,294.94 90.8,294.6 91.15,294.22 91.5,293.83 91.85,293.42 92.2,293.01 92.55,292.59 92.9,292.18 93.25,291.79 93.6,291.41 93.95,291.07 94.3,290.76 94.65,290.5 95,290.29 95.35,290.14 95.7,290.05 96.05,290.03 96.4,290.05 96.75,290.12 97.1,290.24 97.45,290.4 97.8,290.6 98.15,290.84 98.5,291.1 98.85,291.4 99.2,291.72 99.55,292.05 99.9,292.4 100.25,292.75 100.6,293.11 100.95,293.46 101.3,293.81 101.65,294.15 102,294.47 102.35,294.77 102.7,295.04 103.05,295.28 103.4,295.49 103.75,295.67 104.1,295.82 104.45,295.95 104.8,296.04 105.15,296.11 105.5,296.16 105.85,296.22 106.2,296.27 106.55,296.32 106.9,296.37 107.25,296.41 107.6,296.46 107.95,296.49 108.3,296.52 108.65,296.55 109,296.57 109.35,296.59 109.7,296.6 110.05,296.6 110.4,296.58 110.75,296.52 111.1,296.43 111.45,296.28 111.8,296.07 112.15,295.82 112.5,295.53 112.85,295.2 113.2,294.85 113.55,294.48 113.9,294.1 114.25,293.71 114.6,293.32 114.95,292.94 115.3,292.57 115.65,292.22 116,291.9 116.35,291.61 116.7,291.35 117.05,291.13 117.4,290.92 117.75,290.73 118.1,290.58 118.45,290.45 118.8,290.32 119.15,290.21 119.5,290.09 119.85,289.98 120.2,289.87 120.55,289.77 120.9,289.68 121.25,289.59 121.6,289.51 121.95,289.44 122.3,289.38 122.65,289.33 123,289.29 123.35,289.26 123.7,289.27 124.05,289.32 124.4,289.43 124.75,289.57 125.1,289.76 125.45,290.03 125.8,290.38 126.15,290.79 126.5,291.27 126.85,291.79 127.2,292.35 127.55,292.95 127.9,293.56 128.25,294.19 128.6,294.82 128.95,295.45 129.3,296.07 129.65,296.66 130,297.22 130.35,297.75 130.7,298.26 131.05,298.75 131.4,299.21 131.75,299.63 132.1,300.01 132.45,300.35 132.8,300.64 133.15,300.87 133.5,301.04 133.85,301.16 134.2,301.21 134.55,301.22 134.9,301.18 135.25,301.11 135.6,300.99 135.95,300.84 136.3,300.67 136.65,300.47 137,300.24 137.35,300 137.7,299.75 138.05,299.48 138.4,299.22 138.75,298.96 139.1,298.7 139.45,298.47 139.8,298.25 140.15,298.06 140.5,297.91 140.85,297.79 141.2,297.72 141.55,297.7 141.9,297.74 142.25,297.83 142.6,298 142.95,298.22 143.3,298.49 143.65,298.83 144,299.23 144.35,299.69 144.7,300.21 145.05,300.77 145.4,301.37 145.75,302.01 146.1,302.67 146.45,303.35 146.8,304.05 147.15,304.76 147.5,305.47 147.85,306.17 148.2,306.86 148.55,307.54 148.9,308.2 149.25,308.82 149.6,309.41 149.95,309.95 150.3,310.47 150.65,310.95 151,311.4 151.35,311.81 151.7,312.19 152.05,312.53 152.4,312.82 152.75,313.07 153.1,313.28 153.45,313.45 153.8,313.59 154.15,313.69 154.5,313.77 154.85,313.83 155.2,313.86 155.55,313.88 155.9,313.88 156.25,313.87 156.6,313.85 156.95,313.83 157.3,313.8 157.65,313.77 158,313.74 158.35,313.72 158.7,313.7 159.05,313.7 159.4,313.72 159.75,313.75 160.1,313.8 160.45,313.88 160.8,313.99 161.15,314.13 161.5,314.3 161.85,314.51 162.2,314.76 162.55,315.03 162.9,315.33 163.25,315.66 163.6,316 163.95,316.36 164.3,316.72 164.65,317.09 165,317.46 165.35,317.82 165.7,318.18 166.05,318.52 166.4,318.84 166.75,319.14 167.1,319.41 167.45,319.65 167.8,319.86 168.15,320.02 168.5,320.15 168.85,320.23 169.2,320.29 169.55,320.32 169.9,320.33 170.25,320.31 170.6,320.27 170.95,320.22 171.3,320.16 171.65,320.09 172,320.02 172.35,319.95 172.7,319.88 173.05,319.81 173.4,319.76 173.75,319.72 174.1,319.69 174.45,319.69 174.8,319.7 175.15,319.74 175.5,319.81 175.85,319.91 176.2,320.04 176.55,320.2 176.9,320.4 177.25,320.65 177.6,320.97 177.95,321.34 178.3,321.78 178.65,322.26 179,322.79 179.35,323.36 179.7,323.98 180.05,324.67 180.4,325.42 180.75,326.2 181.1,327.01 181.45,327.81 181.8,328.6 182.15,329.34 182.5,330.02 182.85,330.63 183.2,331.17 183.55,331.66 183.9,332.09 184.25,332.46 184.6,332.77 184.95,333.04 185.3,333.28 185.65,333.49 186,333.67 186.35,333.83 186.7,333.97 187.05,334.09 187.4,334.2 187.75,334.29 188.1,334.39 188.45,334.48 188.8,334.57 189.15,334.67 189.5,334.78 189.85,334.9 190.2,335.04 190.55,335.19 190.9,335.37 191.25,335.55 191.6,335.74 191.95,335.92 192.3,336.1 192.65,336.28 193,336.46 193.35,336.63 193.7,336.8 194.05,336.97 194.4,337.14 194.75,337.3 195.1,337.46 195.45,337.61 195.8,337.77 196.15,337.92 196.5,338.06 196.85,338.21 197.2,338.35 197.55,338.48 197.9,338.61 198.25,338.74 198.6,338.87 198.95,338.99 199.3,339.11 199.65,339.22 200,339.32 200.35,339.43 200.7,339.53 201.05,339.62 201.4,339.71 201.75,339.79 202.1,339.87 202.45,339.95 202.8,340.02 203.15,340.09 203.5,340.16 203.85,340.22 204.2,340.28 204.55,340.34 204.9,340.39 205.25,340.44 205.6,340.49 205.95,340.54 206.3,340.58 206.65,340.63 207,340.67 207.35,340.71 207.7,340.75 208.05,340.8 208.4,340.84 208.75,340.88 209.1,340.93 209.45,340.97 209.8,341.02 210.15,341.07 210.5,341.12 210.85,341.18 211.2,341.23 211.55,341.3 211.9,341.36 212.25,341.43 212.6,341.5 212.95,341.57 213.3,341.64 213.65,341.72 214,341.79 214.35,341.86 214.7,341.94 215.05,342.01 215.4,342.09 215.75,342.17 216.1,342.25 216.45,342.32 216.8,342.4 217.15,342.48 217.5,342.56 217.85,342.64 218.2,342.72 218.55,342.8 218.9,342.88 219.25,342.97 219.6,343.05 219.95,343.13 220.3,343.21 220.65,343.29 221,343.37 221.35,343.45 221.7,343.53 222.05,343.62 222.4,343.7 222.75,343.78 223.1,343.87 223.45,343.95 223.8,344.03 224.15,344.12 224.5,344.2 224.85,344.29 225.2,344.38 225.55,344.46"/>
<polyline fill="none" stroke="#cc2828" stroke-width="0.85" stroke-linejoin="round"  points="37.6,334.04 37.95,333.82 38.3,333.6 38.65,333.37 39,333.14 39.35,332.9 39.7,332.66 40.05,332.41 40.4,332.16 40.75,331.9 41.1,331.64 41.45,331.38 41.8,331.11 42.15,330.83 42.5,330.55 42.85,330.27 43.2,329.98 43.55,329.69 43.9,329.39 44.25,329.07 44.6,328.75 44.95,328.43 45.3,328.09 45.65,327.75 46,327.4 46.35,327.05 46.7,326.69 47.05,326.33 47.4,325.97 47.75,325.6 48.1,325.24 48.45,324.87 48.8,324.5 49.15,324.13 49.5,323.76 49.85,323.39 50.2,323.03 50.55,322.66 50.9,322.31 51.25,321.95 51.6,321.6 51.95,321.25 52.3,320.9 52.65,320.55 53,320.19 53.35,319.84 53.7,319.48 54.05,319.12 54.4,318.76 54.75,318.41 55.1,318.05 55.45,317.69 55.8,317.34 56.15,316.99 56.5,316.63 56.85,316.29 57.2,315.94 57.55,315.6 57.9,315.25 58.25,314.92 58.6,314.59 58.95,314.26 59.3,313.93 59.65,313.61 60,313.3 60.35,312.99 60.7,312.69 61.05,312.39 61.4,312.09 61.75,311.8 62.1,311.51 62.45,311.22 62.8,310.94 63.15,310.65 63.5,310.37 63.85,310.1 64.2,309.82 64.55,309.54 64.9,309.27 65.25,309 65.6,308.72 65.95,308.45 66.3,308.18 66.65,307.9 67,307.63 67.35,307.35 67.7,307.08 68.05,306.8 68.4,306.52 68.75,306.24 69.1,305.96 69.45,305.68 69.8,305.41 70.15,305.13 70.5,304.85 70.85,304.58 71.2,304.3 71.55,304.03 71.9,303.75 72.25,303.48 72.6,303.2 72.95,302.92 73.3,302.65 73.65,302.37 74,302.09 74.35,301.81 74.7,301.54 75.05,301.26 75.4,300.97 75.75,300.69 76.1,300.41 76.45,300.12 76.8,299.83 77.15,299.53 77.5,299.21 77.85,298.88 78.2,298.55 78.55,298.21 78.9,297.88 79.25,297.55 79.6,297.24 79.95,296.93 80.3,296.65 80.65,296.38 81,296.14 81.35,295.93 81.7,295.75 82.05,295.59 82.4,295.43 82.75,295.29 83.1,295.15 83.45,295.02 83.8,294.89 84.15,294.77 84.5,294.65 84.85,294.54 85.2,294.44 85.55,294.33 85.9,294.23 86.25,294.13 86.6,294.04 86.95,293.94 87.3,293.85 87.65,293.75 88,293.66 88.35,293.56 88.7,293.46 89.05,293.35 89.4,293.25 89.75,293.14 90.1,293.03 90.45,292.92 90.8,292.81 91.15,292.7 91.5,292.59 91.85,292.48 92.2,292.38 92.55,292.28 92.9,292.18 93.25,292.09 93.6,292 93.95,291.93 94.3,291.85 94.65,291.79 95,291.73 95.35,291.69 95.7,291.65 96.05,291.62 96.4,291.6 96.75,291.6 97.1,291.61 97.45,291.65 97.8,291.7 98.15,291.77 98.5,291.85 98.85,291.95 99.2,292.05 99.55,292.16 99.9,292.28 100.25,292.4 100.6,292.53 100.95,292.65 101.3,292.77 101.65,292.88 102,292.99 102.35,293.09 102.7,293.18 103.05,293.26 103.4,293.32 103.75,293.37 104.1,293.43 104.45,293.49 104.8,293.55 105.15,293.61 105.5,293.66 105.85,293.72 106.2,293.77 106.55,293.82 106.9,293.87 107.25,293.91 107.6,293.96 107.95,293.99 108.3,294.02 108.65,294.05 109,294.07 109.35,294.09 109.7,294.1 110.05,294.1 110.4,294.08 110.75,294.02 111.1,293.94 111.45,293.84 111.8,293.71 112.15,293.56 112.5,293.4 112.85,293.23 113.2,293.05 113.55,292.87 113.9,292.68 114.25,292.5 114.6,292.33 114.95,292.16 115.3,292.01 115.65,291.87 116,291.75 116.35,291.65 116.7,291.58 117.05,291.52 117.4,291.46 117.75,291.39 118.1,291.33 118.45,291.27 118.8,291.22 119.15,291.16 119.5,291.11 119.85,291.06 120.2,291.02 120.55,290.97 120.9,290.93 121.25,290.9 121.6,290.87 121.95,290.84 122.3,290.83 122.65,290.81 123,290.8 123.35,290.8 123.7,290.83 124.05,290.9 124.4,291.02 124.75,291.17 125.1,291.35 125.45,291.56 125.8,291.79 126.15,292.05 126.5,292.32 126.85,292.6 127.2,292.88 127.55,293.18 127.9,293.47 128.25,293.76 128.6,294.04 128.95,294.31 129.3,294.56 129.65,294.79 130,295 130.35,295.19 130.7,295.39 131.05,295.58 131.4,295.76 131.75,295.95 132.1,296.14 132.45,296.32 132.8,296.5 133.15,296.68 133.5,296.85 133.85,297.03 134.2,297.2 134.55,297.37 134.9,297.53 135.25,297.7 135.6,297.86 135.95,298.01 136.3,298.17 136.65,298.32 137,298.47 137.35,298.6 137.7,298.73 138.05,298.85 138.4,298.97 138.75,299.09 139.1,299.2 139.45,299.31 139.8,299.42 140.15,299.54 140.5,299.65 140.85,299.77 141.2,299.9 141.55,300.04 141.9,300.18 142.25,300.33 142.6,300.49 142.95,300.67 143.3,300.86 143.65,301.08 144,301.33 144.35,301.61 144.7,301.92 145.05,302.25 145.4,302.6 145.75,302.96 146.1,303.34 146.45,303.73 146.8,304.13 147.15,304.53 147.5,304.93 147.85,305.32 148.2,305.71 148.55,306.09 148.9,306.46 149.25,306.81 149.6,307.14 149.95,307.44 150.3,307.74 150.65,308.03 151,308.31 151.35,308.6 151.7,308.87 152.05,309.15 152.4,309.42 152.75,309.69 153.1,309.95 153.45,310.21 153.8,310.47 154.15,310.72 154.5,310.97 154.85,311.21 155.2,311.46 155.55,311.7 155.9,311.93 156.25,312.17 156.6,312.4 156.95,312.63 157.3,312.85 157.65,313.07 158,313.29 158.35,313.5 158.7,313.71 159.05,313.92 159.4,314.12 159.75,314.32 160.1,314.52 160.45,314.72 160.8,314.92 161.15,315.11 161.5,315.3 161.85,315.49 162.2,315.68 162.55,315.87 162.9,316.06 163.25,316.24 163.6,316.43 163.95,316.61 164.3,316.79 164.65,316.97 165,317.15 165.35,317.33 165.7,317.5 166.05,317.67 166.4,317.84 166.75,318 167.1,318.16 167.45,318.32 167.8,318.47 168.15,318.62 168.5,318.76 168.85,318.9 169.2,319.03 169.55,319.16 169.9,319.28 170.25,319.39 170.6,319.51 170.95,319.62 171.3,319.74 171.65,319.85 172,319.97 172.35,320.09 172.7,320.21 173.05,320.34 173.4,320.48 173.75,320.62 174.1,320.77 174.45,320.93 174.8,321.1 175.15,321.28 175.5,321.46 175.85,321.66 176.2,321.86 176.55,322.08 176.9,322.3 177.25,322.54 177.6,322.78 177.95,323.04 178.3,323.3 178.65,323.58 179,323.87 179.35,324.17 179.7,324.49 180.05,324.87 180.4,325.29 180.75,325.76 181.1,326.24 181.45,326.72 181.8,327.2 182.15,327.66 182.5,328.08 182.85,328.45 183.2,328.79 183.55,329.13 183.9,329.45 184.25,329.77 184.6,330.08 184.95,330.37 185.3,330.66 185.65,330.94 186,331.21 186.35,331.47 186.7,331.73 187.05,331.97 187.4,332.21 187.75,332.43 188.1,332.65 188.45,332.87 188.8,333.08 189.15,333.29 189.5,333.49 189.85,333.69 190.2,333.89 190.55,334.08 190.9,334.27 191.25,334.45 191.6,334.63 191.95,334.81 192.3,334.98 192.65,335.15 193,335.32 193.35,335.48 193.7,335.63 194.05,335.79 194.4,335.94 194.75,336.08 195.1,336.23 195.45,336.36 195.8,336.5 196.15,336.63 196.5,336.76 196.85,336.89 197.2,337.01 197.55,337.13 197.9,337.25 198.25,337.37 198.6,337.49 198.95,337.6 199.3,337.71 199.65,337.82 200,337.92 200.35,338.03 200.7,338.13 201.05,338.23 201.4,338.33 201.75,338.43 202.1,338.52 202.45,338.61 202.8,338.7 203.15,338.79 203.5,338.88 203.85,338.96 204.2,339.05 204.55,339.13 204.9,339.21 205.25,339.28 205.6,339.36 205.95,339.43 206.3,339.5 206.65,339.57 207,339.64 207.35,339.71 207.7,339.78 208.05,339.84 208.4,339.91 208.75,339.97 209.1,340.04 209.45,340.1 209.8,340.17 210.15,340.23 210.5,340.3 210.85,340.36 211.2,340.43 211.55,340.49 211.9,340.56 212.25,340.63 212.6,340.7 212.95,340.77 213.3,340.84 213.65,340.91 214,340.98 214.35,341.05 214.7,341.12 215.05,341.19 215.4,341.26 215.75,341.33 216.1,341.4 216.45,341.47 216.8,341.54 217.15,341.61 217.5,341.67 217.85,341.74 218.2,341.81 218.55,341.88 218.9,341.94 219.25,342.01 219.6,342.07 219.95,342.14 220.3,342.2 220.65,342.26 221,342.32 221.35,342.39 221.7,342.45 222.05,342.51 222.4,342.57 222.75,342.62 223.1,342.68 223.45,342.74 223.8,342.8 224.15,342.85 224.5,342.91 224.85,342.97 225.2,343.02 225.55,343.08"/>
<polyline fill="none" stroke="#2f2a85" stroke-width="1.1" stroke-linejoin="round"  points="37.6,352.38 37.95,352.31 38.3,352.24 38.65,352.17 39,352.11 39.35,352.04 39.7,351.97 40.05,351.91 40.4,351.84 40.75,351.77 41.1,351.71 41.45,351.64 41.8,351.58 42.15,351.51 42.5,351.45 42.85,351.38 43.2,351.32 43.55,351.26 43.9,351.2 44.25,351.13 44.6,351.07 44.95,351.01 45.3,350.95 45.65,350.89 46,350.83 46.35,350.77 46.7,350.71 47.05,350.65 47.4,350.59 47.75,350.53 48.1,350.48 48.45,350.42 48.8,350.36 49.15,350.3 49.5,350.25 49.85,350.19 50.2,350.13 50.55,350.07 50.9,350.02 51.25,349.96 51.6,349.9 51.95,349.84 52.3,349.77 52.65,349.71 53,349.63 53.35,349.56 53.7,349.48 54.05,349.41 54.4,349.33 54.75,349.25 55.1,349.17 55.45,349.1 55.8,349.03 56.15,348.95 56.5,348.88 56.85,348.82 57.2,348.76 57.55,348.7 57.9,348.65 58.25,348.61 58.6,348.57 58.95,348.54 59.3,348.52 59.65,348.5 60,348.5 60.35,348.5 60.7,348.52 61.05,348.54 61.4,348.57 61.75,348.6 62.1,348.64 62.45,348.69 62.8,348.74 63.15,348.8 63.5,348.85 63.85,348.91 64.2,348.97 64.55,349.03 64.9,349.09 65.25,349.15 65.6,349.21 65.95,349.27 66.3,349.32 66.65,349.37 67,349.41 67.35,349.45 67.7,349.48 68.05,349.5 68.4,349.53 68.75,349.55 69.1,349.57 69.45,349.59 69.8,349.61 70.15,349.63 70.5,349.65 70.85,349.67 71.2,349.69 71.55,349.71 71.9,349.72 72.25,349.74 72.6,349.75 72.95,349.76 73.3,349.78 73.65,349.78 74,349.79 74.35,349.8 74.7,349.8 75.05,349.8 75.4,349.77 75.75,349.71 76.1,349.62 76.45,349.5 76.8,349.36 77.15,349.2 77.5,349.03 77.85,348.84 78.2,348.65 78.55,348.46 78.9,348.28 79.25,348.1 79.6,347.93 79.95,347.77 80.3,347.64 80.65,347.53 81,347.46 81.35,347.41 81.7,347.4 82.05,347.44 82.4,347.53 82.75,347.67 83.1,347.84 83.45,348.04 83.8,348.27 84.15,348.53 84.5,348.8 84.85,349.08 85.2,349.37 85.55,349.66 85.9,349.94 86.25,350.22 86.6,350.49 86.95,350.73 87.3,350.95 87.65,351.14 88,351.3 88.35,351.41 88.7,351.48 89.05,351.5 89.4,351.46 89.75,351.36 90.1,351.21 90.45,351.02 90.8,350.79 91.15,350.53 91.5,350.24 91.85,349.94 92.2,349.63 92.55,349.31 92.9,349 93.25,348.7 93.6,348.41 93.95,348.15 94.3,347.91 94.65,347.71 95,347.56 95.35,347.45 95.7,347.4 96.05,347.41 96.4,347.45 96.75,347.52 97.1,347.62 97.45,347.75 97.8,347.9 98.15,348.07 98.5,348.25 98.85,348.45 99.2,348.67 99.55,348.89 99.9,349.12 100.25,349.35 100.6,349.58 100.95,349.82 101.3,350.04 101.65,350.27 102,350.48 102.35,350.68 102.7,350.86 103.05,351.03 103.4,351.17 103.75,351.29 104.1,351.39 104.45,351.46 104.8,351.49 105.15,351.5 105.5,351.5 105.85,351.5 106.2,351.5 106.55,351.5 106.9,351.5 107.25,351.5 107.6,351.5 107.95,351.5 108.3,351.5 108.65,351.5 109,351.5 109.35,351.5 109.7,351.5 110.05,351.5 110.4,351.5 110.75,351.5 111.1,351.49 111.45,351.44 111.8,351.36 112.15,351.26 112.5,351.12 112.85,350.97 113.2,350.8 113.55,350.61 113.9,350.42 114.25,350.21 114.6,350 114.95,349.78 115.3,349.56 115.65,349.35 116,349.15 116.35,348.95 116.7,348.77 117.05,348.61 117.4,348.46 117.75,348.34 118.1,348.24 118.45,348.17 118.8,348.11 119.15,348.04 119.5,347.98 119.85,347.92 120.2,347.86 120.55,347.8 120.9,347.75 121.25,347.69 121.6,347.65 121.95,347.6 122.3,347.56 122.65,347.52 123,347.49 123.35,347.46 123.7,347.44 124.05,347.42 124.4,347.41 124.75,347.4 125.1,347.41 125.45,347.47 125.8,347.59 126.15,347.75 126.5,347.95 126.85,348.19 127.2,348.47 127.55,348.77 127.9,349.09 128.25,349.43 128.6,349.78 128.95,350.14 129.3,350.51 129.65,350.87 130,351.22 130.35,351.56 130.7,351.88 131.05,352.17 131.4,352.44 131.75,352.68 132.1,352.88 132.45,353.03 132.8,353.14 133.15,353.19 133.5,353.19 133.85,353.13 134.2,353.02 134.55,352.86 134.9,352.65 135.25,352.41 135.6,352.13 135.95,351.83 136.3,351.5 136.65,351.14 137,350.78 137.35,350.4 137.7,350.02 138.05,349.63 138.4,349.25 138.75,348.87 139.1,348.5 139.45,348.16 139.8,347.83 140.15,347.53 140.5,347.25 140.85,347.02 141.2,346.82 141.55,346.66 141.9,346.56 142.25,346.51 142.6,346.51 142.95,346.55 143.3,346.63 143.65,346.75 144,346.9 144.35,347.09 144.7,347.29 145.05,347.52 145.4,347.77 145.75,348.04 146.1,348.33 146.45,348.62 146.8,348.92 147.15,349.23 147.5,349.54 147.85,349.85 148.2,350.15 148.55,350.45 148.9,350.74 149.25,351.01 149.6,351.27 149.95,351.51 150.3,351.73 150.65,351.92 151,352.09 151.35,352.22 151.7,352.32 152.05,352.38 152.4,352.4 152.75,352.38 153.1,352.33 153.45,352.24 153.8,352.12 154.15,351.97 154.5,351.81 154.85,351.61 155.2,351.41 155.55,351.18 155.9,350.95 156.25,350.7 156.6,350.45 156.95,350.2 157.3,349.95 157.65,349.7 158,349.45 158.35,349.22 158.7,348.99 159.05,348.79 159.4,348.59 159.75,348.43 160.1,348.28 160.45,348.16 160.8,348.07 161.15,348.02 161.5,348 161.85,348.02 162.2,348.08 162.55,348.16 162.9,348.28 163.25,348.42 163.6,348.57 163.95,348.75 164.3,348.93 164.65,349.12 165,349.31 165.35,349.5 165.7,349.68 166.05,349.85 166.4,350 166.75,350.14 167.1,350.25 167.45,350.33 167.8,350.39 168.15,350.4 168.5,350.38 168.85,350.33 169.2,350.26 169.55,350.17 169.9,350.05 170.25,349.92 170.6,349.77 170.95,349.6 171.3,349.43 171.65,349.24 172,349.05 172.35,348.86 172.7,348.67 173.05,348.47 173.4,348.28 173.75,348.1 174.1,347.92 174.45,347.76 174.8,347.61 175.15,347.47 175.5,347.35 175.85,347.25 176.2,347.18 176.55,347.12 176.9,347.1 177.25,347.12 177.6,347.19 177.95,347.31 178.3,347.48 178.65,347.68 179,347.93 179.35,348.2 179.7,348.49 180.05,348.8 180.4,349.12 180.75,349.45 181.1,349.77 181.45,350.09 181.8,350.4 182.15,350.68 182.5,350.95 182.85,351.18 183.2,351.38 183.55,351.53 183.9,351.64 184.25,351.69 184.6,351.7 184.95,351.67 185.3,351.62 185.65,351.55 186,351.46 186.35,351.35 186.7,351.24 187.05,351.12 187.4,350.99 187.75,350.86 188.1,350.73 188.45,350.61 188.8,350.49 189.15,350.39 189.5,350.29 189.85,350.21 190.2,350.15 190.55,350.11 190.9,350.1 191.25,350.1 191.6,350.11 191.95,350.11 192.3,350.12 192.65,350.13 193,350.14 193.35,350.15 193.7,350.17 194.05,350.18 194.4,350.2 194.75,350.22 195.1,350.23 195.45,350.25 195.8,350.27 196.15,350.28 196.5,350.3 196.85,350.32 197.2,350.33 197.55,350.35 197.9,350.36 198.25,350.37 198.6,350.38 198.95,350.39 199.3,350.39 199.65,350.4 200,350.4 200.35,350.4 200.7,350.39 201.05,350.39 201.4,350.38 201.75,350.37 202.1,350.35 202.45,350.34 202.8,350.32 203.15,350.3 203.5,350.28 203.85,350.25 204.2,350.23 204.55,350.21 204.9,350.18 205.25,350.16 205.6,350.13 205.95,350.1 206.3,350.08 206.65,350.05 207,350.03 207.35,350 207.7,349.98 208.05,349.95 208.4,349.93 208.75,349.91 209.1,349.89 209.45,349.87 209.8,349.85 210.15,349.84 210.5,349.83 210.85,349.82 211.2,349.81 211.55,349.8 211.9,349.8 212.25,349.8 212.6,349.8 212.95,349.8 213.3,349.8 213.65,349.81 214,349.81 214.35,349.82 214.7,349.82 215.05,349.83 215.4,349.83 215.75,349.84 216.1,349.85 216.45,349.86 216.8,349.87 217.15,349.88 217.5,349.89 217.85,349.9 218.2,349.91 218.55,349.93 218.9,349.94 219.25,349.96 219.6,349.97 219.95,349.99 220.3,350.01 220.65,350.03 221,350.05 221.35,350.07 221.7,350.09 222.05,350.11 222.4,350.13 222.75,350.16 223.1,350.18 223.45,350.21 223.8,350.24 224.15,350.26 224.5,350.29 224.85,350.32 225.2,350.35 225.55,350.39"/>
</g>
<g>
<text transform="translate(131.75,395.7) scale(0.09149,0.07)" font-size="100" text-anchor="middle" font-weight="bold" fill="#000">PSR B0525+21 | Pulse 62</text>
<line x1="38.1" y1="485.89" x2="221.92" y2="485.89" stroke="#222" stroke-width="0.9" />
<line x1="38.1" y1="485.89" x2="38.1" y2="489.09" stroke="#222" stroke-width="0.9" />
<text transform="translate(38.1,497.69) scale(0.09149,0.0798)" font-size="100" text-anchor="middle" font-weight="normal" fill="#000">0</text>
<line x1="64.36" y1="485.89" x2="64.36" y2="489.09" stroke="#222" stroke-width="0.9" />
<text transform="translate(64.36,497.69) scale(0.09149,0.0798)" font-size="100" text-anchor="middle" font-weight="normal" fill="#000">10</text>
<line x1="90.62" y1="485.89" x2="90.62" y2="489.09" stroke="#222" stroke-width="0.9" />
<text transform="translate(90.62,497.69) scale(0.09149,0.0798)" font-size="100" text-anchor="middle" font-weight="normal" fill="#000">20</text>
<line x1="116.88" y1="485.89" x2="116.88" y2="489.09" stroke="#222" stroke-width="0.9" />
<text transform="translate(116.88,497.69) scale(0.09149,0.0798)" font-size="100" text-anchor="middle" font-weight="normal" fill="#000">30</text>
<line x1="143.14" y1="485.89" x2="143.14" y2="489.09" stroke="#222" stroke-width="0.9" />
<text transform="translate(143.14,497.69) scale(0.09149,0.0798)" font-size="100" text-anchor="middle" font-weight="normal" fill="#000">40</text>
<line x1="169.4" y1="485.89" x2="169.4" y2="489.09" stroke="#222" stroke-width="0.9" />
<text transform="translate(169.4,497.69) scale(0.09149,0.0798)" font-size="100" text-anchor="middle" font-weight="normal" fill="#000">50</text>
<line x1="195.66" y1="485.89" x2="195.66" y2="489.09" stroke="#222" stroke-width="0.9" />
<text transform="translate(195.66,497.69) scale(0.09149,0.0798)" font-size="100" text-anchor="middle" font-weight="normal" fill="#000">60</text>
<line x1="221.92" y1="485.89" x2="221.92" y2="489.09" stroke="#222" stroke-width="0.9" />
<text transform="translate(221.92,497.69) scale(0.09149,0.0798)" font-size="100" text-anchor="middle" font-weight="normal" fill="#000">70</text>
<text transform="translate(131.9,509.29) scale(0.09149,0.0742)" font-size="100" text-anchor="middle" font-weight="normal" fill="#000">Time (ms)</text>
<line x1="30.5" y1="478.3" x2="30.5" y2="415.8" stroke="#222" stroke-width="0.9" />
<line x1="26" y1="478.3" x2="30.5" y2="478.3" stroke="#222" stroke-width="0.9" />
<text transform="translate(20.4,478.3) rotate(-90) scale(0.07,0.09499)" font-size="100" text-anchor="middle" fill="#000">0e+00</text>
<line x1="26" y1="465.8" x2="30.5" y2="465.8" stroke="#222" stroke-width="0.9" />
<line x1="26" y1="453.3" x2="30.5" y2="453.3" stroke="#222" stroke-width="0.9" />
<line x1="26" y1="440.8" x2="30.5" y2="440.8" stroke="#222" stroke-width="0.9" />
<text transform="translate(20.4,440.8) rotate(-90) scale(0.07,0.09499)" font-size="100" text-anchor="middle" fill="#000">6e+04</text>
<line x1="26" y1="428.3" x2="30.5" y2="428.3" stroke="#222" stroke-width="0.9" />
<line x1="26" y1="415.8" x2="30.5" y2="415.8" stroke="#222" stroke-width="0.9" />
<text transform="translate(7,446.44) rotate(-90) scale(0.07,0.09002)" font-size="100" text-anchor="middle" fill="#000">Signal</text>
<path d="M37.2 475.93h1.8M37.36 477.65h1.8M37.52 473.86h1.8M37.67 476.63h1.8M37.83 479.87h1.8M37.99 477.45h1.8M38.15 476.64h1.8M38.3 471.57h1.8M38.46 475.37h1.8M38.62 473.2h1.8M38.78 478.11h1.8M38.93 474.51h1.8M39.09 477.13h1.8M39.25 473.88h1.8M39.41 480.76h1.8M39.56 473.46h1.8M39.72 476.59h1.8M39.88 482.55h1.8M40.04 476.77h1.8M40.19 474.17h1.8M40.35 477.73h1.8M40.51 478.63h1.8M40.67 478.34h1.8M40.82 471.51h1.8M40.98 476.76h1.8M41.14 471.11h1.8M41.3 480.8h1.8M41.45 476.39h1.8M41.61 475.1h1.8M41.77 477.84h1.8M41.93 477.38h1.8M42.08 473.33h1.8M42.24 480.12h1.8M42.4 475.6h1.8M42.56 471.91h1.8M42.71 479.57h1.8M42.87 479.89h1.8M43.03 479.21h1.8M43.19 477.48h1.8M43.34 473.96h1.8M43.5 478.41h1.8M43.66 480.66h1.8M43.82 478.1h1.8M43.98 480.02h1.8M44.13 474.2h1.8M44.29 478.58h1.8M44.45 478.37h1.8M44.61 472.41h1.8M44.76 472.06h1.8M44.92 474.28h1.8M45.08 476.24h1.8M45.24 477.14h1.8M45.39 475.46h1.8M45.55 475.85h1.8M45.71 475.72h1.8M45.87 476.2h1.8M46.02 477.42h1.8M46.18 477.19h1.8M46.34 475.81h1.8M46.5 476.57h1.8M46.65 474.8h1.8M46.81 477.88h1.8M46.97 474.63h1.8M47.13 479.95h1.8M47.28 475.79h1.8M47.44 476.51h1.8M47.6 473.92h1.8M47.76 474.93h1.8M47.91 476.18h1.8M48.07 475.8h1.8M48.23 474.17h1.8M48.39 472.8h1.8M48.54 475.78h1.8M48.7 476.04h1.8M48.86 477.01h1.8M49.02 478.74h1.8M49.17 474.8h1.8M49.33 470.54h1.8M49.49 475.17h1.8M49.65 470.85h1.8M49.8 472.23h1.8M49.96 478.04h1.8M50.12 476.84h1.8M50.28 473.75h1.8M50.44 473.73h1.8M50.59 475.08h1.8M50.75 470.83h1.8M50.91 476.45h1.8M51.07 474.31h1.8M51.22 479.83h1.8M51.38 472.43h1.8M51.54 477.63h1.8M51.7 473.31h1.8M51.85 477.6h1.8M52.01 472.46h1.8M52.17 476.78h1.8M52.33 473.73h1.8M52.48 472.7h1.8M52.64 474.37h1.8M52.8 475.92h1.8M52.96 475.68h1.8M53.11 478.63h1.8M53.27 476.63h1.8M53.43 467.7h1.8M53.59 473.37h1.8M53.74 469.21h1.8M53.9 473.28h1.8M54.06 475.81h1.8M54.22 470.69h1.8M54.37 471.02h1.8M54.53 474.36h1.8M54.69 473.17h1.8M54.85 477.94h1.8M55 474.61h1.8M55.16 475.07h1.8M55.32 478.15h1.8M55.48 472.25h1.8M55.63 473.46h1.8M55.79 470.81h1.8M55.95 473.98h1.8M56.11 475.92h1.8M56.26 476.71h1.8M56.42 472.98h1.8M56.58 471.14h1.8M56.74 470.92h1.8M56.9 469.2h1.8M57.05 473.07h1.8M57.21 476.23h1.8M57.37 466.4h1.8M57.53 466.82h1.8M57.68 476.11h1.8M57.84 468.14h1.8M58 473.15h1.8M58.16 468.89h1.8M58.31 474.18h1.8M58.47 474.1h1.8M58.63 472.41h1.8M58.79 474.06h1.8M58.94 471.95h1.8M59.1 473.23h1.8M59.26 476.48h1.8M59.42 474.49h1.8M59.57 469.78h1.8M59.73 469.33h1.8M59.89 470.75h1.8M60.05 470.7h1.8M60.2 471.43h1.8M60.36 469.57h1.8M60.52 472.83h1.8M60.68 471.14h1.8M60.83 471.93h1.8M60.99 470.92h1.8M61.15 472.47h1.8M61.31 467.58h1.8M61.46 474.91h1.8M61.62 471.56h1.8M61.78 471.77h1.8M61.94 472.13h1.8M62.09 473.32h1.8M62.25 472.34h1.8M62.41 470.94h1.8M62.57 469.75h1.8M62.72 465.76h1.8M62.88 470.67h1.8M63.04 469.19h1.8M63.2 469.12h1.8M63.35 476.35h1.8M63.51 464.82h1.8M63.67 469.9h1.8M63.83 472.94h1.8M63.99 472.2h1.8M64.14 472.88h1.8M64.3 466.05h1.8M64.46 466.8h1.8M64.62 470.99h1.8M64.77 468.44h1.8M64.93 473.79h1.8M65.09 469.71h1.8M65.25 469.54h1.8M65.4 470.13h1.8M65.56 468.12h1.8M65.72 469.1h1.8M65.88 466.86h1.8M66.03 476.65h1.8M66.19 467.21h1.8M66.35 469.14h1.8M66.51 464.5h1.8M66.66 464.2h1.8M66.82 469.43h1.8M66.98 468.7h1.8M67.14 465.36h1.8M67.29 467.28h1.8M67.45 464.93h1.8M67.61 473.28h1.8M67.77 460.56h1.8M67.92 472.19h1.8M68.08 465.14h1.8M68.24 468.45h1.8M68.4 466.47h1.8M68.55 466.03h1.8M68.71 469.54h1.8M68.87 469.1h1.8M69.03 465.94h1.8M69.18 464.12h1.8M69.34 472.21h1.8M69.5 470.25h1.8M69.66 466.65h1.8M69.81 465.32h1.8M69.97 466.82h1.8M70.13 466.1h1.8M70.29 469.05h1.8M70.45 462.93h1.8M70.6 465.52h1.8M70.76 463.15h1.8M70.92 468.8h1.8M71.08 470.03h1.8M71.23 464.62h1.8M71.39 469.64h1.8M71.55 468.48h1.8M71.71 463.59h1.8M71.86 461.66h1.8M72.02 466.99h1.8M72.18 465.35h1.8M72.34 463.2h1.8M72.49 467.68h1.8M72.65 464.1h1.8M72.81 458.31h1.8M72.97 464.07h1.8M73.12 462.77h1.8M73.28 468.02h1.8M73.44 462.54h1.8M73.6 461.84h1.8M73.75 463.46h1.8M73.91 462.75h1.8M74.07 457.94h1.8M74.23 462.04h1.8M74.38 460.61h1.8M74.54 465.3h1.8M74.7 467.92h1.8M74.86 457.84h1.8M75.01 458.09h1.8M75.17 458.25h1.8M75.33 458.59h1.8M75.49 458.31h1.8M75.64 460.23h1.8M75.8 462.97h1.8M75.96 456.04h1.8M76.12 455.18h1.8M76.27 454.13h1.8M76.43 462.3h1.8M76.59 462.74h1.8M76.75 454.45h1.8M76.91 453.99h1.8M77.06 458.81h1.8M77.22 461.36h1.8M77.38 460.96h1.8M77.54 458.45h1.8M77.69 459.66h1.8M77.85 458.48h1.8M78.01 455.79h1.8M78.17 462.63h1.8M78.32 457.01h1.8M78.48 453.65h1.8M78.64 455.29h1.8M78.8 452.02h1.8M78.95 456.27h1.8M79.11 459.16h1.8M79.27 452.18h1.8M79.43 458.82h1.8M79.58 461.37h1.8M79.74 456.23h1.8M79.9 451.59h1.8M80.06 452.23h1.8M80.21 453.48h1.8M80.37 450.52h1.8M80.53 450.37h1.8M80.69 452.98h1.8M80.84 452.96h1.8M81 454.99h1.8M81.16 449.54h1.8M81.32 458.15h1.8M81.47 455.57h1.8M81.63 453.39h1.8M81.79 450.13h1.8M81.95 456.81h1.8M82.1 450.54h1.8M82.26 456.55h1.8M82.42 454.15h1.8M82.58 448.21h1.8M82.73 443.53h1.8M82.89 455.77h1.8M83.05 453.02h1.8M83.21 449.43h1.8M83.37 450.26h1.8M83.52 450.02h1.8M83.68 446.98h1.8M83.84 448.44h1.8M84 446.89h1.8M84.15 447.36h1.8M84.31 456.3h1.8M84.47 445.43h1.8M84.63 450.17h1.8M84.78 448.19h1.8M84.94 449.93h1.8M85.1 450.15h1.8M85.26 451.06h1.8M85.41 449.12h1.8M85.57 449.27h1.8M85.73 446.59h1.8M85.89 448.75h1.8M86.04 444.38h1.8M86.2 446.3h1.8M86.36 449.22h1.8M86.52 446.87h1.8M86.67 448.36h1.8M86.83 443.94h1.8M86.99 451.12h1.8M87.15 445.4h1.8M87.3 448.29h1.8M87.46 448.94h1.8M87.62 449.89h1.8M87.78 445.99h1.8M87.93 444.13h1.8M88.09 441.43h1.8M88.25 446.08h1.8M88.41 443.36h1.8M88.56 448.39h1.8M88.72 450.95h1.8M88.88 439.89h1.8M89.04 442.45h1.8M89.19 447h1.8M89.35 449.49h1.8M89.51 446.45h1.8M89.67 446.2h1.8M89.83 446.43h1.8M89.98 446.31h1.8M90.14 449.17h1.8M90.3 445.75h1.8M90.46 439.85h1.8M90.61 441.81h1.8M90.77 443.51h1.8M90.93 440.11h1.8M91.09 441.45h1.8M91.24 440.34h1.8M91.4 439.53h1.8M91.56 443.45h1.8M91.72 439.95h1.8M91.87 437.62h1.8M92.03 438.56h1.8M92.19 440.69h1.8M92.35 446.82h1.8M92.5 441.15h1.8M92.66 444.78h1.8M92.82 441.75h1.8M92.98 433.72h1.8M93.13 441.37h1.8M93.29 437.66h1.8M93.45 436.16h1.8M93.61 437.04h1.8M93.76 445.79h1.8M93.92 435.62h1.8M94.08 438.6h1.8M94.24 444.08h1.8M94.39 442.65h1.8M94.55 435.49h1.8M94.71 440.44h1.8M94.87 439.27h1.8M95.02 440.31h1.8M95.18 443.27h1.8M95.34 439.25h1.8M95.5 440.08h1.8M95.65 445.55h1.8M95.81 435.44h1.8M95.97 439.94h1.8M96.13 442.49h1.8M96.28 437.17h1.8M96.44 438.99h1.8M96.6 436.8h1.8M96.76 441.23h1.8M96.92 438.74h1.8M97.07 442.98h1.8M97.23 443.61h1.8M97.39 440.51h1.8M97.55 439.1h1.8M97.7 440.97h1.8M97.86 440.25h1.8M98.02 436.21h1.8M98.18 443.19h1.8M98.33 440.48h1.8M98.49 442.12h1.8M98.65 435.36h1.8M98.81 442.75h1.8M98.96 445.91h1.8M99.12 441.18h1.8M99.28 434.66h1.8M99.44 439.18h1.8M99.59 438.78h1.8M99.75 439.53h1.8M99.91 438.02h1.8M100.07 440.19h1.8M100.22 437.08h1.8M100.38 439.14h1.8M100.54 436.16h1.8M100.7 438.51h1.8M100.85 441.2h1.8M101.01 436.44h1.8M101.17 439.95h1.8M101.33 434.96h1.8M101.48 436.46h1.8M101.64 436.76h1.8M101.8 443.06h1.8M101.96 434.86h1.8M102.11 440.97h1.8M102.27 432.4h1.8M102.43 436.36h1.8M102.59 439.58h1.8M102.74 438.73h1.8M102.9 433.18h1.8M103.06 432.31h1.8M103.22 438.75h1.8M103.38 431.79h1.8M103.53 437.4h1.8M103.69 433.7h1.8M103.85 435.09h1.8M104.01 442.23h1.8M104.16 439.59h1.8M104.32 437.11h1.8M104.48 429.85h1.8M104.64 435h1.8M104.79 433.92h1.8M104.95 433.21h1.8M105.11 437.55h1.8M105.27 426.46h1.8M105.42 433.87h1.8M105.58 433.05h1.8M105.74 430.05h1.8M105.9 437.75h1.8M106.05 428.01h1.8M106.21 431.97h1.8M106.37 431.96h1.8M106.53 424.54h1.8M106.68 426.82h1.8M106.84 428.17h1.8M107 433.68h1.8M107.16 434.09h1.8M107.31 432.88h1.8M107.47 431.68h1.8M107.63 417.54h1.8M107.79 431.49h1.8M107.94 429.11h1.8M108.1 434.49h1.8M108.26 435.04h1.8M108.42 437.89h1.8M108.57 432.96h1.8M108.73 433.29h1.8M108.89 427.33h1.8M109.05 430.91h1.8M109.2 426.65h1.8M109.36 433.53h1.8M109.52 426.76h1.8M109.68 429.91h1.8M109.84 427.93h1.8M109.99 429.04h1.8M110.15 432.01h1.8M110.31 428.65h1.8M110.47 431.14h1.8M110.62 427.11h1.8M110.78 434.83h1.8M110.94 438.13h1.8M111.1 433.38h1.8M111.25 436.94h1.8M111.41 421.88h1.8M111.57 426.44h1.8M111.73 428.81h1.8M111.88 433.1h1.8M112.04 427.46h1.8M112.2 430.04h1.8M112.36 426.14h1.8M112.51 430.09h1.8M112.67 423.97h1.8M112.83 430.37h1.8M112.99 417.49h1.8M113.14 420.75h1.8M113.3 432.59h1.8M113.46 426.81h1.8M113.62 422.93h1.8M113.77 432.76h1.8M113.93 428.58h1.8M114.09 428.46h1.8M114.25 422.95h1.8M114.4 426.01h1.8M114.56 425.24h1.8M114.72 417.69h1.8M114.88 424.76h1.8M115.03 421.8h1.8M115.19 426.3h1.8M115.35 425.99h1.8M115.51 419.16h1.8M115.66 418.93h1.8M115.82 421.23h1.8M115.98 422.44h1.8M116.14 418.56h1.8M116.3 419.25h1.8M116.45 421.37h1.8M116.61 420.48h1.8M116.77 422.69h1.8M116.93 419.37h1.8M117.08 415.39h1.8M117.24 412.24h1.8M117.4 420.67h1.8M117.56 416.64h1.8M117.71 416.43h1.8M117.87 416.46h1.8M118.03 412.02h1.8M118.19 415.86h1.8M118.34 408.32h1.8M118.5 415.63h1.8M118.66 413.89h1.8M118.82 423.05h1.8M118.97 418.32h1.8M119.13 416.08h1.8M119.29 417.34h1.8M119.45 419.26h1.8M119.6 414.27h1.8M119.76 416.08h1.8M119.92 415.71h1.8M120.08 425.34h1.8M120.23 417.27h1.8M120.39 410.47h1.8M120.55 419.89h1.8M120.71 426.02h1.8M120.86 414.18h1.8M121.02 429.25h1.8M121.18 417.44h1.8M121.34 421.16h1.8M121.49 416.03h1.8M121.65 417.17h1.8M121.81 414.09h1.8M121.97 414.85h1.8M122.12 411.37h1.8M122.28 422.66h1.8M122.44 415.14h1.8M122.6 420.48h1.8M122.76 420.57h1.8M122.91 417.51h1.8M123.07 420.1h1.8M123.23 419.86h1.8M123.39 418.76h1.8M123.54 420.85h1.8M123.7 421.1h1.8M123.86 417.75h1.8M124.02 417.07h1.8M124.17 418.83h1.8M124.33 422.34h1.8M124.49 426.83h1.8M124.65 427.35h1.8M124.8 423.69h1.8M124.96 426.04h1.8M125.12 423.48h1.8M125.28 426.99h1.8M125.43 423.89h1.8M125.59 424.96h1.8M125.75 422.84h1.8M125.91 423.93h1.8M126.06 430.47h1.8M126.22 420.17h1.8M126.38 424.32h1.8M126.54 422.42h1.8M126.69 427.73h1.8M126.85 430.69h1.8M127.01 423.63h1.8M127.17 415.44h1.8M127.32 426.89h1.8M127.48 426.96h1.8M127.64 419.3h1.8M127.8 424.21h1.8M127.95 424.86h1.8M128.11 417.38h1.8M128.27 427.46h1.8M128.43 426.73h1.8M128.58 426.11h1.8M128.74 421.8h1.8M128.9 423.03h1.8M129.06 423.35h1.8M129.22 427.14h1.8M129.37 422.29h1.8M129.53 430.56h1.8M129.69 426.98h1.8M129.85 418.47h1.8M130 431.5h1.8M130.16 426.45h1.8M130.32 424.16h1.8M130.48 426.42h1.8M130.63 420.05h1.8M130.79 426.9h1.8M130.95 418.12h1.8M131.11 423.04h1.8M131.26 431.13h1.8M131.42 430.94h1.8M131.58 425.69h1.8M131.74 423.74h1.8M131.89 430.25h1.8M132.05 427.16h1.8M132.21 428.25h1.8M132.37 429.89h1.8M132.52 424.45h1.8M132.68 431h1.8M132.84 421.58h1.8M133 433.87h1.8M133.15 424.06h1.8M133.31 427.55h1.8M133.47 427.76h1.8M133.63 432.78h1.8M133.78 433.18h1.8M133.94 432.22h1.8M134.1 433.15h1.8M134.26 433.22h1.8M134.41 431.7h1.8M134.57 425.83h1.8M134.73 424.77h1.8M134.89 425h1.8M135.04 432.74h1.8M135.2 432.29h1.8M135.36 432.74h1.8M135.52 434.07h1.8M135.67 432.64h1.8M135.83 430.17h1.8M135.99 428.56h1.8M136.15 427.3h1.8M136.31 437.73h1.8M136.46 436.74h1.8M136.62 429.2h1.8M136.78 432.82h1.8M136.94 435.21h1.8M137.09 439.06h1.8M137.25 431.73h1.8M137.41 434.31h1.8M137.57 437.58h1.8M137.72 432.86h1.8M137.88 431.27h1.8M138.04 433.58h1.8M138.2 431.31h1.8M138.35 440.76h1.8M138.51 436.63h1.8M138.67 434.42h1.8M138.83 430.61h1.8M138.98 436.74h1.8M139.14 436.03h1.8M139.3 432.28h1.8M139.46 432.65h1.8M139.61 429.34h1.8M139.77 434.09h1.8M139.93 437.37h1.8M140.09 438.01h1.8M140.24 436.81h1.8M140.4 437.87h1.8M140.56 433.46h1.8M140.72 434.17h1.8M140.87 440.09h1.8M141.03 437.96h1.8M141.19 434.25h1.8M141.35 438.97h1.8M141.5 440.54h1.8M141.66 440.62h1.8M141.82 439.16h1.8M141.98 437.64h1.8M142.13 441.22h1.8M142.29 446.08h1.8M142.45 441.54h1.8M142.61 439.44h1.8M142.77 443.37h1.8M142.92 438.78h1.8M143.08 444.22h1.8M143.24 444.34h1.8M143.4 447.82h1.8M143.55 445.58h1.8M143.71 449.28h1.8M143.87 453.97h1.8M144.03 446.22h1.8M144.18 444.72h1.8M144.34 449.48h1.8M144.5 448.18h1.8M144.66 449.37h1.8M144.81 447.36h1.8M144.97 456.79h1.8M145.13 450.31h1.8M145.29 443.3h1.8M145.44 456.95h1.8M145.6 452h1.8M145.76 454.94h1.8M145.92 449.35h1.8M146.07 448.72h1.8M146.23 455.22h1.8M146.39 449.51h1.8M146.55 451.89h1.8M146.7 453.09h1.8M146.86 453.94h1.8M147.02 451.53h1.8M147.18 447.81h1.8M147.33 454.69h1.8M147.49 449.88h1.8M147.65 449.52h1.8M147.81 457.65h1.8M147.96 453.86h1.8M148.12 447.41h1.8M148.28 449.17h1.8M148.44 449.8h1.8M148.59 448.01h1.8M148.75 444.07h1.8M148.91 452.77h1.8M149.07 452.53h1.8M149.23 450.64h1.8M149.38 448.39h1.8M149.54 450.23h1.8M149.7 451.46h1.8M149.86 445.86h1.8M150.01 448.02h1.8M150.17 447.15h1.8M150.33 451.09h1.8M150.49 449.56h1.8M150.64 444.4h1.8M150.8 446.5h1.8M150.96 454.13h1.8M151.12 445.19h1.8M151.27 448.76h1.8M151.43 446.19h1.8M151.59 452.23h1.8M151.75 447.98h1.8M151.9 446.78h1.8M152.06 444.43h1.8M152.22 447.47h1.8M152.38 450.99h1.8M152.53 450.54h1.8M152.69 444.16h1.8M152.85 453.5h1.8M153.01 447.74h1.8M153.16 445.19h1.8M153.32 449.04h1.8M153.48 446.68h1.8M153.64 446.87h1.8M153.79 446.75h1.8M153.95 448.54h1.8M154.11 447.27h1.8M154.27 443.44h1.8M154.42 450.66h1.8M154.58 447.36h1.8M154.74 452.92h1.8M154.9 450.85h1.8M155.05 451.17h1.8M155.21 449.83h1.8M155.37 453.45h1.8M155.53 448.31h1.8M155.69 446.24h1.8M155.84 450.59h1.8M156 440.85h1.8M156.16 448.43h1.8M156.32 450.36h1.8M156.47 448.42h1.8M156.63 453.83h1.8M156.79 452.13h1.8M156.95 450.33h1.8M157.1 448.77h1.8M157.26 453.63h1.8M157.42 448.06h1.8M157.58 448.99h1.8M157.73 452.78h1.8M157.89 452.4h1.8M158.05 457.08h1.8M158.21 450.01h1.8M158.36 444.82h1.8M158.52 453.01h1.8M158.68 455.01h1.8M158.84 450.6h1.8M158.99 456.19h1.8M159.15 457.01h1.8M159.31 449.37h1.8M159.47 450.09h1.8M159.62 447.79h1.8M159.78 453.65h1.8M159.94 454.37h1.8M160.1 454.19h1.8M160.25 448.55h1.8M160.41 450.21h1.8M160.57 448.28h1.8M160.73 447.86h1.8M160.88 447.52h1.8M161.04 448.23h1.8M161.2 452.77h1.8M161.36 454.78h1.8M161.51 455.48h1.8M161.67 453.51h1.8M161.83 451.48h1.8M161.99 453.59h1.8M162.15 455.43h1.8M162.3 452.7h1.8M162.46 453.87h1.8M162.62 455.83h1.8M162.78 452.24h1.8M162.93 454.09h1.8M163.09 450.57h1.8M163.25 457.48h1.8M163.41 449.36h1.8M163.56 455.81h1.8M163.72 450.18h1.8M163.88 459.29h1.8M164.04 457.37h1.8M164.19 452.2h1.8M164.35 453.43h1.8M164.51 451.4h1.8M164.67 452.86h1.8M164.82 456.43h1.8M164.98 463.26h1.8M165.14 451.09h1.8M165.3 459.36h1.8M165.45 453.77h1.8M165.61 456.58h1.8M165.77 458.59h1.8M165.93 457.67h1.8M166.08 457.42h1.8M166.24 455.62h1.8M166.4 456.34h1.8M166.56 456.98h1.8M166.71 460.37h1.8M166.87 452.19h1.8M167.03 455.37h1.8M167.19 453.14h1.8M167.34 454.15h1.8M167.5 454.78h1.8M167.66 460.8h1.8M167.82 464.16h1.8M167.97 461.81h1.8M168.13 454h1.8M168.29 458.01h1.8M168.45 454.32h1.8M168.61 459.3h1.8M168.76 461.93h1.8M168.92 459.86h1.8M169.08 460.79h1.8M169.24 457.67h1.8M169.39 452.05h1.8M169.55 452.04h1.8M169.71 457.89h1.8M169.87 459.99h1.8M170.02 462.15h1.8M170.18 457.14h1.8M170.34 458.44h1.8M170.5 459h1.8M170.65 461.48h1.8M170.81 457.97h1.8M170.97 454.79h1.8M171.13 461.51h1.8M171.28 459.43h1.8M171.44 459.33h1.8M171.6 454.23h1.8M171.76 458.13h1.8M171.91 452.87h1.8M172.07 452h1.8M172.23 457.47h1.8M172.39 456.89h1.8M172.54 460h1.8M172.7 462.73h1.8M172.86 461.48h1.8M173.02 463.88h1.8M173.17 456.62h1.8M173.33 459.23h1.8M173.49 454.64h1.8M173.65 458.98h1.8M173.8 457.68h1.8M173.96 458.07h1.8M174.12 460.58h1.8M174.28 453.05h1.8M174.43 459.26h1.8M174.59 456.47h1.8M174.75 459.38h1.8M174.91 460.29h1.8M175.06 458.01h1.8M175.22 458.06h1.8M175.38 455.73h1.8M175.54 461h1.8M175.7 457.31h1.8M175.85 460.78h1.8M176.01 455.11h1.8M176.17 463.7h1.8M176.33 456.44h1.8M176.48 463.14h1.8M176.64 458.28h1.8M176.8 461.35h1.8M176.96 459.28h1.8M177.11 461.83h1.8M177.27 459.82h1.8M177.43 463.71h1.8M177.59 461.94h1.8M177.74 462.01h1.8M177.9 465.07h1.8M178.06 457.93h1.8M178.22 464.07h1.8M178.37 473.17h1.8M178.53 455.77h1.8M178.69 461.8h1.8M178.85 459.82h1.8M179 465.67h1.8M179.16 459.15h1.8M179.32 460.91h1.8M179.48 461.58h1.8M179.63 455.21h1.8M179.79 462.66h1.8M179.95 458.23h1.8M180.11 465.63h1.8M180.26 466.54h1.8M180.42 461.58h1.8M180.58 456.93h1.8M180.74 462.38h1.8M180.89 462.48h1.8M181.05 464.22h1.8M181.21 461.23h1.8M181.37 458.61h1.8M181.52 461.85h1.8M181.68 459.54h1.8M181.84 467.74h1.8M182 460.29h1.8M182.16 460.49h1.8M182.31 460.23h1.8M182.47 458.75h1.8M182.63 461.16h1.8M182.79 462.1h1.8M182.94 461.03h1.8M183.1 461.74h1.8M183.26 466.23h1.8M183.42 463.8h1.8M183.57 458.46h1.8M183.73 461.2h1.8M183.89 464.74h1.8M184.05 460.54h1.8M184.2 462.76h1.8M184.36 462.45h1.8M184.52 464.15h1.8M184.68 462.05h1.8M184.83 462.2h1.8M184.99 460.09h1.8M185.15 463.79h1.8M185.31 459.97h1.8M185.46 467.99h1.8M185.62 462.78h1.8M185.78 462.22h1.8M185.94 465.29h1.8M186.09 462.72h1.8M186.25 463.27h1.8M186.41 462.88h1.8M186.57 460.9h1.8M186.72 460.34h1.8M186.88 461.04h1.8M187.04 466.53h1.8M187.2 461.3h1.8M187.35 461.99h1.8M187.51 461.89h1.8M187.67 465.34h1.8M187.83 469.21h1.8M187.98 460.58h1.8M188.14 465.03h1.8M188.3 463.8h1.8M188.46 462.61h1.8M188.62 465.09h1.8M188.77 459.9h1.8M188.93 466.24h1.8M189.09 464.53h1.8M189.25 461.02h1.8M189.4 468.83h1.8M189.56 466.74h1.8M189.72 467.79h1.8M189.88 460.14h1.8M190.03 463.77h1.8M190.19 465.62h1.8M190.35 466.67h1.8M190.51 468.93h1.8M190.66 459.38h1.8M190.82 465.18h1.8M190.98 464.83h1.8M191.14 468.24h1.8M191.29 465.24h1.8M191.45 461.66h1.8M191.61 464.91h1.8M191.77 462.47h1.8M191.92 463.29h1.8M192.08 465.76h1.8M192.24 464.25h1.8M192.4 466.54h1.8M192.55 461.28h1.8M192.71 472.64h1.8M192.87 469.56h1.8M193.03 468h1.8M193.18 462.13h1.8M193.34 459.63h1.8M193.5 463.5h1.8M193.66 467.61h1.8M193.81 472.74h1.8M193.97 470.09h1.8M194.13 464.77h1.8M194.29 469.95h1.8M194.44 470.09h1.8M194.6 466.64h1.8M194.76 470.27h1.8M194.92 467.78h1.8M195.08 465.01h1.8M195.23 463.61h1.8M195.39 466.84h1.8M195.55 470.27h1.8M195.71 463.53h1.8M195.86 462.94h1.8M196.02 469.43h1.8M196.18 460.03h1.8M196.34 473.49h1.8M196.49 467.04h1.8M196.65 470.64h1.8M196.81 474.09h1.8M196.97 464.57h1.8M197.12 465.89h1.8M197.28 475.65h1.8M197.44 468.39h1.8M197.6 468.95h1.8M197.75 470.08h1.8M197.91 472.57h1.8M198.07 473.42h1.8M198.23 469.91h1.8M198.38 468.64h1.8M198.54 469.51h1.8M198.7 470.49h1.8M198.86 473.4h1.8M199.01 469.94h1.8M199.17 474.8h1.8M199.33 466.94h1.8M199.49 470.92h1.8M199.64 474.41h1.8M199.8 472.97h1.8M199.96 470.12h1.8M200.12 466.51h1.8M200.27 466.94h1.8M200.43 468.48h1.8M200.59 469.78h1.8M200.75 468.09h1.8M200.9 464.53h1.8M201.06 466.57h1.8M201.22 470.17h1.8M201.38 471.05h1.8M201.54 464.54h1.8M201.69 467.51h1.8M201.85 463.7h1.8M202.01 466.89h1.8M202.17 478.75h1.8M202.32 468.67h1.8M202.48 467.47h1.8M202.64 466.76h1.8M202.8 464.95h1.8M202.95 463.06h1.8M203.11 468.3h1.8M203.27 467.61h1.8M203.43 472.66h1.8M203.58 463.67h1.8M203.74 469.64h1.8M203.9 472.24h1.8M204.06 462.73h1.8M204.21 470.26h1.8M204.37 463.73h1.8M204.53 467.97h1.8M204.69 472.63h1.8M204.84 468.38h1.8M205 469.24h1.8M205.16 466.45h1.8M205.32 469.31h1.8M205.47 471.77h1.8M205.63 468.04h1.8M205.79 468.21h1.8M205.95 469.8h1.8M206.1 471.11h1.8M206.26 464.13h1.8M206.42 469.08h1.8M206.58 467.04h1.8M206.73 470.52h1.8M206.89 472.17h1.8M207.05 470.2h1.8M207.21 473.12h1.8M207.36 466.69h1.8M207.52 468.48h1.8M207.68 466.93h1.8M207.84 470.05h1.8M208 470.28h1.8M208.15 469.56h1.8M208.31 466.77h1.8M208.47 470.13h1.8M208.63 469.22h1.8M208.78 476.8h1.8M208.94 469.91h1.8M209.1 474.1h1.8M209.26 471.54h1.8M209.41 465.66h1.8M209.57 470.56h1.8M209.73 467.05h1.8M209.89 473.96h1.8M210.04 475.35h1.8M210.2 471.24h1.8M210.36 472.63h1.8M210.52 467.29h1.8M210.67 465.05h1.8M210.83 469.89h1.8M210.99 470.77h1.8M211.15 467.2h1.8M211.3 471.77h1.8M211.46 472.39h1.8M211.62 473.33h1.8M211.78 475.89h1.8M211.93 473.77h1.8M212.09 470.42h1.8M212.25 471.74h1.8M212.41 473.12h1.8M212.56 468.44h1.8M212.72 475.14h1.8M212.88 473.92h1.8M213.04 470.71h1.8M213.19 469.53h1.8M213.35 482.1h1.8M213.51 473.71h1.8M213.67 473.99h1.8M213.82 476.42h1.8M213.98 474.13h1.8M214.14 471.96h1.8M214.3 473.39h1.8M214.45 468.85h1.8M214.61 473.49h1.8M214.77 467.17h1.8M214.93 472.76h1.8M215.09 473.19h1.8M215.24 467.27h1.8M215.4 477.14h1.8M215.56 468.55h1.8M215.72 474.8h1.8M215.87 470.43h1.8M216.03 472.86h1.8M216.19 470.19h1.8M216.35 479.11h1.8M216.5 475.05h1.8M216.66 477.29h1.8M216.82 474.44h1.8M216.98 474.23h1.8M217.13 472.73h1.8M217.29 471.66h1.8M217.45 474.06h1.8M217.61 472.81h1.8M217.76 471.94h1.8M217.92 468.51h1.8M218.08 471.51h1.8M218.24 474.06h1.8M218.39 471.03h1.8M218.55 473.31h1.8M218.71 471.92h1.8M218.87 469.4h1.8M219.02 469.74h1.8M219.18 470.17h1.8M219.34 471.41h1.8M219.5 470.85h1.8M219.65 475.31h1.8M219.81 469.12h1.8M219.97 466.41h1.8M220.13 474.03h1.8M220.28 470.82h1.8M220.44 471.74h1.8M220.6 479.19h1.8M220.76 476.14h1.8M220.91 473.7h1.8M221.07 474.69h1.8M221.23 472.39h1.8M221.39 474.74h1.8M221.55 470.38h1.8M221.7 467.91h1.8M221.86 470.84h1.8M222.02 476.6h1.8M222.18 476.58h1.8M222.33 470.62h1.8M222.49 475.61h1.8M222.65 472.02h1.8M222.81 475.54h1.8M222.96 471.76h1.8M223.12 475.41h1.8M223.28 472.55h1.8M223.44 472.18h1.8M223.59 473.03h1.8M223.75 473.65h1.8M223.91 471.71h1.8M224.07 469.65h1.8M224.22 478.26h1.8M224.38 472.57h1.8M224.54 468.72h1.8M224.7 467.54h1.8M224.85 466.07h1.8" stroke="#a2a2a2" stroke-width="1.8" fill="none"/>
<polyline fill="none" stroke="#111" stroke-width="1.0" stroke-linejoin="round"  points="37.6,476.1 37.95,476.12 38.3,476.13 38.65,476.14 39,476.14 39.35,476.15 39.7,476.15 40.05,476.15 40.4,476.15 40.75,476.15 41.1,476.14 41.45,476.13 41.8,476.12 42.15,476.11 42.5,476.1 42.85,476.09 43.2,476.07 43.55,476.05 43.9,476.04 44.25,476.02 44.6,476 44.95,475.98 45.3,475.95 45.65,475.93 46,475.91 46.35,475.89 46.7,475.86 47.05,475.83 47.4,475.8 47.75,475.77 48.1,475.73 48.45,475.69 48.8,475.64 49.15,475.59 49.5,475.54 49.85,475.49 50.2,475.43 50.55,475.36 50.9,475.29 51.25,475.22 51.6,475.15 51.95,475.06 52.3,474.98 52.65,474.89 53,474.79 53.35,474.68 53.7,474.56 54.05,474.43 54.4,474.29 54.75,474.15 55.1,474 55.45,473.84 55.8,473.68 56.15,473.51 56.5,473.34 56.85,473.16 57.2,472.99 57.55,472.81 57.9,472.63 58.25,472.45 58.6,472.27 58.95,472.09 59.3,471.92 59.65,471.75 60,471.58 60.35,471.41 60.7,471.25 61.05,471.09 61.4,470.94 61.75,470.79 62.1,470.63 62.45,470.48 62.8,470.33 63.15,470.18 63.5,470.03 63.85,469.88 64.2,469.72 64.55,469.56 64.9,469.4 65.25,469.24 65.6,469.07 65.95,468.9 66.3,468.72 66.65,468.54 67,468.35 67.35,468.16 67.7,467.96 68.05,467.75 68.4,467.54 68.75,467.32 69.1,467.09 69.45,466.85 69.8,466.6 70.15,466.34 70.5,466.07 70.85,465.78 71.2,465.49 71.55,465.18 71.9,464.85 72.25,464.52 72.6,464.17 72.95,463.82 73.3,463.46 73.65,463.09 74,462.71 74.35,462.32 74.7,461.93 75.05,461.54 75.4,461.14 75.75,460.74 76.1,460.33 76.45,459.93 76.8,459.52 77.15,459.11 77.5,458.71 77.85,458.31 78.2,457.9 78.55,457.51 78.9,457.11 79.25,456.71 79.6,456.29 79.95,455.83 80.3,455.35 80.65,454.86 81,454.34 81.35,453.82 81.7,453.28 82.05,452.74 82.4,452.19 82.75,451.65 83.1,451.11 83.45,450.58 83.8,450.05 84.15,449.55 84.5,449.06 84.85,448.59 85.2,448.15 85.55,447.74 85.9,447.35 86.25,447.04 86.6,446.84 86.95,446.75 87.3,446.74 87.65,446.77 88,446.82 88.35,446.85 88.7,446.84 89.05,446.76 89.4,446.58 89.75,446.26 90.1,445.79 90.45,445.19 90.8,444.49 91.15,443.74 91.5,442.97 91.85,442.22 92.2,441.52 92.55,440.92 92.9,440.46 93.25,440.16 93.6,439.99 93.95,439.93 94.3,439.97 94.65,440.06 95,440.2 95.35,440.37 95.7,440.53 96.05,440.68 96.4,440.78 96.75,440.81 97.1,440.76 97.45,440.59 97.8,440.38 98.15,440.17 98.5,439.95 98.85,439.74 99.2,439.52 99.55,439.3 99.9,439.07 100.25,438.84 100.6,438.61 100.95,438.37 101.3,438.13 101.65,437.89 102,437.63 102.35,437.38 102.7,437.11 103.05,436.84 103.4,436.53 103.75,436.15 104.1,435.73 104.45,435.28 104.8,434.79 105.15,434.28 105.5,433.77 105.85,433.26 106.2,432.76 106.55,432.29 106.9,431.85 107.25,431.46 107.6,431.12 107.95,430.86 108.3,430.67 108.65,430.55 109,430.47 109.35,430.43 109.7,430.41 110.05,430.39 110.4,430.37 110.75,430.34 111.1,430.27 111.45,430.15 111.8,429.98 112.15,429.73 112.5,429.39 112.85,428.94 113.2,428.39 113.55,427.75 113.9,427.04 114.25,426.26 114.6,425.44 114.95,424.6 115.3,423.73 115.65,422.87 116,422.01 116.35,421.19 116.7,420.4 117.05,419.67 117.4,419.02 117.75,418.44 118.1,417.96 118.45,417.54 118.8,417.18 119.15,416.9 119.5,416.7 119.85,416.59 120.2,416.56 120.55,416.6 120.9,416.7 121.25,416.86 121.6,417.07 121.95,417.32 122.3,417.62 122.65,417.96 123,418.35 123.35,418.81 123.7,419.31 124.05,419.85 124.4,420.4 124.75,420.97 125.1,421.52 125.45,422.06 125.8,422.57 126.15,423.04 126.5,423.46 126.85,423.8 127.2,424.07 127.55,424.29 127.9,424.48 128.25,424.65 128.6,424.8 128.95,424.93 129.3,425.06 129.65,425.18 130,425.31 130.35,425.44 130.7,425.58 131.05,425.74 131.4,425.92 131.75,426.13 132.1,426.37 132.45,426.65 132.8,426.97 133.15,427.43 133.5,428.03 133.85,428.72 134.2,429.47 134.55,430.25 134.9,431 135.25,431.7 135.6,432.3 135.95,432.78 136.3,433.11 136.65,433.34 137,433.49 137.35,433.58 137.7,433.62 138.05,433.62 138.4,433.61 138.75,433.6 139.1,433.6 139.45,433.63 139.8,433.72 140.15,433.86 140.5,434.09 140.85,434.41 141.2,434.86 141.55,435.48 141.9,436.28 142.25,437.22 142.6,438.31 142.95,439.5 143.3,440.78 143.65,442.1 144,443.45 144.35,444.78 144.7,446.07 145.05,447.28 145.4,448.39 145.75,449.36 146.1,450.17 146.45,450.77 146.8,451.16 147.15,451.39 147.5,451.49 147.85,451.45 148.2,451.33 148.55,451.15 148.9,450.9 149.25,450.61 149.6,450.29 149.95,449.95 150.3,449.61 150.65,449.27 151,448.96 151.35,448.67 151.7,448.43 152.05,448.26 152.4,448.15 152.75,448.13 153.1,448.2 153.45,448.32 153.8,448.44 154.15,448.56 154.5,448.67 154.85,448.78 155.2,448.9 155.55,449.01 155.9,449.13 156.25,449.26 156.6,449.39 156.95,449.53 157.3,449.68 157.65,449.84 158,450.02 158.35,450.21 158.7,450.41 159.05,450.63 159.4,450.87 159.75,451.11 160.1,451.36 160.45,451.67 160.8,452.02 161.15,452.43 161.5,452.83 161.85,453.15 162.2,453.4 162.55,453.55 162.9,453.61 163.25,453.62 163.6,453.84 163.95,454.05 164.3,454.26 164.65,454.47 165,454.68 165.35,454.9 165.7,455.13 166.05,455.37 166.4,455.63 166.75,455.91 167.1,456.2 167.45,456.5 167.8,456.79 168.15,457.08 168.5,457.34 168.85,457.58 169.2,457.78 169.55,457.94 169.9,458.07 170.25,458.15 170.6,458.2 170.95,458.22 171.3,458.21 171.65,458.19 172,458.17 172.35,458.15 172.7,458.16 173.05,458.19 173.4,458.25 173.75,458.33 174.1,458.44 174.45,458.56 174.8,458.69 175.15,458.83 175.5,458.97 175.85,459.1 176.2,459.24 176.55,459.36 176.9,459.47 177.25,459.57 177.6,459.66 177.95,459.75 178.3,459.84 178.65,459.94 179,460.06 179.35,460.22 179.7,460.41 180.05,460.64 180.4,460.89 180.75,461.16 181.1,461.44 181.45,461.71 181.8,461.95 182.15,462.15 182.5,462.31 182.85,462.42 183.2,462.48 183.55,462.51 183.9,462.51 184.25,462.49 184.6,462.49 184.95,462.5 185.3,462.54 185.65,462.61 186,462.69 186.35,462.79 186.7,462.89 187.05,462.98 187.4,463.06 187.75,463.12 188.1,463.18 188.45,463.24 188.8,463.31 189.15,463.43 189.5,463.58 189.85,463.78 190.2,464.02 190.55,464.28 190.9,464.55 191.25,464.81 191.6,465.05 191.95,465.25 192.3,465.41 192.65,465.53 193,465.64 193.35,465.73 193.7,465.82 194.05,465.92 194.4,466.04 194.75,466.18 195.1,466.35 195.45,466.55 195.8,466.79 196.15,467.07 196.5,467.39 196.85,467.75 197.2,468.12 197.55,468.5 197.9,468.85 198.25,469.16 198.6,469.4 198.95,469.55 199.3,469.62 199.65,469.61 200,469.53 200.35,469.39 200.7,469.23 201.05,469.06 201.4,468.91 201.75,468.77 202.1,468.67 202.45,468.59 202.8,468.53 203.15,468.49 203.5,468.46 203.85,468.43 204.2,468.41 204.55,468.38 204.9,468.37 205.25,468.36 205.6,468.38 205.95,468.42 206.3,468.49 206.65,468.6 207,468.74 207.35,468.92 207.7,469.14 208.05,469.37 208.4,469.63 208.75,469.89 209.1,470.16 209.45,470.41 209.8,470.65 210.15,470.87 210.5,471.06 210.85,471.23 211.2,471.35 211.55,471.44 211.9,471.49 212.25,471.51 212.6,471.49 212.95,471.46 213.3,471.42 213.65,471.37 214,471.34 214.35,471.32 214.7,471.33 215.05,471.36 215.4,471.43 215.75,471.52 216.1,471.64 216.45,471.77 216.8,471.91 217.15,472.04 217.5,472.15 217.85,472.24 218.2,472.3 218.55,472.32 218.9,472.32 219.25,472.3 219.6,472.26 219.95,472.21 220.3,472.16 220.65,472.1 221,472.05 221.35,472.01 221.7,471.98 222.05,471.98 222.4,472.01 222.75,472.07 223.1,472.17 223.45,472.33 223.8,472.52 224.15,472.75 224.5,473.01 224.85,473.27 225.2,473.52 225.55,473.75"/>
<polyline fill="none" stroke="#cc2828" stroke-width="0.85" stroke-linejoin="round"  points="37.6,476.1 37.95,476.09 38.3,476.08 38.65,476.06 39,476.04 39.35,476.02 39.7,476 40.05,475.97 40.4,475.95 40.75,475.92 41.1,475.89 41.45,475.86 41.8,475.83 42.15,475.79 42.5,475.76 42.85,475.72 43.2,475.68 43.55,475.64 43.9,475.6 44.25,475.56 44.6,475.52 44.95,475.48 45.3,475.44 45.65,475.39 46,475.35 46.35,475.3 46.7,475.25 47.05,475.2 47.4,475.14 47.75,475.08 48.1,475.02 48.45,474.95 48.8,474.88 49.15,474.81 49.5,474.74 49.85,474.67 50.2,474.59 50.55,474.51 50.9,474.43 51.25,474.34 51.6,474.26 51.95,474.17 52.3,474.08 52.65,473.99 53,473.89 53.35,473.79 53.7,473.68 54.05,473.57 54.4,473.45 54.75,473.33 55.1,473.2 55.45,473.07 55.8,472.94 56.15,472.8 56.5,472.65 56.85,472.51 57.2,472.36 57.55,472.21 57.9,472.05 58.25,471.89 58.6,471.73 58.95,471.57 59.3,471.41 59.65,471.24 60,471.08 60.35,470.91 60.7,470.74 61.05,470.57 61.4,470.4 61.75,470.23 62.1,470.05 62.45,469.88 62.8,469.7 63.15,469.52 63.5,469.33 63.85,469.14 64.2,468.95 64.55,468.76 64.9,468.56 65.25,468.36 65.6,468.16 65.95,467.95 66.3,467.74 66.65,467.53 67,467.31 67.35,467.08 67.7,466.86 68.05,466.62 68.4,466.39 68.75,466.15 69.1,465.9 69.45,465.65 69.8,465.4 70.15,465.14 70.5,464.87 70.85,464.59 71.2,464.3 71.55,463.99 71.9,463.68 72.25,463.36 72.6,463.02 72.95,462.68 73.3,462.33 73.65,461.98 74,461.62 74.35,461.25 74.7,460.89 75.05,460.51 75.4,460.14 75.75,459.76 76.1,459.38 76.45,459 76.8,458.62 77.15,458.25 77.5,457.87 77.85,457.5 78.2,457.13 78.55,456.76 78.9,456.4 79.25,456.05 79.6,455.69 79.95,455.32 80.3,454.96 80.65,454.59 81,454.22 81.35,453.85 81.7,453.48 82.05,453.1 82.4,452.73 82.75,452.36 83.1,451.98 83.45,451.61 83.8,451.24 84.15,450.87 84.5,450.5 84.85,450.13 85.2,449.77 85.55,449.41 85.9,449.05 86.25,448.7 86.6,448.35 86.95,448 87.3,447.66 87.65,447.33 88,447 88.35,446.67 88.7,446.35 89.05,446.02 89.4,445.7 89.75,445.38 90.1,445.06 90.45,444.75 90.8,444.43 91.15,444.12 91.5,443.82 91.85,443.51 92.2,443.21 92.55,442.92 92.9,442.63 93.25,442.34 93.6,442.06 93.95,441.79 94.3,441.52 94.65,441.26 95,441 95.35,440.75 95.7,440.51 96.05,440.27 96.4,440.05 96.75,439.82 97.1,439.61 97.45,439.39 97.8,439.18 98.15,438.98 98.5,438.78 98.85,438.58 99.2,438.38 99.55,438.18 99.9,437.99 100.25,437.79 100.6,437.59 100.95,437.4 101.3,437.2 101.65,436.99 102,436.79 102.35,436.58 102.7,436.37 103.05,436.15 103.4,435.93 103.75,435.7 104.1,435.46 104.45,435.22 104.8,434.97 105.15,434.72 105.5,434.45 105.85,434.18 106.2,433.9 106.55,433.61 106.9,433.32 107.25,433.02 107.6,432.72 107.95,432.41 108.3,432.1 108.65,431.79 109,431.47 109.35,431.15 109.7,430.83 110.05,430.5 110.4,430.18 110.75,429.85 111.1,429.52 111.45,429.19 111.8,428.87 112.15,428.54 112.5,428.21 112.85,427.85 113.2,427.47 113.55,427.07 113.9,426.66 114.25,426.25 114.6,425.83 114.95,425.42 115.3,425.01 115.65,424.63 116,424.26 116.35,423.93 116.7,423.62 117.05,423.35 117.4,423.13 117.75,422.96 118.1,422.83 118.45,422.71 118.8,422.6 119.15,422.49 119.5,422.38 119.85,422.29 120.2,422.2 120.55,422.12 120.9,422.05 121.25,422 121.6,421.95 121.95,421.92 122.3,421.9 122.65,421.91 123,421.96 123.35,422.06 123.7,422.21 124.05,422.4 124.4,422.61 124.75,422.86 125.1,423.12 125.45,423.4 125.8,423.68 126.15,423.97 126.5,424.25 126.85,424.52 127.2,424.77 127.55,425.02 127.9,425.28 128.25,425.55 128.6,425.82 128.95,426.09 129.3,426.38 129.65,426.66 130,426.96 130.35,427.26 130.7,427.56 131.05,427.87 131.4,428.18 131.75,428.49 132.1,428.81 132.45,429.14 132.8,429.47 133.15,429.8 133.5,430.13 133.85,430.47 134.2,430.81 134.55,431.15 134.9,431.5 135.25,431.85 135.6,432.21 135.95,432.58 136.3,432.95 136.65,433.33 137,433.71 137.35,434.1 137.7,434.49 138.05,434.89 138.4,435.29 138.75,435.7 139.1,436.11 139.45,436.52 139.8,436.93 140.15,437.35 140.5,437.77 140.85,438.2 141.2,438.62 141.55,439.05 141.9,439.48 142.25,439.91 142.6,440.38 142.95,440.87 143.3,441.38 143.65,441.9 144,442.43 144.35,442.97 144.7,443.49 145.05,444.01 145.4,444.52 145.75,445 146.1,445.46 146.45,445.89 146.8,446.28 147.15,446.63 147.5,446.92 147.85,447.18 148.2,447.42 148.55,447.65 148.9,447.87 149.25,448.07 149.6,448.27 149.95,448.45 150.3,448.63 150.65,448.8 151,448.96 151.35,449.11 151.7,449.26 152.05,449.4 152.4,449.54 152.75,449.67 153.1,449.8 153.45,449.92 153.8,450.03 154.15,450.14 154.5,450.24 154.85,450.33 155.2,450.42 155.55,450.5 155.9,450.59 156.25,450.68 156.6,450.77 156.95,450.87 157.3,450.97 157.65,451.08 158,451.2 158.35,451.33 158.7,451.48 159.05,451.63 159.4,451.79 159.75,451.96 160.1,452.14 160.45,452.32 160.8,452.5 161.15,452.69 161.5,452.87 161.85,453.05 162.2,453.23 162.55,453.4 162.9,453.57 163.25,453.72 163.6,453.87 163.95,454.02 164.3,454.17 164.65,454.31 165,454.46 165.35,454.6 165.7,454.74 166.05,454.87 166.4,455.01 166.75,455.15 167.1,455.28 167.45,455.42 167.8,455.55 168.15,455.68 168.5,455.82 168.85,455.95 169.2,456.08 169.55,456.22 169.9,456.35 170.25,456.49 170.6,456.62 170.95,456.76 171.3,456.9 171.65,457.04 172,457.18 172.35,457.32 172.7,457.46 173.05,457.6 173.4,457.74 173.75,457.88 174.1,458.02 174.45,458.16 174.8,458.3 175.15,458.45 175.5,458.59 175.85,458.73 176.2,458.87 176.55,459.01 176.9,459.15 177.25,459.29 177.6,459.43 177.95,459.58 178.3,459.72 178.65,459.86 179,460 179.35,460.14 179.7,460.28 180.05,460.42 180.4,460.57 180.75,460.71 181.1,460.86 181.45,461.01 181.8,461.15 182.15,461.3 182.5,461.45 182.85,461.6 183.2,461.75 183.55,461.89 183.9,462.04 184.25,462.18 184.6,462.33 184.95,462.47 185.3,462.61 185.65,462.75 186,462.88 186.35,463.01 186.7,463.14 187.05,463.27 187.4,463.4 187.75,463.52 188.1,463.63 188.45,463.75 188.8,463.86 189.15,463.97 189.5,464.07 189.85,464.18 190.2,464.28 190.55,464.38 190.9,464.48 191.25,464.58 191.6,464.67 191.95,464.77 192.3,464.87 192.65,464.96 193,465.06 193.35,465.16 193.7,465.26 194.05,465.36 194.4,465.46 194.75,465.57 195.1,465.68 195.45,465.79 195.8,465.9 196.15,466.02 196.5,466.14 196.85,466.26 197.2,466.39 197.55,466.52 197.9,466.66 198.25,466.79 198.6,466.93 198.95,467.07 199.3,467.2 199.65,467.34 200,467.48 200.35,467.62 200.7,467.76 201.05,467.89 201.4,468.02 201.75,468.15 202.1,468.28 202.45,468.41 202.8,468.53 203.15,468.64 203.5,468.75 203.85,468.86 204.2,468.96 204.55,469.05 204.9,469.15 205.25,469.24 205.6,469.33 205.95,469.41 206.3,469.5 206.65,469.58 207,469.66 207.35,469.74 207.7,469.82 208.05,469.9 208.4,469.97 208.75,470.05 209.1,470.13 209.45,470.2 209.8,470.28 210.15,470.36 210.5,470.43 210.85,470.51 211.2,470.59 211.55,470.67 211.9,470.75 212.25,470.84 212.6,470.92 212.95,471.01 213.3,471.09 213.65,471.18 214,471.27 214.35,471.36 214.7,471.45 215.05,471.54 215.4,471.63 215.75,471.72 216.1,471.81 216.45,471.89 216.8,471.98 217.15,472.07 217.5,472.16 217.85,472.24 218.2,472.33 218.55,472.41 218.9,472.49 219.25,472.57 219.6,472.65 219.95,472.73 220.3,472.8 220.65,472.87 221,472.94 221.35,473.01 221.7,473.08 222.05,473.15 222.4,473.22 222.75,473.28 223.1,473.35 223.45,473.41 223.8,473.48 224.15,473.54 224.5,473.6 224.85,473.66 225.2,473.72 225.55,473.78"/>
<polyline fill="none" stroke="#2f2a85" stroke-width="1.1" stroke-linejoin="round"  points="37.6,478.3 37.95,478.33 38.3,478.35 38.65,478.38 39,478.4 39.35,478.43 39.7,478.45 40.05,478.48 40.4,478.5 40.75,478.53 41.1,478.55 41.45,478.57 41.8,478.6 42.15,478.62 42.5,478.64 42.85,478.67 43.2,478.69 43.55,478.71 43.9,478.73 44.25,478.75 44.6,478.78 44.95,478.8 45.3,478.82 45.65,478.84 46,478.86 46.35,478.89 46.7,478.91 47.05,478.94 47.4,478.96 47.75,478.99 48.1,479.01 48.45,479.03 48.8,479.06 49.15,479.08 49.5,479.1 49.85,479.12 50.2,479.14 50.55,479.15 50.9,479.17 51.25,479.18 51.6,479.19 51.95,479.19 52.3,479.2 52.65,479.2 53,479.2 53.35,479.19 53.7,479.18 54.05,479.16 54.4,479.14 54.75,479.12 55.1,479.09 55.45,479.07 55.8,479.04 56.15,479.01 56.5,478.98 56.85,478.96 57.2,478.93 57.55,478.9 57.9,478.88 58.25,478.86 58.6,478.84 58.95,478.82 59.3,478.81 59.65,478.8 60,478.8 60.35,478.8 60.7,478.81 61.05,478.82 61.4,478.84 61.75,478.86 62.1,478.88 62.45,478.91 62.8,478.93 63.15,478.96 63.5,479 63.85,479.03 64.2,479.07 64.55,479.1 64.9,479.14 65.25,479.18 65.6,479.21 65.95,479.25 66.3,479.28 66.65,479.32 67,479.35 67.35,479.38 67.7,479.41 68.05,479.43 68.4,479.45 68.75,479.47 69.1,479.48 69.45,479.49 69.8,479.5 70.15,479.5 70.5,479.5 70.85,479.49 71.2,479.49 71.55,479.48 71.9,479.47 72.25,479.46 72.6,479.45 72.95,479.44 73.3,479.42 73.65,479.41 74,479.39 74.35,479.37 74.7,479.35 75.05,479.33 75.4,479.3 75.75,479.28 76.1,479.25 76.45,479.23 76.8,479.2 77.15,479.17 77.5,479.14 77.85,479.11 78.2,479.08 78.55,479.04 78.9,479.01 79.25,478.97 79.6,478.9 79.95,478.81 80.3,478.7 80.65,478.57 81,478.42 81.35,478.27 81.7,478.1 82.05,477.93 82.4,477.76 82.75,477.59 83.1,477.43 83.45,477.27 83.8,477.12 84.15,476.98 84.5,476.86 84.85,476.76 85.2,476.68 85.55,476.63 85.9,476.6 86.25,476.64 86.6,476.79 86.95,477.05 87.3,477.37 87.65,477.74 88,478.12 88.35,478.48 88.7,478.79 89.05,479.04 89.4,479.18 89.75,479.18 90.1,479.03 90.45,478.74 90.8,478.36 91.15,477.91 91.5,477.45 91.85,477 92.2,476.61 92.55,476.31 92.9,476.13 93.25,476.11 93.6,476.23 93.95,476.45 94.3,476.75 94.65,477.11 95,477.5 95.35,477.92 95.7,478.33 96.05,478.71 96.4,479.03 96.75,479.29 97.1,479.45 97.45,479.5 97.8,479.5 98.15,479.49 98.5,479.48 98.85,479.46 99.2,479.44 99.55,479.41 99.9,479.39 100.25,479.35 100.6,479.32 100.95,479.28 101.3,479.24 101.65,479.19 102,479.15 102.35,479.1 102.7,479.05 103.05,478.99 103.4,478.9 103.75,478.76 104.1,478.57 104.45,478.35 104.8,478.12 105.15,477.87 105.5,477.62 105.85,477.38 106.2,477.16 106.55,476.98 106.9,476.83 107.25,476.73 107.6,476.7 107.95,476.74 108.3,476.87 108.65,477.06 109,477.3 109.35,477.58 109.7,477.88 110.05,478.19 110.4,478.5 110.75,478.79 111.1,479.05 111.45,479.26 111.8,479.41 112.15,479.49 112.5,479.49 112.85,479.39 113.2,479.22 113.55,478.98 113.9,478.67 114.25,478.32 114.6,477.91 114.95,477.48 115.3,477.02 115.65,476.54 116,476.05 116.35,475.56 116.7,475.08 117.05,474.62 117.4,474.19 117.75,473.78 118.1,473.43 118.45,473.12 118.8,472.88 119.15,472.71 119.5,472.61 119.85,472.61 120.2,472.67 120.55,472.78 120.9,472.95 121.25,473.17 121.6,473.42 121.95,473.71 122.3,474.02 122.65,474.35 123,474.7 123.35,475.05 123.7,475.4 124.05,475.75 124.4,476.09 124.75,476.41 125.1,476.7 125.45,476.97 125.8,477.19 126.15,477.37 126.5,477.51 126.85,477.58 127.2,477.6 127.55,477.57 127.9,477.5 128.25,477.4 128.6,477.28 128.95,477.14 129.3,476.98 129.65,476.82 130,476.65 130.35,476.48 130.7,476.32 131.05,476.18 131.4,476.05 131.75,475.94 132.1,475.86 132.45,475.81 132.8,475.81 133.15,475.94 133.5,476.2 133.85,476.56 134.2,476.97 134.55,477.39 134.9,477.8 135.25,478.15 135.6,478.39 135.95,478.5 136.3,478.46 136.65,478.31 137,478.08 137.35,477.78 137.7,477.43 138.05,477.03 138.4,476.62 138.75,476.2 139.1,475.79 139.45,475.41 139.8,475.08 140.15,474.81 140.5,474.61 140.85,474.51 141.2,474.53 141.55,474.74 141.9,475.1 142.25,475.61 142.6,476.22 142.95,476.93 143.3,477.7 143.65,478.5 144,479.32 144.35,480.12 144.7,480.88 145.05,481.57 145.4,482.17 145.75,482.66 146.1,483 146.45,483.18 146.8,483.18 147.15,483.07 147.5,482.86 147.85,482.57 148.2,482.21 148.55,481.8 148.9,481.33 149.25,480.84 149.6,480.32 149.95,479.8 150.3,479.28 150.65,478.77 151,478.3 151.35,477.86 151.7,477.47 152.05,477.15 152.4,476.91 152.75,476.75 153.1,476.7 153.45,476.7 153.8,476.71 154.15,476.72 154.5,476.74 154.85,476.76 155.2,476.78 155.55,476.81 155.9,476.84 156.25,476.88 156.6,476.92 156.95,476.96 157.3,477.01 157.65,477.06 158,477.12 158.35,477.18 158.7,477.24 159.05,477.3 159.4,477.37 159.75,477.45 160.1,477.52 160.45,477.65 160.8,477.82 161.15,478.04 161.5,478.26 161.85,478.4 162.2,478.47 162.55,478.45 162.9,478.35 163.25,478.2 163.6,478.26 163.95,478.33 164.3,478.39 164.65,478.46 165,478.53 165.35,478.6 165.7,478.69 166.05,478.79 166.4,478.92 166.75,479.06 167.1,479.22 167.45,479.38 167.8,479.54 168.15,479.69 168.5,479.83 168.85,479.93 169.2,479.99 169.55,480.02 169.9,480.01 170.25,479.96 170.6,479.88 170.95,479.76 171.3,479.61 171.65,479.45 172,479.29 172.35,479.14 172.7,479 173.05,478.89 173.4,478.81 173.75,478.75 174.1,478.71 174.45,478.7 174.8,478.69 175.15,478.68 175.5,478.68 175.85,478.68 176.2,478.67 176.55,478.65 176.9,478.62 177.25,478.58 177.6,478.53 177.95,478.47 178.3,478.42 178.65,478.38 179,478.37 179.35,478.38 179.7,478.43 180.05,478.51 180.4,478.62 180.75,478.75 181.1,478.88 181.45,479 181.8,479.09 182.15,479.15 182.5,479.16 182.85,479.12 183.2,479.04 183.55,478.92 183.9,478.77 184.25,478.61 184.6,478.46 184.95,478.33 185.3,478.23 185.65,478.16 186,478.11 186.35,478.08 186.7,478.05 187.05,478.01 187.4,477.96 187.75,477.9 188.1,477.84 188.45,477.79 188.8,477.75 189.15,477.76 189.5,477.81 189.85,477.9 190.2,478.04 190.55,478.2 190.9,478.38 191.25,478.54 191.6,478.68 191.95,478.78 192.3,478.84 192.65,478.87 193,478.87 193.35,478.87 193.7,478.86 194.05,478.86 194.4,478.88 194.75,478.92 195.1,478.98 195.45,479.07 195.8,479.19 196.15,479.36 196.5,479.55 196.85,479.78 197.2,480.03 197.55,480.27 197.9,480.49 198.25,480.66 198.6,480.77 198.95,480.79 199.3,480.72 199.65,480.57 200,480.34 200.35,480.07 200.7,479.77 201.05,479.47 201.4,479.18 201.75,478.92 202.1,478.69 202.45,478.49 202.8,478.31 203.15,478.15 203.5,478.01 203.85,477.88 204.2,477.75 204.55,477.63 204.9,477.52 205.25,477.43 205.6,477.35 205.95,477.31 206.3,477.29 206.65,477.32 207,477.38 207.35,477.48 207.7,477.62 208.05,477.78 208.4,477.96 208.75,478.14 209.1,478.33 209.45,478.51 209.8,478.67 210.15,478.82 210.5,478.93 210.85,479.01 211.2,479.06 211.55,479.07 211.9,479.04 212.25,478.97 212.6,478.87 212.95,478.75 213.3,478.62 213.65,478.49 214,478.37 214.35,478.26 214.7,478.18 215.05,478.12 215.4,478.1 215.75,478.11 216.1,478.14 216.45,478.18 216.8,478.23 217.15,478.27 217.5,478.3 217.85,478.3 218.2,478.27 218.55,478.21 218.9,478.13 219.25,478.03 219.6,477.91 219.95,477.79 220.3,477.66 220.65,477.53 221,477.41 221.35,477.29 221.7,477.2 222.05,477.13 222.4,477.09 222.75,477.08 223.1,477.12 223.45,477.21 223.8,477.34 224.15,477.51 224.5,477.71 224.85,477.91 225.2,478.1 225.55,478.27"/>
</g>
<g>
<line x1="295" y1="95.5" x2="484.21" y2="95.5" stroke="#222" stroke-width="0.9" />
<line x1="295" y1="95.5" x2="295" y2="98.7" stroke="#222" stroke-width="0.9" />
<text transform="translate(295,107.3) scale(0.09149,0.0798)" font-size="100" text-anchor="middle" font-weight="normal" fill="#000">0</text>
<line x1="326.54" y1="95.5" x2="326.54" y2="98.7" stroke="#222" stroke-width="0.9" />
<text transform="translate(326.54,107.3) scale(0.09149,0.0798)" font-size="100" text-anchor="middle" font-weight="normal" fill="#000">5</text>
<line x1="358.07" y1="95.5" x2="358.07" y2="98.7" stroke="#222" stroke-width="0.9" />
<text transform="translate(358.07,107.3) scale(0.09149,0.0798)" font-size="100" text-anchor="middle" font-weight="normal" fill="#000">10</text>
<line x1="389.61" y1="95.5" x2="389.61" y2="98.7" stroke="#222" stroke-width="0.9" />
<text transform="translate(389.61,107.3) scale(0.09149,0.0798)" font-size="100" text-anchor="middle" font-weight="normal" fill="#000">15</text>
<line x1="421.14" y1="95.5" x2="421.14" y2="98.7" stroke="#222" stroke-width="0.9" />
<text transform="translate(421.14,107.3) scale(0.09149,0.0798)" font-size="100" text-anchor="middle" font-weight="normal" fill="#000">20</text>
<line x1="452.68" y1="95.5" x2="452.68" y2="98.7" stroke="#222" stroke-width="0.9" />
<text transform="translate(452.68,107.3) scale(0.09149,0.0798)" font-size="100" text-anchor="middle" font-weight="normal" fill="#000">25</text>
<line x1="484.21" y1="95.5" x2="484.21" y2="98.7" stroke="#222" stroke-width="0.9" />
<text transform="translate(484.21,107.3) scale(0.09149,0.0798)" font-size="100" text-anchor="middle" font-weight="normal" fill="#000">30</text>
<text transform="translate(388.8,119) scale(0.09149,0.0742)" font-size="100" text-anchor="middle" font-weight="normal" fill="#000">Lag (ms)</text>
<line x1="287.3" y1="19.5" x2="287.3" y2="92.6" stroke="#222" stroke-width="0.9" />
<line x1="282.9" y1="19.5" x2="287.3" y2="19.5" stroke="#222" stroke-width="0.9" />
<line x1="282.9" y1="37.77" x2="287.3" y2="37.77" stroke="#222" stroke-width="0.9" />
<line x1="282.9" y1="56.05" x2="287.3" y2="56.05" stroke="#222" stroke-width="0.9" />
<line x1="282.9" y1="74.32" x2="287.3" y2="74.32" stroke="#222" stroke-width="0.9" />
<line x1="282.9" y1="92.6" x2="287.3" y2="92.6" stroke="#222" stroke-width="0.9" />
<text transform="translate(277.2,19.5) rotate(-90) scale(0.07,0.09499)" font-size="100" text-anchor="middle" fill="#000">1.0</text>
<text transform="translate(277.2,37.77) rotate(-90) scale(0.07,0.09499)" font-size="100" text-anchor="middle" fill="#000">0.5</text>
<text transform="translate(277.2,56.05) rotate(-90) scale(0.07,0.09499)" font-size="100" text-anchor="middle" fill="#000">0.0</text>
<text transform="translate(277.2,92.6) rotate(-90) scale(0.07,0.09499)" font-size="100" text-anchor="middle" fill="#000">-1.0</text>
<text transform="translate(263.9,56.05) rotate(-90) scale(0.07,0.09002)" font-size="100" text-anchor="middle" fill="#000">ACF</text>
<line x1="287.3" y1="56.05" x2="490" y2="56.05" stroke="#4a4a4a" stroke-width="0.9" stroke-dasharray="2.4,2.6"/>
<line x1="299.48" y1="12.7" x2="299.48" y2="95.5" stroke="#4a4a4a" stroke-width="0.9" stroke-dasharray="2.3,2.4"/>
<text transform="translate(299.48,8.6) scale(0.07319,0.0644)" font-size="100" text-anchor="middle" font-weight="normal" fill="#000">0.71 ms</text>
<polyline fill="none" stroke="#9a9a9a" stroke-width="1.0" stroke-linejoin="round"  points="295,19.5 295.32,19.54 295.63,19.57 295.95,19.61 296.26,19.64 296.58,19.68 296.89,19.71 297.21,19.75 297.52,19.78 297.84,19.82 298.15,19.86 298.47,19.89 298.78,19.93 299.1,19.97 299.41,20 299.73,20.04 300.05,20.08 300.36,20.11 300.68,20.15 300.99,20.19 301.31,20.23 301.62,20.27 301.94,20.3 302.25,20.34 302.57,20.38 302.88,20.42 303.2,20.46 303.51,20.5 303.83,20.53 304.15,20.57 304.46,20.61 304.78,20.65 305.09,20.69 305.41,20.73 305.72,20.77 306.04,20.81 306.35,20.85 306.67,20.89 306.98,20.93 307.3,20.97 307.61,21.01 307.93,21.05 308.24,21.09 308.56,21.13 308.88,21.17 309.19,21.22 309.51,21.26 309.82,21.3 310.14,21.34 310.45,21.38 310.77,21.42 311.08,21.47 311.4,21.51 311.71,21.55 312.03,21.59 312.34,21.64 312.66,21.68 312.97,21.72 313.29,21.76 313.61,21.81 313.92,21.85 314.24,21.89 314.55,21.94 314.87,21.98 315.18,22.03 315.5,22.07 315.81,22.11 316.13,22.16 316.44,22.2 316.76,22.25 317.07,22.29 317.39,22.34 317.71,22.38 318.02,22.43 318.34,22.47 318.65,22.52 318.97,22.56 319.28,22.61 319.6,22.65 319.91,22.7 320.23,22.74 320.54,22.79 320.86,22.84 321.17,22.88 321.49,22.93 321.8,22.98 322.12,23.02 322.44,23.07 322.75,23.12 323.07,23.16 323.38,23.21 323.7,23.26 324.01,23.31 324.33,23.35 324.64,23.4 324.96,23.45 325.27,23.5 325.59,23.55 325.9,23.59 326.22,23.64 326.54,23.69 326.85,23.74 327.17,23.79 327.48,23.84 327.8,23.89 328.11,23.94 328.43,23.98 328.74,24.03 329.06,24.08 329.37,24.13 329.69,24.18 330,24.23 330.32,24.28 330.63,24.33 330.95,24.38 331.27,24.43 331.58,24.48 331.9,24.53 332.21,24.59 332.53,24.64 332.84,24.69 333.16,24.74 333.47,24.79 333.79,24.84 334.1,24.89 334.42,24.94 334.73,25 335.05,25.05 335.36,25.1 335.68,25.15 336,25.2 336.31,25.26 336.63,25.31 336.94,25.36 337.26,25.41 337.57,25.47 337.89,25.52 338.2,25.57 338.52,25.63 338.83,25.68 339.15,25.73 339.46,25.79 339.78,25.84 340.1,25.89 340.41,25.95 340.73,26 341.04,26.05 341.36,26.11 341.67,26.16 341.99,26.22 342.3,26.27 342.62,26.33 342.93,26.38 343.25,26.44 343.56,26.49 343.88,26.54 344.19,26.6 344.51,26.66 344.83,26.71 345.14,26.77 345.46,26.82 345.77,26.88 346.09,26.93 346.4,26.99 346.72,27.04 347.03,27.1 347.35,27.16 347.66,27.21 347.98,27.27 348.29,27.33 348.61,27.38 348.92,27.44 349.24,27.49 349.56,27.55 349.87,27.61 350.19,27.67 350.5,27.72 350.82,27.78 351.13,27.84 351.45,27.89 351.76,27.95 352.08,28.01 352.39,28.07 352.71,28.12 353.02,28.18 353.34,28.24 353.66,28.3 353.97,28.36 354.29,28.41 354.6,28.47 354.92,28.53 355.23,28.59 355.55,28.65 355.86,28.71 356.18,28.77 356.49,28.82 356.81,28.88 357.12,28.94 357.44,29 357.75,29.06 358.07,29.12 358.39,29.18 358.7,29.24 359.02,29.3 359.33,29.36 359.65,29.42 359.96,29.48 360.28,29.54 360.59,29.6 360.91,29.66 361.22,29.72 361.54,29.78 361.85,29.84 362.17,29.9 362.48,29.96 362.8,30.02 363.12,30.08 363.43,30.14 363.75,30.2 364.06,30.26 364.38,30.32 364.69,30.38 365.01,30.44 365.32,30.5 365.64,30.56 365.95,30.62 366.27,30.69 366.58,30.75 366.9,30.81 367.22,30.87 367.53,30.93 367.85,30.99 368.16,31.05 368.48,31.11 368.79,31.18 369.11,31.24 369.42,31.3 369.74,31.36 370.05,31.42 370.37,31.49 370.68,31.55 371,31.61 371.31,31.67 371.63,31.73 371.95,31.8 372.26,31.86 372.58,31.92 372.89,31.98 373.21,32.05 373.52,32.11 373.84,32.17 374.15,32.23 374.47,32.3 374.78,32.36 375.1,32.42 375.41,32.48 375.73,32.55 376.04,32.61 376.36,32.67 376.68,32.73 376.99,32.8 377.31,32.86 377.62,32.92 377.94,32.99 378.25,33.05 378.57,33.11 378.88,33.18 379.2,33.24 379.51,33.3 379.83,33.37 380.14,33.43 380.46,33.49 380.78,33.56 381.09,33.62 381.41,33.68 381.72,33.75 382.04,33.81 382.35,33.87 382.67,33.94 382.98,34 383.3,34.06 383.61,34.13 383.93,34.19 384.24,34.26 384.56,34.32 384.87,34.38 385.19,34.45 385.51,34.51 385.82,34.57 386.14,34.64 386.45,34.7 386.77,34.77 387.08,34.83 387.4,34.89 387.71,34.96 388.03,35.02 388.34,35.09 388.66,35.15 388.97,35.21 389.29,35.28 389.61,35.34 389.92,35.41 390.24,35.47 390.55,35.53 390.87,35.6 391.18,35.66 391.5,35.73 391.81,35.79 392.13,35.85 392.44,35.92 392.76,35.98 393.07,36.05 393.39,36.11 393.7,36.17 394.02,36.24 394.34,36.3 394.65,36.37 394.97,36.43 395.28,36.49 395.6,36.56 395.91,36.62 396.23,36.69 396.54,36.75 396.86,36.81 397.17,36.88 397.49,36.94 397.8,37 398.12,37.07 398.43,37.13 398.75,37.2 399.07,37.26 399.38,37.32 399.7,37.39 400.01,37.45 400.33,37.52 400.64,37.58 400.96,37.64 401.27,37.71 401.59,37.77 401.9,37.83 402.22,37.9 402.53,37.96 402.85,38.02 403.17,38.09 403.48,38.15 403.8,38.21 404.11,38.28 404.43,38.34 404.74,38.41 405.06,38.47 405.37,38.53 405.69,38.59 406,38.66 406.32,38.72 406.63,38.78 406.95,38.85 407.26,38.91 407.58,38.97 407.9,39.04 408.21,39.1 408.53,39.16 408.84,39.22 409.16,39.29 409.47,39.35 409.79,39.41 410.1,39.48 410.42,39.54 410.73,39.6 411.05,39.66 411.36,39.72 411.68,39.79 411.99,39.85 412.31,39.91 412.63,39.97 412.94,40.04 413.26,40.1 413.57,40.16 413.89,40.22 414.2,40.28 414.52,40.34 414.83,40.41 415.15,40.47 415.46,40.53 415.78,40.59 416.09,40.65 416.41,40.71 416.73,40.77 417.04,40.84 417.36,40.9 417.67,40.96 417.99,41.02 418.3,41.08 418.62,41.14 418.93,41.2 419.25,41.26 419.56,41.32 419.88,41.38 420.19,41.44 420.51,41.5 420.82,41.56 421.14,41.62 421.46,41.68 421.77,41.74 422.09,41.8 422.4,41.86 422.72,41.92 423.03,41.98 423.35,42.04 423.66,42.1 423.98,42.16 424.29,42.22 424.61,42.28 424.92,42.33 425.24,42.39 425.55,42.45 425.87,42.51 426.19,42.57 426.5,42.63 426.82,42.69 427.13,42.74 427.45,42.8 427.76,42.86 428.08,42.92 428.39,42.97 428.71,43.03 429.02,43.09 429.34,43.15 429.65,43.2 429.97,43.26 430.29,43.32 430.6,43.37 430.92,43.43 431.23,43.49 431.55,43.54 431.86,43.6 432.18,43.65 432.49,43.71 432.81,43.77 433.12,43.82 433.44,43.88 433.75,43.93 434.07,43.99 434.38,44.04 434.7,44.1 435.02,44.15 435.33,44.21 435.65,44.26 435.96,44.32 436.28,44.37 436.59,44.42 436.91,44.48 437.22,44.53 437.54,44.58 437.85,44.64 438.17,44.69 438.48,44.74 438.8,44.8 439.11,44.85 439.43,44.9 439.75,44.95 440.06,45.01 440.38,45.06 440.69,45.11 441.01,45.16 441.32,45.21 441.64,45.26 441.95,45.32 442.27,45.37 442.58,45.42 442.9,45.47 443.21,45.52 443.53,45.57 443.85,45.62 444.16,45.67 444.48,45.72 444.79,45.77 445.11,45.82 445.42,45.87 445.74,45.92 446.05,45.96 446.37,46.01 446.68,46.06 447,46.11 447.31,46.16 447.63,46.2 447.94,46.25 448.26,46.3 448.58,46.35 448.89,46.39 449.21,46.44 449.52,46.49 449.84,46.53 450.15,46.58 450.47,46.63 450.78,46.67 451.1,46.72 451.41,46.76 451.73,46.81 452.04,46.85 452.36,46.9 452.68,46.94 452.99,46.98 453.31,47.03 453.62,47.07 453.94,47.12 454.25,47.16 454.57,47.2 454.88,47.24 455.2,47.29 455.51,47.33 455.83,47.37 456.14,47.41 456.46,47.45 456.77,47.5 457.09,47.54 457.41,47.58 457.72,47.62 458.04,47.66 458.35,47.7 458.67,47.74 458.98,47.78 459.3,47.82 459.61,47.86 459.93,47.89 460.24,47.93 460.56,47.97 460.87,48.01 461.19,48.05 461.5,48.08 461.82,48.12 462.14,48.16 462.45,48.2 462.77,48.23 463.08,48.27 463.4,48.3 463.71,48.34 464.03,48.38 464.34,48.41 464.66,48.44 464.97,48.48 465.29,48.51 465.6,48.55 465.92,48.58 466.24,48.61 466.55,48.65 466.87,48.68 467.18,48.71 467.5,48.74 467.81,48.78 468.13,48.81 468.44,48.84 468.76,48.87 469.07,48.9 469.39,48.93 469.7,48.96 470.02,48.99 470.33,49.02 470.65,49.05 470.97,49.08 471.28,49.11 471.6,49.13 471.91,49.16 472.23,49.19 472.54,49.22 472.86,49.24 473.17,49.27 473.49,49.3 473.8,49.32 474.12,49.35 474.43,49.37 474.75,49.4 475.06,49.42 475.38,49.45 475.7,49.47 476.01,49.49 476.33,49.52 476.64,49.54 476.96,49.56 477.27,49.59 477.59,49.61 477.9,49.63 478.22,49.65 478.53,49.67 478.85,49.69 479.16,49.71 479.48,49.73 479.8,49.75 480.11,49.77 480.43,49.79 480.74,49.81 481.06,49.82 481.37,49.84 481.69,49.86 482,49.88 482.32,49.89 482.63,49.91 482.95,49.92 483.26,49.94 483.58,49.95 483.89,49.97 484.21,49.98 484.53,50 484.84,50.01 485.16,50.02 485.47,50.04 485.79,50.05 486.1,50.06 486.42,50.07 486.73,50.08 487.05,50.09 487.36,50.1 487.68,50.11 487.99,50.12 488.31,50.13 488.62,50.14 488.94,50.15 489.26,50.16 489.57,50.16 489.89,50.17 490.2,50.18 490.52,50.18 490.83,50.19 491.15,50.19 491.46,50.2"/>
<polyline fill="none" stroke="#3a3192" stroke-width="1.1" stroke-linejoin="round"  points="295,19.5 295.25,24.61 295.5,29.68 295.75,34.67 296,39.57 296.25,44.31 296.5,48.88 296.75,53.24 297,57.34 297.25,61.16 297.5,64.65 297.75,67.79 298,70.54 298.25,72.85 298.5,74.7 298.75,76.05 299,76.86 299.25,77.1 299.5,76.73 299.75,75.79 300,74.34 300.25,72.44 300.5,70.15 300.75,67.52 301,64.63 301.25,61.52 301.5,58.27 301.75,54.92 302,51.54 302.25,48.2 302.5,44.94 302.75,41.84 303,38.94 303.25,36.32 303.5,34.03 303.75,32.12 304,30.67 304.25,29.74 304.5,29.37 304.75,29.71 305,30.83 305.25,32.62 305.5,34.99 305.75,37.85 306,41.09 306.25,44.62 306.5,48.33 306.75,52.14 307,55.93 307.25,59.63 307.5,63.12 307.75,66.31 308,69.09 308.25,71.39 308.5,73.08 308.75,74.09 309,74.31 309.25,73.88 309.5,72.92 309.75,71.49 310,69.67 310.25,67.51 310.5,65.08 310.75,62.43 311,59.64 311.25,56.76 311.5,53.86 311.75,51.01 312,48.26 312.25,45.67 312.5,43.32 312.75,41.26 313,39.56 313.25,38.28 313.5,37.48 313.75,37.23 314,37.54 314.25,38.36 314.5,39.62 314.75,41.28 315,43.27 315.25,45.54 315.5,48.03 315.75,50.69 316,53.45 316.25,56.26 316.5,59.07 316.75,61.81 317,64.44 317.25,66.89 317.5,69.1 317.75,71.02 318,72.6 318.25,73.78 318.5,74.49 318.75,74.68 319,74.31 319.25,73.4 319.5,72.03 319.75,70.26 320,68.15 320.25,65.77 320.5,63.2 320.75,60.48 321,57.7 321.25,54.91 321.5,52.18 321.75,49.58 322,47.17 322.25,45.03 322.5,43.2 322.75,41.78 323,40.8 323.25,40.36 323.5,40.48 323.75,41.11 324,42.2 324.25,43.67 324.5,45.48 324.75,47.56 325,49.85 325.25,52.29 325.5,54.82 325.75,57.37 326,59.9 326.25,62.34 326.5,64.62 326.75,66.69 327,68.49 327.25,69.95 327.5,71.02 327.75,71.64 328,71.74 328.25,71.35 328.5,70.53 328.75,69.33 329,67.81 329.25,66.02 329.5,64.02 329.75,61.86 330,59.59 330.25,57.28 330.5,54.97 330.75,52.72 331,50.58 331.25,48.62 331.5,46.88 331.75,45.42 332,44.29 332.25,43.55 332.5,43.26 332.75,43.42 333,43.96 333.25,44.83 333.5,45.99 333.75,47.4 334,49 334.25,50.75 334.5,52.61 334.75,54.53 335,56.46 335.25,58.36 335.5,60.18 335.75,61.89 336,63.42 336.25,64.74 336.5,65.8 336.75,66.55 337,66.96 337.25,66.98 337.5,66.65 337.75,66.02 338,65.14 338.25,64.03 338.5,62.74 338.75,61.3 339,59.76 339.25,58.16 339.5,56.52 339.75,54.9 340,53.32 340.25,51.84 340.5,50.48 340.75,49.28 341,48.29 341.25,47.53 341.5,47.06 341.75,46.91 342,47.13 342.25,47.68 342.5,48.53 342.75,49.63 343,50.92 343.25,52.36 343.5,53.89 343.75,55.48 344,57.07 344.25,58.61 344.5,60.05 344.75,61.35 345,62.45 345.25,63.31 345.5,63.87 345.75,64.09 346,63.98 346.25,63.61 346.5,63.02 346.75,62.25 347,61.33 347.25,60.28 347.5,59.15 347.75,57.97 348,56.77 348.25,55.59 348.5,54.46 348.75,53.41 349,52.47 349.25,51.69 349.5,51.08 349.75,50.7 350,50.57 350.25,50.67 350.5,50.96 350.75,51.4 351,51.99 351.25,52.69 351.5,53.49 351.75,54.36 352,55.28 352.25,56.23 352.5,57.18 352.75,58.11 353,59 353.25,59.83 353.5,60.58 353.75,61.21 354,61.72 354.25,62.07 354.5,62.25 354.75,62.23 355,62.07 355.25,61.76 355.5,61.33 355.75,60.79 356,60.16 356.25,59.46 356.5,58.69 356.75,57.88 357,57.05 357.25,56.2 357.5,55.36 357.75,54.54 358,53.75 358.25,53.01 358.5,52.34 358.75,51.76 359,51.27 359.25,50.9 359.5,50.66 359.75,50.57 360,50.68 360.25,51.03 360.5,51.6 360.75,52.34 361,53.23 361.25,54.21 361.5,55.28 361.75,56.37 362,57.47 362.25,58.54 362.5,59.53 362.75,60.43 363,61.18 363.25,61.76 363.5,62.13 363.75,62.26 364,62.2 364.25,62.01 364.5,61.72 364.75,61.33 365,60.85 365.25,60.3 365.5,59.69 365.75,59.02 366,58.32 366.25,57.6 366.5,56.85 366.75,56.1 367,55.36 367.25,54.64 367.5,53.95 367.75,53.3 368,52.71 368.25,52.18 368.5,51.73 368.75,51.37 369,51.11 369.25,50.96 369.5,50.95 369.75,51.18 370,51.67 370.25,52.36 370.5,53.23 370.75,54.22 371,55.29 371.25,56.42 371.5,57.54 371.75,58.62 372,59.62 372.25,60.5 372.5,61.21 372.75,61.72 373,61.98 373.25,61.97 373.5,61.81 373.75,61.53 374,61.13 374.25,60.63 374.5,60.06 374.75,59.41 375,58.72 375.25,58 375.5,57.25 375.75,56.5 376,55.77 376.25,55.06 376.5,54.39 376.75,53.79 377,53.26 377.25,52.82 377.5,52.49 377.75,52.27 378,52.2 378.25,52.26 378.5,52.44 378.75,52.73 379,53.11 379.25,53.56 379.5,54.08 379.75,54.65 380,55.26 380.25,55.89 380.5,56.53 380.75,57.17 381,57.79 381.25,58.38 381.5,58.93 381.75,59.43 382,59.85 382.25,60.2 382.5,60.44 382.75,60.58 383,60.59 383.25,60.45 383.5,60.18 383.75,59.8 384,59.31 384.25,58.74 384.5,58.11 384.75,57.43 385,56.73 385.25,56.01 385.5,55.3 385.75,54.62 386,53.98 386.25,53.4 386.5,52.89 386.75,52.49 387,52.19 387.25,52.03 387.5,52.01 387.75,52.1 388,52.29 388.25,52.56 388.5,52.9 388.75,53.3 389,53.76 389.25,54.26 389.5,54.79 389.75,55.34 390,55.9 390.25,56.46 390.5,57.01 390.75,57.54 391,58.04 391.25,58.5 391.5,58.9 391.75,59.24 392,59.51 392.25,59.7 392.5,59.79 392.75,59.78 393,59.63 393.25,59.37 393.5,59.02 393.75,58.58 394,58.08 394.25,57.53 394.5,56.95 394.75,56.35 395,55.75 395.25,55.17 395.5,54.62 395.75,54.12 396,53.68 396.25,53.33 396.5,53.07 396.75,52.92 397,52.9 397.25,52.96 397.5,53.06 397.75,53.21 398,53.4 398.25,53.63 398.5,53.88 398.75,54.16 399,54.46 399.25,54.78 399.5,55.1 399.75,55.43 400,55.76 400.25,56.07 400.5,56.38 400.75,56.66 401,56.93 401.25,57.16 401.5,57.36 401.75,57.51 402,57.63 402.25,57.69 402.5,57.7 402.75,57.66 403,57.59 403.25,57.5 403.5,57.37 403.75,57.23 404,57.08 404.25,56.91 404.5,56.73 404.75,56.56 405,56.39 405.25,56.23 405.5,56.08 405.75,55.95 406,55.84 406.25,55.76 406.5,55.71 406.75,55.7 407,55.73 407.25,55.79 407.5,55.89 407.75,56.01 408,56.17 408.25,56.34 408.5,56.53 408.75,56.73 409,56.95 409.25,57.17 409.5,57.39 409.75,57.62 410,57.84 410.25,58.05 410.5,58.25 410.75,58.43 411,58.6 411.25,58.74 411.5,58.85 411.75,58.94 412,58.99 412.25,59 412.5,58.96 412.75,58.87 413,58.74 413.25,58.56 413.5,58.36 413.75,58.12 414,57.87 414.25,57.6 414.5,57.32 414.75,57.04 415,56.76 415.25,56.48 415.5,56.23 415.75,55.99 416,55.78 416.25,55.6 416.5,55.45 416.75,55.35 417,55.3 417.25,55.31 417.5,55.36 417.75,55.45 418,55.58 418.25,55.73 418.5,55.91 418.75,56.12 419,56.34 419.25,56.57 419.5,56.8 419.75,57.04 420,57.27 420.25,57.5 420.5,57.71 420.75,57.9 421,58.07 421.25,58.2 421.5,58.31 421.75,58.38 422,58.4 422.25,58.38 422.5,58.31 422.75,58.2 423,58.05 423.25,57.87 423.5,57.67 423.75,57.44 424,57.2 424.25,56.94 424.5,56.67 424.75,56.4 425,56.13 425.25,55.86 425.5,55.6 425.75,55.36 426,55.13 426.25,54.93 426.5,54.75 426.75,54.6 427,54.49 427.25,54.42 427.5,54.4 427.75,54.42 428,54.47 428.25,54.54 428.5,54.65 428.75,54.77 429,54.91 429.25,55.06 429.5,55.23 429.75,55.4 430,55.57 430.25,55.74 430.5,55.9 430.75,56.06 431,56.2 431.25,56.33 431.5,56.44 431.75,56.52 432,56.58 432.25,56.6 432.5,56.59 432.75,56.54 433,56.46 433.25,56.35 433.5,56.21 433.75,56.06 434,55.89 434.25,55.71 434.5,55.52 434.75,55.34 435,55.15 435.25,54.98 435.5,54.81 435.75,54.66 436,54.53 436.25,54.42 436.5,54.35 436.75,54.31 437,54.3 437.25,54.35 437.5,54.43 437.75,54.56 438,54.71 438.25,54.88 438.5,55.08 438.75,55.28 439,55.49 439.25,55.7 439.5,55.9 439.75,56.09 440,56.26 440.25,56.4 440.5,56.51 440.75,56.58 441,56.6 441.25,56.59 441.5,56.54 441.75,56.48 442,56.39 442.25,56.29 442.5,56.18 442.75,56.05 443,55.92 443.25,55.78 443.5,55.64 443.75,55.5 444,55.37 444.25,55.25 444.5,55.15 444.75,55.05 445,54.98 445.25,54.93 445.5,54.9 445.75,54.91 446,54.95 446.25,55.02 446.5,55.13 446.75,55.26 447,55.41 447.25,55.58 447.5,55.75 447.75,55.94 448,56.12 448.25,56.31 448.5,56.49 448.75,56.66 449,56.81 449.25,56.95 449.5,57.06 449.75,57.14 450,57.19 450.25,57.2 450.5,57.16 450.75,57.09 451,56.97 451.25,56.82 451.5,56.64 451.75,56.43 452,56.22 452.25,55.99 452.5,55.75 452.75,55.51 453,55.28 453.25,55.07 453.5,54.86 453.75,54.68 454,54.53 454.25,54.41 454.5,54.34 454.75,54.3 455,54.32 455.25,54.39 455.5,54.52 455.75,54.68 456,54.88 456.25,55.12 456.5,55.37 456.75,55.64 457,55.93 457.25,56.21 457.5,56.5 457.75,56.77 458,57.03 458.25,57.27 458.5,57.48 458.75,57.65 459,57.79 459.25,57.87 459.5,57.9 459.75,57.87 460,57.77 460.25,57.62 460.5,57.42 460.75,57.17 461,56.9 461.25,56.6 461.5,56.29 461.75,55.97 462,55.64 462.25,55.32 462.5,55.02 462.75,54.73 463,54.48 463.25,54.26 463.5,54.09 463.75,53.97 464,53.91 464.25,53.91 464.5,53.97 464.75,54.09 465,54.25 465.25,54.44 465.5,54.67 465.75,54.92 466,55.19 466.25,55.47 466.5,55.76 466.75,56.04 467,56.32 467.25,56.58 467.5,56.83 467.75,57.04 468,57.22 468.25,57.36 468.5,57.46 468.75,57.5 469,57.48 469.25,57.39 469.5,57.25 469.75,57.06 470,56.83 470.25,56.56 470.5,56.26 470.75,55.95 471,55.63 471.25,55.3 471.5,54.98 471.75,54.67 472,54.39 472.25,54.12 472.5,53.9 472.75,53.72 473,53.59 473.25,53.51 473.5,53.51 473.75,53.57 474,53.71 474.25,53.9 474.5,54.13 474.75,54.41 475,54.73 475.25,55.06 475.5,55.41 475.75,55.77 476,56.13 476.25,56.47 476.5,56.8 476.75,57.1 477,57.37 477.25,57.59 477.5,57.76 477.75,57.86 478,57.9 478.25,57.86 478.5,57.75 478.75,57.59 479,57.36 479.25,57.1 479.5,56.79 479.75,56.46 480,56.11 480.25,55.75 480.5,55.38 480.75,55.02 481,54.67 481.25,54.34 481.5,54.05 481.75,53.79 482,53.58 482.25,53.42 482.5,53.32 482.75,53.3 483,53.35 483.25,53.45 483.5,53.61 483.75,53.82 484,54.06 484.25,54.33 484.5,54.62 484.75,54.93 485,55.25 485.25,55.57 485.5,55.88 485.75,56.17 486,56.44 486.25,56.68 486.5,56.89 486.75,57.05 487,57.15 487.25,57.2 487.5,57.19 487.75,57.14 488,57.05 488.25,56.93 488.5,56.78 488.75,56.6 489,56.41 489.25,56.19 489.5,55.96 489.75,55.71 490,55.46 490.25,55.2 490.5,54.94 490.75,54.68"/>
</g>
<g>
<line x1="295" y1="225.63" x2="484.21" y2="225.63" stroke="#222" stroke-width="0.9" />
<line x1="295" y1="225.63" x2="295" y2="228.83" stroke="#222" stroke-width="0.9" />
<text transform="translate(295,237.43) scale(0.09149,0.0798)" font-size="100" text-anchor="middle" font-weight="normal" fill="#000">0</text>
<line x1="326.54" y1="225.63" x2="326.54" y2="228.83" stroke="#222" stroke-width="0.9" />
<text transform="translate(326.54,237.43) scale(0.09149,0.0798)" font-size="100" text-anchor="middle" font-weight="normal" fill="#000">5</text>
<line x1="358.07" y1="225.63" x2="358.07" y2="228.83" stroke="#222" stroke-width="0.9" />
<text transform="translate(358.07,237.43) scale(0.09149,0.0798)" font-size="100" text-anchor="middle" font-weight="normal" fill="#000">10</text>
<line x1="389.61" y1="225.63" x2="389.61" y2="228.83" stroke="#222" stroke-width="0.9" />
<text transform="translate(389.61,237.43) scale(0.09149,0.0798)" font-size="100" text-anchor="middle" font-weight="normal" fill="#000">15</text>
<line x1="421.14" y1="225.63" x2="421.14" y2="228.83" stroke="#222" stroke-width="0.9" />
<text transform="translate(421.14,237.43) scale(0.09149,0.0798)" font-size="100" text-anchor="middle" font-weight="normal" fill="#000">20</text>
<line x1="452.68" y1="225.63" x2="452.68" y2="228.83" stroke="#222" stroke-width="0.9" />
<text transform="translate(452.68,237.43) scale(0.09149,0.0798)" font-size="100" text-anchor="middle" font-weight="normal" fill="#000">25</text>
<line x1="484.21" y1="225.63" x2="484.21" y2="228.83" stroke="#222" stroke-width="0.9" />
<text transform="translate(484.21,237.43) scale(0.09149,0.0798)" font-size="100" text-anchor="middle" font-weight="normal" fill="#000">30</text>
<text transform="translate(388.8,249.13) scale(0.09149,0.0742)" font-size="100" text-anchor="middle" font-weight="normal" fill="#000">Lag (ms)</text>
<line x1="287.3" y1="149.63" x2="287.3" y2="222.73" stroke="#222" stroke-width="0.9" />
<line x1="282.9" y1="149.63" x2="287.3" y2="149.63" stroke="#222" stroke-width="0.9" />
<line x1="282.9" y1="167.91" x2="287.3" y2="167.91" stroke="#222" stroke-width="0.9" />
<line x1="282.9" y1="186.18" x2="287.3" y2="186.18" stroke="#222" stroke-width="0.9" />
<line x1="282.9" y1="204.45" x2="287.3" y2="204.45" stroke="#222" stroke-width="0.9" />
<line x1="282.9" y1="222.73" x2="287.3" y2="222.73" stroke="#222" stroke-width="0.9" />
<text transform="translate(277.2,149.63) rotate(-90) scale(0.07,0.09499)" font-size="100" text-anchor="middle" fill="#000">1.0</text>
<text transform="translate(277.2,167.91) rotate(-90) scale(0.07,0.09499)" font-size="100" text-anchor="middle" fill="#000">0.5</text>
<text transform="translate(277.2,186.18) rotate(-90) scale(0.07,0.09499)" font-size="100" text-anchor="middle" fill="#000">0.0</text>
<text transform="translate(277.2,222.73) rotate(-90) scale(0.07,0.09499)" font-size="100" text-anchor="middle" fill="#000">-1.0</text>
<text transform="translate(263.9,186.18) rotate(-90) scale(0.07,0.09002)" font-size="100" text-anchor="middle" fill="#000">ACF</text>
<line x1="287.3" y1="186.18" x2="490" y2="186.18" stroke="#4a4a4a" stroke-width="0.9" stroke-dasharray="2.4,2.6"/>
<line x1="308.24" y1="142.83" x2="308.24" y2="225.63" stroke="#4a4a4a" stroke-width="0.9" stroke-dasharray="2.3,2.4"/>
<text transform="translate(308.24,138.73) scale(0.07319,0.0644)" font-size="100" text-anchor="middle" font-weight="normal" fill="#000">2.1 ms</text>
<polyline fill="none" stroke="#9a9a9a" stroke-width="1.0" stroke-linejoin="round"  points="295,149.63 295.32,149.66 295.63,149.69 295.95,149.72 296.26,149.75 296.58,149.78 296.89,149.81 297.21,149.84 297.52,149.87 297.84,149.9 298.15,149.93 298.47,149.96 298.78,149.99 299.1,150.02 299.41,150.05 299.73,150.08 300.05,150.11 300.36,150.14 300.68,150.17 300.99,150.21 301.31,150.24 301.62,150.27 301.94,150.3 302.25,150.33 302.57,150.36 302.88,150.39 303.2,150.42 303.51,150.45 303.83,150.48 304.15,150.51 304.46,150.54 304.78,150.57 305.09,150.61 305.41,150.64 305.72,150.67 306.04,150.7 306.35,150.73 306.67,150.76 306.98,150.79 307.3,150.82 307.61,150.85 307.93,150.89 308.24,150.92 308.56,150.95 308.88,150.98 309.19,151.01 309.51,151.04 309.82,151.08 310.14,151.11 310.45,151.14 310.77,151.17 311.08,151.2 311.4,151.24 311.71,151.27 312.03,151.3 312.34,151.33 312.66,151.36 312.97,151.4 313.29,151.43 313.61,151.46 313.92,151.49 314.24,151.53 314.55,151.56 314.87,151.59 315.18,151.62 315.5,151.66 315.81,151.69 316.13,151.72 316.44,151.75 316.76,151.79 317.07,151.82 317.39,151.85 317.71,151.89 318.02,151.92 318.34,151.95 318.65,151.99 318.97,152.02 319.28,152.05 319.6,152.09 319.91,152.12 320.23,152.16 320.54,152.19 320.86,152.22 321.17,152.26 321.49,152.29 321.8,152.33 322.12,152.36 322.44,152.39 322.75,152.43 323.07,152.46 323.38,152.5 323.7,152.53 324.01,152.57 324.33,152.6 324.64,152.64 324.96,152.67 325.27,152.71 325.59,152.74 325.9,152.78 326.22,152.81 326.54,152.85 326.85,152.88 327.17,152.92 327.48,152.95 327.8,152.99 328.11,153.03 328.43,153.06 328.74,153.1 329.06,153.13 329.37,153.17 329.69,153.21 330,153.24 330.32,153.28 330.63,153.32 330.95,153.35 331.27,153.39 331.58,153.43 331.9,153.46 332.21,153.5 332.53,153.54 332.84,153.57 333.16,153.61 333.47,153.65 333.79,153.69 334.1,153.72 334.42,153.76 334.73,153.8 335.05,153.84 335.36,153.87 335.68,153.91 336,153.95 336.31,153.99 336.63,154.03 336.94,154.06 337.26,154.1 337.57,154.14 337.89,154.18 338.2,154.22 338.52,154.26 338.83,154.3 339.15,154.34 339.46,154.38 339.78,154.41 340.1,154.45 340.41,154.49 340.73,154.53 341.04,154.57 341.36,154.61 341.67,154.65 341.99,154.69 342.3,154.73 342.62,154.77 342.93,154.81 343.25,154.85 343.56,154.89 343.88,154.93 344.19,154.97 344.51,155.02 344.83,155.06 345.14,155.1 345.46,155.14 345.77,155.18 346.09,155.22 346.4,155.26 346.72,155.3 347.03,155.35 347.35,155.39 347.66,155.43 347.98,155.47 348.29,155.51 348.61,155.56 348.92,155.6 349.24,155.64 349.56,155.68 349.87,155.72 350.19,155.77 350.5,155.81 350.82,155.85 351.13,155.9 351.45,155.94 351.76,155.98 352.08,156.03 352.39,156.07 352.71,156.11 353.02,156.16 353.34,156.2 353.66,156.24 353.97,156.29 354.29,156.33 354.6,156.38 354.92,156.42 355.23,156.46 355.55,156.51 355.86,156.55 356.18,156.6 356.49,156.64 356.81,156.69 357.12,156.73 357.44,156.78 357.75,156.82 358.07,156.87 358.39,156.91 358.7,156.96 359.02,157 359.33,157.05 359.65,157.1 359.96,157.14 360.28,157.19 360.59,157.23 360.91,157.28 361.22,157.33 361.54,157.37 361.85,157.42 362.17,157.47 362.48,157.51 362.8,157.56 363.12,157.61 363.43,157.65 363.75,157.7 364.06,157.75 364.38,157.8 364.69,157.84 365.01,157.89 365.32,157.94 365.64,157.99 365.95,158.03 366.27,158.08 366.58,158.13 366.9,158.18 367.22,158.23 367.53,158.28 367.85,158.32 368.16,158.37 368.48,158.42 368.79,158.47 369.11,158.52 369.42,158.57 369.74,158.62 370.05,158.67 370.37,158.72 370.68,158.77 371,158.82 371.31,158.87 371.63,158.92 371.95,158.97 372.26,159.02 372.58,159.07 372.89,159.12 373.21,159.17 373.52,159.22 373.84,159.27 374.15,159.32 374.47,159.37 374.78,159.42 375.1,159.47 375.41,159.52 375.73,159.57 376.04,159.62 376.36,159.67 376.68,159.73 376.99,159.78 377.31,159.83 377.62,159.88 377.94,159.93 378.25,159.98 378.57,160.04 378.88,160.09 379.2,160.14 379.51,160.19 379.83,160.24 380.14,160.3 380.46,160.35 380.78,160.4 381.09,160.45 381.41,160.51 381.72,160.56 382.04,160.61 382.35,160.67 382.67,160.72 382.98,160.77 383.3,160.83 383.61,160.88 383.93,160.93 384.24,160.99 384.56,161.04 384.87,161.09 385.19,161.15 385.51,161.2 385.82,161.26 386.14,161.31 386.45,161.36 386.77,161.42 387.08,161.47 387.4,161.53 387.71,161.58 388.03,161.64 388.34,161.69 388.66,161.74 388.97,161.8 389.29,161.85 389.61,161.91 389.92,161.96 390.24,162.02 390.55,162.08 390.87,162.13 391.18,162.19 391.5,162.24 391.81,162.3 392.13,162.35 392.44,162.41 392.76,162.46 393.07,162.52 393.39,162.58 393.7,162.63 394.02,162.69 394.34,162.74 394.65,162.8 394.97,162.86 395.28,162.91 395.6,162.97 395.91,163.03 396.23,163.08 396.54,163.14 396.86,163.19 397.17,163.25 397.49,163.31 397.8,163.37 398.12,163.42 398.43,163.48 398.75,163.54 399.07,163.59 399.38,163.65 399.7,163.71 400.01,163.76 400.33,163.82 400.64,163.88 400.96,163.94 401.27,163.99 401.59,164.05 401.9,164.11 402.22,164.17 402.53,164.23 402.85,164.28 403.17,164.34 403.48,164.4 403.8,164.46 404.11,164.51 404.43,164.57 404.74,164.63 405.06,164.69 405.37,164.75 405.69,164.81 406,164.86 406.32,164.92 406.63,164.98 406.95,165.04 407.26,165.1 407.58,165.16 407.9,165.21 408.21,165.27 408.53,165.33 408.84,165.39 409.16,165.45 409.47,165.51 409.79,165.57 410.1,165.63 410.42,165.68 410.73,165.74 411.05,165.8 411.36,165.86 411.68,165.92 411.99,165.98 412.31,166.04 412.63,166.1 412.94,166.16 413.26,166.22 413.57,166.27 413.89,166.33 414.2,166.39 414.52,166.45 414.83,166.51 415.15,166.57 415.46,166.63 415.78,166.69 416.09,166.75 416.41,166.81 416.73,166.87 417.04,166.93 417.36,166.99 417.67,167.05 417.99,167.1 418.3,167.16 418.62,167.22 418.93,167.28 419.25,167.34 419.56,167.4 419.88,167.46 420.19,167.52 420.51,167.58 420.82,167.64 421.14,167.7 421.46,167.76 421.77,167.82 422.09,167.88 422.4,167.94 422.72,168 423.03,168.06 423.35,168.12 423.66,168.18 423.98,168.23 424.29,168.29 424.61,168.35 424.92,168.41 425.24,168.47 425.55,168.53 425.87,168.59 426.19,168.65 426.5,168.71 426.82,168.77 427.13,168.83 427.45,168.89 427.76,168.95 428.08,169.01 428.39,169.07 428.71,169.13 429.02,169.18 429.34,169.24 429.65,169.3 429.97,169.36 430.29,169.42 430.6,169.48 430.92,169.54 431.23,169.6 431.55,169.66 431.86,169.72 432.18,169.78 432.49,169.83 432.81,169.89 433.12,169.95 433.44,170.01 433.75,170.07 434.07,170.13 434.38,170.19 434.7,170.25 435.02,170.3 435.33,170.36 435.65,170.42 435.96,170.48 436.28,170.54 436.59,170.6 436.91,170.65 437.22,170.71 437.54,170.77 437.85,170.83 438.17,170.89 438.48,170.95 438.8,171 439.11,171.06 439.43,171.12 439.75,171.18 440.06,171.23 440.38,171.29 440.69,171.35 441.01,171.41 441.32,171.46 441.64,171.52 441.95,171.58 442.27,171.64 442.58,171.69 442.9,171.75 443.21,171.81 443.53,171.86 443.85,171.92 444.16,171.98 444.48,172.03 444.79,172.09 445.11,172.15 445.42,172.2 445.74,172.26 446.05,172.32 446.37,172.37 446.68,172.43 447,172.48 447.31,172.54 447.63,172.59 447.94,172.65 448.26,172.71 448.58,172.76 448.89,172.82 449.21,172.87 449.52,172.93 449.84,172.98 450.15,173.04 450.47,173.09 450.78,173.15 451.1,173.2 451.41,173.25 451.73,173.31 452.04,173.36 452.36,173.42 452.68,173.47 452.99,173.53 453.31,173.58 453.62,173.63 453.94,173.69 454.25,173.74 454.57,173.79 454.88,173.85 455.2,173.9 455.51,173.95 455.83,174 456.14,174.06 456.46,174.11 456.77,174.16 457.09,174.21 457.41,174.26 457.72,174.32 458.04,174.37 458.35,174.42 458.67,174.47 458.98,174.52 459.3,174.57 459.61,174.62 459.93,174.67 460.24,174.72 460.56,174.77 460.87,174.83 461.19,174.88 461.5,174.92 461.82,174.97 462.14,175.02 462.45,175.07 462.77,175.12 463.08,175.17 463.4,175.22 463.71,175.27 464.03,175.32 464.34,175.37 464.66,175.41 464.97,175.46 465.29,175.51 465.6,175.56 465.92,175.6 466.24,175.65 466.55,175.7 466.87,175.75 467.18,175.79 467.5,175.84 467.81,175.88 468.13,175.93 468.44,175.98 468.76,176.02 469.07,176.07 469.39,176.11 469.7,176.16 470.02,176.2 470.33,176.25 470.65,176.29 470.97,176.34 471.28,176.38 471.6,176.42 471.91,176.47 472.23,176.51 472.54,176.55 472.86,176.6 473.17,176.64 473.49,176.68 473.8,176.72 474.12,176.76 474.43,176.81 474.75,176.85 475.06,176.89 475.38,176.93 475.7,176.97 476.01,177.01 476.33,177.05 476.64,177.09 476.96,177.13 477.27,177.17 477.59,177.21 477.9,177.25 478.22,177.29 478.53,177.32 478.85,177.36 479.16,177.4 479.48,177.44 479.8,177.47 480.11,177.51 480.43,177.55 480.74,177.58 481.06,177.62 481.37,177.66 481.69,177.69 482,177.73 482.32,177.76 482.63,177.8 482.95,177.83 483.26,177.87 483.58,177.9 483.89,177.93 484.21,177.97 484.53,178 484.84,178.03 485.16,178.07 485.47,178.1 485.79,178.13 486.1,178.16 486.42,178.19 486.73,178.22 487.05,178.25 487.36,178.28 487.68,178.31 487.99,178.34 488.31,178.37 488.62,178.4 488.94,178.43 489.26,178.46 489.57,178.49 489.89,178.51 490.2,178.54 490.52,178.57 490.83,178.59 491.15,178.62 491.46,178.65"/>
<polyline fill="none" stroke="#3a3192" stroke-width="1.1" stroke-linejoin="round"  points="295,149.63 295.25,151.17 295.5,152.71 295.75,154.25 296,155.78 296.25,157.31 296.5,158.83 296.75,160.35 297,161.85 297.25,163.35 297.5,164.84 297.75,166.32 298,167.78 298.25,169.23 298.5,170.66 298.75,172.08 299,173.48 299.25,174.86 299.5,176.23 299.75,177.57 300,178.89 300.25,180.18 300.5,181.45 300.75,182.7 301,183.92 301.25,185.11 301.5,186.27 301.75,187.41 302,188.51 302.25,189.57 302.5,190.61 302.75,191.61 303,192.57 303.25,193.5 303.5,194.38 303.75,195.23 304,196.04 304.25,196.81 304.5,197.53 304.75,198.21 305,198.84 305.25,199.43 305.5,199.96 305.75,200.45 306,200.89 306.25,201.28 306.5,201.62 306.75,201.9 307,202.13 307.25,202.3 307.5,202.42 307.75,202.47 308,202.48 308.25,202.45 308.5,202.38 308.75,202.29 309,202.18 309.25,202.03 309.5,201.86 309.75,201.67 310,201.45 310.25,201.2 310.5,200.94 310.75,200.66 311,200.35 311.25,200.03 311.5,199.69 311.75,199.33 312,198.96 312.25,198.57 312.5,198.16 312.75,197.75 313,197.32 313.25,196.88 313.5,196.43 313.75,195.98 314,195.51 314.25,195.04 314.5,194.56 314.75,194.07 315,193.59 315.25,193.1 315.5,192.6 315.75,192.11 316,191.61 316.25,191.12 316.5,190.63 316.75,190.14 317,189.66 317.25,189.18 317.5,188.7 317.75,188.23 318,187.77 318.25,187.32 318.5,186.88 318.75,186.45 319,186.03 319.25,185.63 319.5,185.23 319.75,184.86 320,184.49 320.25,184.15 320.5,183.82 320.75,183.51 321,183.22 321.25,182.95 321.5,182.71 321.75,182.48 322,182.28 322.25,182.1 322.5,181.95 322.75,181.83 323,181.73 323.25,181.66 323.5,181.62 323.75,181.61 324,181.62 324.25,181.64 324.5,181.68 324.75,181.73 325,181.79 325.25,181.86 325.5,181.94 325.75,182.03 326,182.13 326.25,182.24 326.5,182.36 326.75,182.48 327,182.62 327.25,182.76 327.5,182.9 327.75,183.05 328,183.21 328.25,183.37 328.5,183.54 328.75,183.7 329,183.88 329.25,184.05 329.5,184.23 329.75,184.4 330,184.58 330.25,184.76 330.5,184.93 330.75,185.11 331,185.28 331.25,185.46 331.5,185.63 331.75,185.79 332,185.96 332.25,186.12 332.5,186.27 332.75,186.42 333,186.56 333.25,186.7 333.5,186.83 333.75,186.95 334,187.06 334.25,187.17 334.5,187.27 334.75,187.35 335,187.43 335.25,187.49 335.5,187.55 335.75,187.59 336,187.62 336.25,187.64 336.5,187.64 336.75,187.63 337,187.59 337.25,187.54 337.5,187.47 337.75,187.38 338,187.28 338.25,187.16 338.5,187.03 338.75,186.88 339,186.72 339.25,186.56 339.5,186.38 339.75,186.19 340,186 340.25,185.79 340.5,185.58 340.75,185.37 341,185.15 341.25,184.93 341.5,184.71 341.75,184.48 342,184.26 342.25,184.03 342.5,183.81 342.75,183.58 343,183.36 343.25,183.15 343.5,182.94 343.75,182.74 344,182.54 344.25,182.35 344.5,182.17 344.75,182 345,181.85 345.25,181.7 345.5,181.57 345.75,181.45 346,181.34 346.25,181.25 346.5,181.18 346.75,181.12 347,181.08 347.25,181.06 347.5,181.07 347.75,181.12 348,181.2 348.25,181.33 348.5,181.49 348.75,181.68 349,181.9 349.25,182.15 349.5,182.43 349.75,182.74 350,183.06 350.25,183.41 350.5,183.77 350.75,184.15 351,184.55 351.25,184.96 351.5,185.37 351.75,185.8 352,186.23 352.25,186.66 352.5,187.1 352.75,187.53 353,187.96 353.25,188.39 353.5,188.8 353.75,189.21 354,189.61 354.25,189.99 354.5,190.36 354.75,190.71 355,191.04 355.25,191.35 355.5,191.63 355.75,191.89 356,192.11 356.25,192.31 356.5,192.47 356.75,192.6 357,192.69 357.25,192.75 357.5,192.76 357.75,192.73 358,192.68 358.25,192.6 358.5,192.49 358.75,192.36 359,192.2 359.25,192.02 359.5,191.83 359.75,191.61 360,191.38 360.25,191.13 360.5,190.87 360.75,190.6 361,190.32 361.25,190.03 361.5,189.73 361.75,189.43 362,189.13 362.25,188.82 362.5,188.52 362.75,188.22 363,187.92 363.25,187.63 363.5,187.34 363.75,187.07 364,186.8 364.25,186.55 364.5,186.31 364.75,186.09 365,185.89 365.25,185.7 365.5,185.54 365.75,185.4 366,185.28 366.25,185.19 366.5,185.12 366.75,185.09 367,185.09 367.25,185.1 367.5,185.14 367.75,185.2 368,185.28 368.25,185.37 368.5,185.48 368.75,185.61 369,185.74 369.25,185.89 369.5,186.04 369.75,186.2 370,186.37 370.25,186.55 370.5,186.73 370.75,186.91 371,187.09 371.25,187.28 371.5,187.46 371.75,187.64 372,187.82 372.25,187.99 372.5,188.15 372.75,188.3 373,188.45 373.25,188.58 373.5,188.7 373.75,188.81 374,188.91 374.25,188.98 374.5,189.04 374.75,189.08 375,189.1 375.25,189.1 375.5,189.06 375.75,188.99 376,188.88 376.25,188.75 376.5,188.59 376.75,188.4 377,188.19 377.25,187.96 377.5,187.7 377.75,187.42 378,187.13 378.25,186.82 378.5,186.49 378.75,186.16 379,185.81 379.25,185.45 379.5,185.08 379.75,184.7 380,184.33 380.25,183.94 380.5,183.56 380.75,183.18 381,182.8 381.25,182.42 381.5,182.05 381.75,181.68 382,181.32 382.25,180.98 382.5,180.64 382.75,180.32 383,180.02 383.25,179.73 383.5,179.46 383.75,179.21 384,178.98 384.25,178.78 384.5,178.6 384.75,178.45 385,178.32 385.25,178.23 385.5,178.17 385.75,178.14 386,178.15 386.25,178.18 386.5,178.25 386.75,178.34 387,178.46 387.25,178.61 387.5,178.78 387.75,178.97 388,179.19 388.25,179.42 388.5,179.68 388.75,179.96 389,180.25 389.25,180.57 389.5,180.89 389.75,181.24 390,181.59 390.25,181.97 390.5,182.35 390.75,182.74 391,183.14 391.25,183.56 391.5,183.98 391.75,184.4 392,184.83 392.25,185.27 392.5,185.71 392.75,186.15 393,186.6 393.25,187.04 393.5,187.48 393.75,187.93 394,188.36 394.25,188.8 394.5,189.23 394.75,189.65 395,190.07 395.25,190.48 395.5,190.88 395.75,191.27 396,191.64 396.25,192.01 396.5,192.36 396.75,192.7 397,193.02 397.25,193.33 397.5,193.61 397.75,193.88 398,194.13 398.25,194.36 398.5,194.57 398.75,194.75 399,194.91 399.25,195.05 399.5,195.16 399.75,195.24 400,195.29 400.25,195.32 400.5,195.31 400.75,195.28 401,195.21 401.25,195.13 401.5,195.01 401.75,194.87 402,194.71 402.25,194.52 402.5,194.32 402.75,194.09 403,193.84 403.25,193.57 403.5,193.28 403.75,192.97 404,192.65 404.25,192.32 404.5,191.96 404.75,191.6 405,191.22 405.25,190.83 405.5,190.43 405.75,190.02 406,189.6 406.25,189.17 406.5,188.73 406.75,188.29 407,187.85 407.25,187.39 407.5,186.94 407.75,186.48 408,186.02 408.25,185.56 408.5,185.1 408.75,184.64 409,184.18 409.25,183.73 409.5,183.28 409.75,182.83 410,182.39 410.25,181.96 410.5,181.53 410.75,181.11 411,180.71 411.25,180.31 411.5,179.92 411.75,179.55 412,179.19 412.25,178.84 412.5,178.51 412.75,178.19 413,177.89 413.25,177.61 413.5,177.35 413.75,177.1 414,176.88 414.25,176.68 414.5,176.5 414.75,176.34 415,176.21 415.25,176.11 415.5,176.03 415.75,175.97 416,175.95 416.25,175.95 416.5,175.98 416.75,176.03 417,176.11 417.25,176.21 417.5,176.34 417.75,176.48 418,176.65 418.25,176.83 418.5,177.03 418.75,177.25 419,177.49 419.25,177.74 419.5,178.01 419.75,178.29 420,178.59 420.25,178.89 420.5,179.21 420.75,179.54 421,179.88 421.25,180.23 421.5,180.58 421.75,180.94 422,181.31 422.25,181.68 422.5,182.06 422.75,182.43 423,182.82 423.25,183.2 423.5,183.58 423.75,183.96 424,184.34 424.25,184.72 424.5,185.1 424.75,185.47 425,185.83 425.25,186.19 425.5,186.55 425.75,186.89 426,187.23 426.25,187.55 426.5,187.87 426.75,188.17 427,188.47 427.25,188.74 427.5,189.01 427.75,189.26 428,189.49 428.25,189.71 428.5,189.91 428.75,190.09 429,190.25 429.25,190.39 429.5,190.51 429.75,190.6 430,190.67 430.25,190.72 430.5,190.75 430.75,190.74 431,190.72 431.25,190.66 431.5,190.59 431.75,190.49 432,190.37 432.25,190.24 432.5,190.08 432.75,189.91 433,189.72 433.25,189.51 433.5,189.29 433.75,189.06 434,188.82 434.25,188.57 434.5,188.3 434.75,188.03 435,187.76 435.25,187.47 435.5,187.18 435.75,186.89 436,186.6 436.25,186.3 436.5,186.01 436.75,185.71 437,185.42 437.25,185.13 437.5,184.85 437.75,184.57 438,184.3 438.25,184.03 438.5,183.78 438.75,183.53 439,183.3 439.25,183.08 439.5,182.87 439.75,182.67 440,182.5 440.25,182.34 440.5,182.2 440.75,182.07 441,181.97 441.25,181.89 441.5,181.84 441.75,181.8 442,181.79 442.25,181.81 442.5,181.85 442.75,181.91 443,181.99 443.25,182.09 443.5,182.21 443.75,182.35 444,182.5 444.25,182.66 444.5,182.84 444.75,183.03 445,183.23 445.25,183.44 445.5,183.66 445.75,183.89 446,184.12 446.25,184.36 446.5,184.6 446.75,184.84 447,185.08 447.25,185.33 447.5,185.57 447.75,185.81 448,186.05 448.25,186.28 448.5,186.51 448.75,186.73 449,186.94 449.25,187.14 449.5,187.33 449.75,187.51 450,187.67 450.25,187.82 450.5,187.96 450.75,188.08 451,188.18 451.25,188.26 451.5,188.32 451.75,188.36 452,188.37 452.25,188.37 452.5,188.36 452.75,188.34 453,188.31 453.25,188.27 453.5,188.22 453.75,188.17 454,188.11 454.25,188.05 454.5,187.98 454.75,187.9 455,187.81 455.25,187.73 455.5,187.63 455.75,187.54 456,187.43 456.25,187.33 456.5,187.22 456.75,187.11 457,187 457.25,186.88 457.5,186.77 457.75,186.65 458,186.53 458.25,186.41 458.5,186.29 458.75,186.17 459,186.05 459.25,185.94 459.5,185.82 459.75,185.7 460,185.59 460.25,185.48 460.5,185.38 460.75,185.27 461,185.17 461.25,185.07 461.5,184.98 461.75,184.9 462,184.81 462.25,184.74 462.5,184.67 462.75,184.6 463,184.54 463.25,184.49 463.5,184.45 463.75,184.41 464,184.38 464.25,184.36 464.5,184.35 464.75,184.35 465,184.37 465.25,184.41 465.5,184.47 465.75,184.55 466,184.65 466.25,184.76 466.5,184.89 466.75,185.03 467,185.18 467.25,185.34 467.5,185.51 467.75,185.69 468,185.88 468.25,186.07 468.5,186.27 468.75,186.47 469,186.67 469.25,186.87 469.5,187.07 469.75,187.27 470,187.47 470.25,187.66 470.5,187.84 470.75,188.02 471,188.18 471.25,188.34 471.5,188.49 471.75,188.62 472,188.74 472.25,188.85 472.5,188.94 472.75,189.01 473,189.06 473.25,189.09 473.5,189.1 473.75,189.1 474,189.1 474.25,189.09 474.5,189.08 474.75,189.07 475,189.05 475.25,189.03 475.5,189.01 475.75,188.99 476,188.97 476.25,188.94 476.5,188.91 476.75,188.88 477,188.84 477.25,188.8 477.5,188.77 477.75,188.72 478,188.68 478.25,188.64 478.5,188.59 478.75,188.54 479,188.49 479.25,188.44 479.5,188.39 479.75,188.33 480,188.27 480.25,188.22 480.5,188.16 480.75,188.1 481,188.03 481.25,187.97 481.5,187.9 481.75,187.84 482,187.77 482.25,187.7 482.5,187.63 482.75,187.56 483,187.49 483.25,187.42 483.5,187.35 483.75,187.27 484,187.2 484.25,187.12 484.5,187.05 484.75,186.97 485,186.89 485.25,186.82 485.5,186.74 485.75,186.66 486,186.58 486.25,186.51 486.5,186.43 486.75,186.35 487,186.27 487.25,186.19 487.5,186.11 487.75,186.04 488,185.96 488.25,185.88 488.5,185.8 488.75,185.72 489,185.65 489.25,185.57 489.5,185.5 489.75,185.42 490,185.35 490.25,185.27 490.5,185.2 490.75,185.13"/>
</g>
<g>
<line x1="295" y1="355.76" x2="484.21" y2="355.76" stroke="#222" stroke-width="0.9" />
<line x1="295" y1="355.76" x2="295" y2="358.96" stroke="#222" stroke-width="0.9" />
<text transform="translate(295,367.56) scale(0.09149,0.0798)" font-size="100" text-anchor="middle" font-weight="normal" fill="#000">0</text>
<line x1="326.54" y1="355.76" x2="326.54" y2="358.96" stroke="#222" stroke-width="0.9" />
<text transform="translate(326.54,367.56) scale(0.09149,0.0798)" font-size="100" text-anchor="middle" font-weight="normal" fill="#000">5</text>
<line x1="358.07" y1="355.76" x2="358.07" y2="358.96" stroke="#222" stroke-width="0.9" />
<text transform="translate(358.07,367.56) scale(0.09149,0.0798)" font-size="100" text-anchor="middle" font-weight="normal" fill="#000">10</text>
<line x1="389.61" y1="355.76" x2="389.61" y2="358.96" stroke="#222" stroke-width="0.9" />
<text transform="translate(389.61,367.56) scale(0.09149,0.0798)" font-size="100" text-anchor="middle" font-weight="normal" fill="#000">15</text>
<line x1="421.14" y1="355.76" x2="421.14" y2="358.96" stroke="#222" stroke-width="0.9" />
<text transform="translate(421.14,367.56) scale(0.09149,0.0798)" font-size="100" text-anchor="middle" font-weight="normal" fill="#000">20</text>
<line x1="452.68" y1="355.76" x2="452.68" y2="358.96" stroke="#222" stroke-width="0.9" />
<text transform="translate(452.68,367.56) scale(0.09149,0.0798)" font-size="100" text-anchor="middle" font-weight="normal" fill="#000">25</text>
<line x1="484.21" y1="355.76" x2="484.21" y2="358.96" stroke="#222" stroke-width="0.9" />
<text transform="translate(484.21,367.56) scale(0.09149,0.0798)" font-size="100" text-anchor="middle" font-weight="normal" fill="#000">30</text>
<text transform="translate(388.8,379.26) scale(0.09149,0.0742)" font-size="100" text-anchor="middle" font-weight="normal" fill="#000">Lag (ms)</text>
<line x1="287.3" y1="279.76" x2="287.3" y2="352.86" stroke="#222" stroke-width="0.9" />
<line x1="282.9" y1="279.76" x2="287.3" y2="279.76" stroke="#222" stroke-width="0.9" />
<line x1="282.9" y1="298.03" x2="287.3" y2="298.03" stroke="#222" stroke-width="0.9" />
<line x1="282.9" y1="316.31" x2="287.3" y2="316.31" stroke="#222" stroke-width="0.9" />
<line x1="282.9" y1="334.58" x2="287.3" y2="334.58" stroke="#222" stroke-width="0.9" />
<line x1="282.9" y1="352.86" x2="287.3" y2="352.86" stroke="#222" stroke-width="0.9" />
<text transform="translate(277.2,279.76) rotate(-90) scale(0.07,0.09499)" font-size="100" text-anchor="middle" fill="#000">1.0</text>
<text transform="translate(277.2,298.03) rotate(-90) scale(0.07,0.09499)" font-size="100" text-anchor="middle" fill="#000">0.5</text>
<text transform="translate(277.2,316.31) rotate(-90) scale(0.07,0.09499)" font-size="100" text-anchor="middle" fill="#000">0.0</text>
<text transform="translate(277.2,352.86) rotate(-90) scale(0.07,0.09499)" font-size="100" text-anchor="middle" fill="#000">-1.0</text>
<text transform="translate(263.9,316.31) rotate(-90) scale(0.07,0.09002)" font-size="100" text-anchor="middle" fill="#000">ACF</text>
<line x1="287.3" y1="316.31" x2="490" y2="316.31" stroke="#4a4a4a" stroke-width="0.9" stroke-dasharray="2.4,2.6"/>
<line x1="318.34" y1="272.96" x2="318.34" y2="355.76" stroke="#4a4a4a" stroke-width="0.9" stroke-dasharray="2.3,2.4"/>
<text transform="translate(318.34,268.86) scale(0.07319,0.0644)" font-size="100" text-anchor="middle" font-weight="normal" fill="#000">3.7 ms</text>
<polyline fill="none" stroke="#9a9a9a" stroke-width="1.0" stroke-linejoin="round"  points="295,279.76 295.32,279.76 295.63,279.76 295.95,279.76 296.26,279.76 296.58,279.76 296.89,279.76 297.21,279.76 297.52,279.76 297.84,279.76 298.15,279.76 298.47,279.76 298.78,279.76 299.1,279.76 299.41,279.76 299.73,279.76 300.05,279.77 300.36,279.77 300.68,279.77 300.99,279.77 301.31,279.78 301.62,279.78 301.94,279.78 302.25,279.79 302.57,279.79 302.88,279.8 303.2,279.8 303.51,279.81 303.83,279.81 304.15,279.82 304.46,279.82 304.78,279.83 305.09,279.83 305.41,279.84 305.72,279.84 306.04,279.85 306.35,279.86 306.67,279.86 306.98,279.87 307.3,279.88 307.61,279.89 307.93,279.9 308.24,279.9 308.56,279.91 308.88,279.92 309.19,279.93 309.51,279.94 309.82,279.95 310.14,279.96 310.45,279.97 310.77,279.98 311.08,279.99 311.4,280 311.71,280.01 312.03,280.02 312.34,280.03 312.66,280.04 312.97,280.05 313.29,280.06 313.61,280.07 313.92,280.09 314.24,280.1 314.55,280.11 314.87,280.12 315.18,280.14 315.5,280.15 315.81,280.16 316.13,280.18 316.44,280.19 316.76,280.21 317.07,280.22 317.39,280.23 317.71,280.25 318.02,280.26 318.34,280.28 318.65,280.29 318.97,280.31 319.28,280.33 319.6,280.34 319.91,280.36 320.23,280.37 320.54,280.39 320.86,280.41 321.17,280.42 321.49,280.44 321.8,280.46 322.12,280.48 322.44,280.49 322.75,280.51 323.07,280.53 323.38,280.55 323.7,280.57 324.01,280.59 324.33,280.61 324.64,280.63 324.96,280.65 325.27,280.66 325.59,280.68 325.9,280.7 326.22,280.73 326.54,280.75 326.85,280.77 327.17,280.79 327.48,280.81 327.8,280.83 328.11,280.85 328.43,280.87 328.74,280.9 329.06,280.92 329.37,280.94 329.69,280.96 330,280.99 330.32,281.01 330.63,281.03 330.95,281.05 331.27,281.08 331.58,281.1 331.9,281.13 332.21,281.15 332.53,281.17 332.84,281.2 333.16,281.22 333.47,281.25 333.79,281.27 334.1,281.3 334.42,281.32 334.73,281.35 335.05,281.38 335.36,281.4 335.68,281.43 336,281.45 336.31,281.48 336.63,281.51 336.94,281.53 337.26,281.56 337.57,281.59 337.89,281.62 338.2,281.64 338.52,281.67 338.83,281.7 339.15,281.73 339.46,281.76 339.78,281.79 340.1,281.81 340.41,281.84 340.73,281.87 341.04,281.9 341.36,281.93 341.67,281.96 341.99,281.99 342.3,282.02 342.62,282.05 342.93,282.08 343.25,282.11 343.56,282.14 343.88,282.17 344.19,282.21 344.51,282.24 344.83,282.27 345.14,282.3 345.46,282.33 345.77,282.36 346.09,282.4 346.4,282.43 346.72,282.46 347.03,282.49 347.35,282.53 347.66,282.56 347.98,282.59 348.29,282.63 348.61,282.66 348.92,282.69 349.24,282.73 349.56,282.76 349.87,282.8 350.19,282.83 350.5,282.86 350.82,282.9 351.13,282.93 351.45,282.97 351.76,283 352.08,283.04 352.39,283.08 352.71,283.11 353.02,283.15 353.34,283.18 353.66,283.22 353.97,283.26 354.29,283.29 354.6,283.33 354.92,283.36 355.23,283.4 355.55,283.44 355.86,283.48 356.18,283.51 356.49,283.55 356.81,283.59 357.12,283.63 357.44,283.66 357.75,283.7 358.07,283.74 358.39,283.78 358.7,283.82 359.02,283.86 359.33,283.9 359.65,283.93 359.96,283.97 360.28,284.01 360.59,284.05 360.91,284.09 361.22,284.13 361.54,284.17 361.85,284.21 362.17,284.25 362.48,284.29 362.8,284.33 363.12,284.37 363.43,284.41 363.75,284.45 364.06,284.5 364.38,284.54 364.69,284.58 365.01,284.62 365.32,284.66 365.64,284.7 365.95,284.74 366.27,284.79 366.58,284.83 366.9,284.87 367.22,284.91 367.53,284.95 367.85,285 368.16,285.04 368.48,285.08 368.79,285.12 369.11,285.17 369.42,285.21 369.74,285.25 370.05,285.3 370.37,285.34 370.68,285.38 371,285.43 371.31,285.47 371.63,285.52 371.95,285.56 372.26,285.6 372.58,285.65 372.89,285.69 373.21,285.74 373.52,285.78 373.84,285.83 374.15,285.87 374.47,285.92 374.78,285.96 375.1,286.01 375.41,286.05 375.73,286.1 376.04,286.14 376.36,286.19 376.68,286.24 376.99,286.28 377.31,286.33 377.62,286.37 377.94,286.42 378.25,286.47 378.57,286.51 378.88,286.56 379.2,286.61 379.51,286.65 379.83,286.7 380.14,286.75 380.46,286.79 380.78,286.84 381.09,286.89 381.41,286.93 381.72,286.98 382.04,287.03 382.35,287.08 382.67,287.12 382.98,287.17 383.3,287.22 383.61,287.27 383.93,287.31 384.24,287.36 384.56,287.41 384.87,287.46 385.19,287.51 385.51,287.56 385.82,287.6 386.14,287.65 386.45,287.7 386.77,287.75 387.08,287.8 387.4,287.85 387.71,287.9 388.03,287.95 388.34,287.99 388.66,288.04 388.97,288.09 389.29,288.14 389.61,288.19 389.92,288.24 390.24,288.29 390.55,288.34 390.87,288.39 391.18,288.44 391.5,288.49 391.81,288.54 392.13,288.59 392.44,288.64 392.76,288.69 393.07,288.74 393.39,288.79 393.7,288.84 394.02,288.89 394.34,288.94 394.65,288.99 394.97,289.04 395.28,289.09 395.6,289.14 395.91,289.19 396.23,289.24 396.54,289.29 396.86,289.34 397.17,289.39 397.49,289.45 397.8,289.5 398.12,289.55 398.43,289.6 398.75,289.65 399.07,289.7 399.38,289.75 399.7,289.8 400.01,289.85 400.33,289.9 400.64,289.96 400.96,290.01 401.27,290.06 401.59,290.11 401.9,290.16 402.22,290.21 402.53,290.26 402.85,290.32 403.17,290.37 403.48,290.42 403.8,290.47 404.11,290.52 404.43,290.57 404.74,290.63 405.06,290.68 405.37,290.73 405.69,290.78 406,290.83 406.32,290.88 406.63,290.94 406.95,290.99 407.26,291.04 407.58,291.09 407.9,291.14 408.21,291.19 408.53,291.25 408.84,291.3 409.16,291.35 409.47,291.4 409.79,291.45 410.1,291.51 410.42,291.56 410.73,291.61 411.05,291.66 411.36,291.71 411.68,291.77 411.99,291.82 412.31,291.87 412.63,291.92 412.94,291.97 413.26,292.03 413.57,292.08 413.89,292.13 414.2,292.18 414.52,292.23 414.83,292.28 415.15,292.34 415.46,292.39 415.78,292.44 416.09,292.49 416.41,292.54 416.73,292.6 417.04,292.65 417.36,292.7 417.67,292.75 417.99,292.8 418.3,292.86 418.62,292.91 418.93,292.96 419.25,293.01 419.56,293.06 419.88,293.11 420.19,293.17 420.51,293.22 420.82,293.27 421.14,293.32 421.46,293.37 421.77,293.42 422.09,293.47 422.4,293.53 422.72,293.58 423.03,293.63 423.35,293.68 423.66,293.73 423.98,293.78 424.29,293.83 424.61,293.88 424.92,293.94 425.24,293.99 425.55,294.04 425.87,294.09 426.19,294.14 426.5,294.19 426.82,294.24 427.13,294.29 427.45,294.34 427.76,294.39 428.08,294.44 428.39,294.49 428.71,294.55 429.02,294.6 429.34,294.65 429.65,294.7 429.97,294.75 430.29,294.8 430.6,294.85 430.92,294.9 431.23,294.95 431.55,295 431.86,295.05 432.18,295.1 432.49,295.15 432.81,295.2 433.12,295.25 433.44,295.29 433.75,295.34 434.07,295.39 434.38,295.44 434.7,295.49 435.02,295.54 435.33,295.59 435.65,295.64 435.96,295.69 436.28,295.74 436.59,295.79 436.91,295.83 437.22,295.88 437.54,295.93 437.85,295.98 438.17,296.03 438.48,296.08 438.8,296.12 439.11,296.17 439.43,296.22 439.75,296.27 440.06,296.32 440.38,296.36 440.69,296.41 441.01,296.46 441.32,296.5 441.64,296.55 441.95,296.6 442.27,296.65 442.58,296.69 442.9,296.74 443.21,296.79 443.53,296.83 443.85,296.88 444.16,296.92 444.48,296.97 444.79,297.02 445.11,297.06 445.42,297.11 445.74,297.15 446.05,297.2 446.37,297.25 446.68,297.29 447,297.34 447.31,297.38 447.63,297.43 447.94,297.47 448.26,297.51 448.58,297.56 448.89,297.6 449.21,297.65 449.52,297.69 449.84,297.74 450.15,297.78 450.47,297.82 450.78,297.87 451.1,297.91 451.41,297.95 451.73,298 452.04,298.04 452.36,298.08 452.68,298.12 452.99,298.17 453.31,298.21 453.62,298.25 453.94,298.29 454.25,298.34 454.57,298.38 454.88,298.42 455.2,298.46 455.51,298.5 455.83,298.54 456.14,298.58 456.46,298.62 456.77,298.66 457.09,298.7 457.41,298.74 457.72,298.78 458.04,298.82 458.35,298.86 458.67,298.9 458.98,298.94 459.3,298.98 459.61,299.02 459.93,299.06 460.24,299.1 460.56,299.14 460.87,299.17 461.19,299.21 461.5,299.25 461.82,299.29 462.14,299.32 462.45,299.36 462.77,299.4 463.08,299.44 463.4,299.47 463.71,299.51 464.03,299.55 464.34,299.58 464.66,299.62 464.97,299.65 465.29,299.69 465.6,299.72 465.92,299.76 466.24,299.79 466.55,299.83 466.87,299.86 467.18,299.9 467.5,299.93 467.81,299.96 468.13,300 468.44,300.03 468.76,300.06 469.07,300.1 469.39,300.13 469.7,300.16 470.02,300.19 470.33,300.23 470.65,300.26 470.97,300.29 471.28,300.32 471.6,300.35 471.91,300.38 472.23,300.41 472.54,300.44 472.86,300.47 473.17,300.5 473.49,300.53 473.8,300.56 474.12,300.59 474.43,300.62 474.75,300.65 475.06,300.67 475.38,300.7 475.7,300.73 476.01,300.76 476.33,300.79 476.64,300.81 476.96,300.84 477.27,300.87 477.59,300.89 477.9,300.92 478.22,300.94 478.53,300.97 478.85,300.99 479.16,301.02 479.48,301.04 479.8,301.07 480.11,301.09 480.43,301.12 480.74,301.14 481.06,301.16 481.37,301.18 481.69,301.21 482,301.23 482.32,301.25 482.63,301.27 482.95,301.29 483.26,301.32 483.58,301.34 483.89,301.36 484.21,301.38 484.53,301.4 484.84,301.42 485.16,301.44 485.47,301.46 485.79,301.47 486.1,301.49 486.42,301.51 486.73,301.53 487.05,301.55 487.36,301.56 487.68,301.58 487.99,301.6 488.31,301.61 488.62,301.63 488.94,301.65 489.26,301.66 489.57,301.68 489.89,301.69 490.2,301.7 490.52,301.72 490.83,301.73 491.15,301.75 491.46,301.76"/>
<polyline fill="none" stroke="#3a3192" stroke-width="1.1" stroke-linejoin="round"  points="295,279.76 295.25,279.78 295.5,279.84 295.75,279.94 296,280.09 296.25,280.27 296.5,280.48 296.75,280.74 297,281.03 297.25,281.35 297.5,281.71 297.75,282.1 298,282.52 298.25,282.97 298.5,283.45 298.75,283.97 299,284.51 299.25,285.07 299.5,285.67 299.75,286.28 300,286.93 300.25,287.59 300.5,288.28 300.75,289 301,289.73 301.25,290.48 301.5,291.25 301.75,292.04 302,292.84 302.25,293.66 302.5,294.5 302.75,295.35 303,296.22 303.25,297.09 303.5,297.98 303.75,298.88 304,299.79 304.25,300.7 304.5,301.63 304.75,302.56 305,303.5 305.25,304.44 305.5,305.39 305.75,306.34 306,307.29 306.25,308.24 306.5,309.2 306.75,310.15 307,311.1 307.25,312.05 307.5,313 307.75,313.94 308,314.88 308.25,315.81 308.5,316.73 308.75,317.64 309,318.55 309.25,319.45 309.5,320.33 309.75,321.21 310,322.07 310.25,322.92 310.5,323.75 310.75,324.57 311,325.37 311.25,326.16 311.5,326.93 311.75,327.67 312,328.4 312.25,329.11 312.5,329.8 312.75,330.46 313,331.1 313.25,331.71 313.5,332.3 313.75,332.86 314,333.4 314.25,333.9 314.5,334.38 314.75,334.83 315,335.25 315.25,335.63 315.5,335.98 315.75,336.3 316,336.58 316.25,336.83 316.5,337.04 316.75,337.21 317,337.35 317.25,337.44 317.5,337.49 317.75,337.51 318,337.49 318.25,337.45 318.5,337.39 318.75,337.31 319,337.21 319.25,337.09 319.5,336.94 319.75,336.78 320,336.6 320.25,336.4 320.5,336.18 320.75,335.94 321,335.69 321.25,335.42 321.5,335.13 321.75,334.83 322,334.51 322.25,334.18 322.5,333.83 322.75,333.47 323,333.1 323.25,332.72 323.5,332.32 323.75,331.91 324,331.49 324.25,331.06 324.5,330.62 324.75,330.17 325,329.71 325.25,329.24 325.5,328.76 325.75,328.28 326,327.78 326.25,327.29 326.5,326.78 326.75,326.27 327,325.75 327.25,325.23 327.5,324.71 327.75,324.18 328,323.65 328.25,323.12 328.5,322.58 328.75,322.04 329,321.5 329.25,320.96 329.5,320.42 329.75,319.88 330,319.34 330.25,318.8 330.5,318.27 330.75,317.73 331,317.2 331.25,316.67 331.5,316.15 331.75,315.63 332,315.11 332.25,314.6 332.5,314.1 332.75,313.6 333,313.11 333.25,312.62 333.5,312.15 333.75,311.68 334,311.22 334.25,310.77 334.5,310.33 334.75,309.9 335,309.48 335.25,309.07 335.5,308.67 335.75,308.29 336,307.91 336.25,307.55 336.5,307.21 336.75,306.88 337,306.56 337.25,306.26 337.5,305.97 337.75,305.7 338,305.45 338.25,305.21 338.5,304.99 338.75,304.79 339,304.61 339.25,304.45 339.5,304.3 339.75,304.18 340,304.08 340.25,304 340.5,303.94 340.75,303.9 341,303.88 341.25,303.89 341.5,303.9 341.75,303.93 342,303.97 342.25,304.02 342.5,304.08 342.75,304.15 343,304.23 343.25,304.32 343.5,304.42 343.75,304.53 344,304.65 344.25,304.78 344.5,304.91 344.75,305.06 345,305.21 345.25,305.37 345.5,305.54 345.75,305.71 346,305.89 346.25,306.08 346.5,306.28 346.75,306.48 347,306.69 347.25,306.9 347.5,307.12 347.75,307.34 348,307.57 348.25,307.8 348.5,308.04 348.75,308.28 349,308.53 349.25,308.78 349.5,309.03 349.75,309.29 350,309.54 350.25,309.81 350.5,310.07 350.75,310.33 351,310.6 351.25,310.87 351.5,311.14 351.75,311.41 352,311.68 352.25,311.95 352.5,312.22 352.75,312.49 353,312.76 353.25,313.04 353.5,313.31 353.75,313.57 354,313.84 354.25,314.11 354.5,314.37 354.75,314.63 355,314.89 355.25,315.14 355.5,315.4 355.75,315.65 356,315.89 356.25,316.14 356.5,316.37 356.75,316.61 357,316.84 357.25,317.06 357.5,317.28 357.75,317.49 358,317.7 358.25,317.91 358.5,318.1 358.75,318.29 359,318.47 359.25,318.65 359.5,318.82 359.75,318.98 360,319.13 360.25,319.28 360.5,319.42 360.75,319.55 361,319.67 361.25,319.78 361.5,319.88 361.75,319.97 362,320.05 362.25,320.13 362.5,320.19 362.75,320.24 363,320.28 363.25,320.31 363.5,320.32 363.75,320.33 364,320.33 364.25,320.33 364.5,320.32 364.75,320.32 365,320.31 365.25,320.3 365.5,320.3 365.75,320.29 366,320.27 366.25,320.26 366.5,320.25 366.75,320.23 367,320.21 367.25,320.2 367.5,320.18 367.75,320.16 368,320.13 368.25,320.11 368.5,320.09 368.75,320.06 369,320.04 369.25,320.01 369.5,319.98 369.75,319.95 370,319.92 370.25,319.89 370.5,319.86 370.75,319.82 371,319.79 371.25,319.75 371.5,319.71 371.75,319.68 372,319.64 372.25,319.6 372.5,319.56 372.75,319.52 373,319.48 373.25,319.43 373.5,319.39 373.75,319.35 374,319.3 374.25,319.26 374.5,319.21 374.75,319.16 375,319.12 375.25,319.07 375.5,319.02 375.75,318.97 376,318.92 376.25,318.87 376.5,318.81 376.75,318.76 377,318.71 377.25,318.66 377.5,318.6 377.75,318.55 378,318.49 378.25,318.44 378.5,318.38 378.75,318.33 379,318.27 379.25,318.21 379.5,318.15 379.75,318.1 380,318.04 380.25,317.98 380.5,317.92 380.75,317.86 381,317.8 381.25,317.74 381.5,317.68 381.75,317.62 382,317.56 382.25,317.5 382.5,317.44 382.75,317.38 383,317.32 383.25,317.26 383.5,317.2 383.75,317.14 384,317.07 384.25,317.01 384.5,316.95 384.75,316.89 385,316.83 385.25,316.77 385.5,316.7 385.75,316.64 386,316.58 386.25,316.52 386.5,316.46 386.75,316.4 387,316.34 387.25,316.28 387.5,316.21 387.75,316.15 388,316.09 388.25,316.03 388.5,315.97 388.75,315.91 389,315.85 389.25,315.8 389.5,315.74 389.75,315.68 390,315.62 390.25,315.56 390.5,315.5 390.75,315.45 391,315.39 391.25,315.33 391.5,315.28 391.75,315.22 392,315.17 392.25,315.11 392.5,315.06 392.75,315.01 393,314.95 393.25,314.9 393.5,314.85 393.75,314.8 394,314.75 394.25,314.7 394.5,314.65 394.75,314.6 395,314.55 395.25,314.51 395.5,314.46 395.75,314.41 396,314.37 396.25,314.33 396.5,314.28 396.75,314.24 397,314.2 397.25,314.16 397.5,314.12 397.75,314.08 398,314.04 398.25,314 398.5,313.97 398.75,313.93 399,313.89 399.25,313.86 399.5,313.83 399.75,313.8 400,313.77 400.25,313.74 400.5,313.71 400.75,313.68 401,313.66 401.25,313.63 401.5,313.61 401.75,313.58 402,313.56 402.25,313.54 402.5,313.52 402.75,313.5 403,313.49 403.25,313.47 403.5,313.46 403.75,313.44 404,313.43 404.25,313.42 404.5,313.41 404.75,313.4 405,313.4 405.25,313.39 405.5,313.39 405.75,313.39 406,313.39 406.25,313.39 406.5,313.4 406.75,313.42 407,313.44 407.25,313.47 407.5,313.51 407.75,313.56 408,313.61 408.25,313.66 408.5,313.72 408.75,313.79 409,313.87 409.25,313.94 409.5,314.03 409.75,314.11 410,314.21 410.25,314.3 410.5,314.41 410.75,314.51 411,314.62 411.25,314.73 411.5,314.85 411.75,314.97 412,315.09 412.25,315.22 412.5,315.35 412.75,315.48 413,315.62 413.25,315.75 413.5,315.89 413.75,316.03 414,316.17 414.25,316.32 414.5,316.46 414.75,316.61 415,316.76 415.25,316.9 415.5,317.05 415.75,317.2 416,317.35 416.25,317.5 416.5,317.65 416.75,317.8 417,317.95 417.25,318.09 417.5,318.24 417.75,318.39 418,318.53 418.25,318.68 418.5,318.82 418.75,318.96 419,319.09 419.25,319.23 419.5,319.36 419.75,319.5 420,319.62 420.25,319.75 420.5,319.87 420.75,319.99 421,320.11 421.25,320.22 421.5,320.33 421.75,320.43 422,320.53 422.25,320.63 422.5,320.72 422.75,320.81 423,320.89 423.25,320.97 423.5,321.04 423.75,321.1 424,321.16 424.25,321.22 424.5,321.27 424.75,321.31 425,321.35 425.25,321.38 425.5,321.4 425.75,321.42 426,321.42 426.25,321.43 426.5,321.42 426.75,321.4 427,321.36 427.25,321.32 427.5,321.27 427.75,321.2 428,321.12 428.25,321.04 428.5,320.94 428.75,320.84 429,320.73 429.25,320.61 429.5,320.48 429.75,320.34 430,320.19 430.25,320.04 430.5,319.88 430.75,319.71 431,319.54 431.25,319.36 431.5,319.18 431.75,318.99 432,318.79 432.25,318.59 432.5,318.39 432.75,318.18 433,317.97 433.25,317.75 433.5,317.53 433.75,317.31 434,317.09 434.25,316.86 434.5,316.64 434.75,316.41 435,316.18 435.25,315.95 435.5,315.71 435.75,315.48 436,315.25 436.25,315.02 436.5,314.79 436.75,314.56 437,314.33 437.25,314.11 437.5,313.88 437.75,313.66 438,313.44 438.25,313.23 438.5,313.01 438.75,312.8 439,312.6 439.25,312.4 439.5,312.2 439.75,312.01 440,311.83 440.25,311.65 440.5,311.47 440.75,311.31 441,311.14 441.25,310.99 441.5,310.84 441.75,310.7 442,310.57 442.25,310.45 442.5,310.34 442.75,310.23 443,310.13 443.25,310.05 443.5,309.97 443.75,309.9 444,309.85 444.25,309.8 444.5,309.77 444.75,309.74 445,309.73 445.25,309.73 445.5,309.74 445.75,309.76 446,309.79 446.25,309.82 446.5,309.86 446.75,309.91 447,309.97 447.25,310.04 447.5,310.11 447.75,310.19 448,310.27 448.25,310.37 448.5,310.47 448.75,310.57 449,310.69 449.25,310.8 449.5,310.93 449.75,311.06 450,311.19 450.25,311.33 450.5,311.48 450.75,311.63 451,311.78 451.25,311.94 451.5,312.1 451.75,312.27 452,312.44 452.25,312.62 452.5,312.8 452.75,312.98 453,313.17 453.25,313.35 453.5,313.55 453.75,313.74 454,313.94 454.25,314.13 454.5,314.33 454.75,314.54 455,314.74 455.25,314.95 455.5,315.15 455.75,315.36 456,315.57 456.25,315.78 456.5,315.99 456.75,316.21 457,316.42 457.25,316.63 457.5,316.84 457.75,317.05 458,317.26 458.25,317.47 458.5,317.68 458.75,317.89 459,318.1 459.25,318.3 459.5,318.51 459.75,318.71 460,318.91 460.25,319.11 460.5,319.3 460.75,319.49 461,319.68 461.25,319.87 461.5,320.06 461.75,320.24 462,320.42 462.25,320.59 462.5,320.76 462.75,320.93 463,321.09 463.25,321.25 463.5,321.4 463.75,321.55 464,321.69 464.25,321.83 464.5,321.97 464.75,322.09 465,322.22 465.25,322.33 465.5,322.44 465.75,322.55 466,322.64 466.25,322.74 466.5,322.82 466.75,322.9 467,322.97 467.25,323.03 467.5,323.09 467.75,323.14 468,323.18 468.25,323.21 468.5,323.23 468.75,323.25 469,323.25 469.25,323.25 469.5,323.25 469.75,323.24 470,323.22 470.25,323.21 470.5,323.19 470.75,323.16 471,323.13 471.25,323.1 471.5,323.06 471.75,323.02 472,322.97 472.25,322.92 472.5,322.87 472.75,322.82 473,322.76 473.25,322.7 473.5,322.63 473.75,322.56 474,322.49 474.25,322.41 474.5,322.34 474.75,322.26 475,322.17 475.25,322.09 475.5,322 475.75,321.9 476,321.81 476.25,321.71 476.5,321.61 476.75,321.51 477,321.41 477.25,321.3 477.5,321.19 477.75,321.08 478,320.97 478.25,320.85 478.5,320.74 478.75,320.62 479,320.5 479.25,320.38 479.5,320.25 479.75,320.13 480,320 480.25,319.87 480.5,319.74 480.75,319.61 481,319.48 481.25,319.35 481.5,319.21 481.75,319.07 482,318.94 482.25,318.8 482.5,318.66 482.75,318.52 483,318.38 483.25,318.24 483.5,318.1 483.75,317.96 484,317.82 484.25,317.67 484.5,317.53 484.75,317.39 485,317.24 485.25,317.1 485.5,316.96 485.75,316.81 486,316.67 486.25,316.53 486.5,316.38 486.75,316.24 487,316.1 487.25,315.96 487.5,315.81 487.75,315.67 488,315.53 488.25,315.39 488.5,315.25 488.75,315.11 489,314.98 489.25,314.84 489.5,314.71 489.75,314.57 490,314.44 490.25,314.31 490.5,314.17 490.75,314.05"/>
</g>
<g>
<line x1="295" y1="485.89" x2="484.21" y2="485.89" stroke="#222" stroke-width="0.9" />
<line x1="295" y1="485.89" x2="295" y2="489.09" stroke="#222" stroke-width="0.9" />
<text transform="translate(295,497.69) scale(0.09149,0.0798)" font-size="100" text-anchor="middle" font-weight="normal" fill="#000">0</text>
<line x1="326.54" y1="485.89" x2="326.54" y2="489.09" stroke="#222" stroke-width="0.9" />
<text transform="translate(326.54,497.69) scale(0.09149,0.0798)" font-size="100" text-anchor="middle" font-weight="normal" fill="#000">5</text>
<line x1="358.07" y1="485.89" x2="358.07" y2="489.09" stroke="#222" stroke-width="0.9" />
<text transform="translate(358.07,497.69) scale(0.09149,0.0798)" font-size="100" text-anchor="middle" font-weight="normal" fill="#000">10</text>
<line x1="389.61" y1="485.89" x2="389.61" y2="489.09" stroke="#222" stroke-width="0.9" />
<text transform="translate(389.61,497.69) scale(0.09149,0.0798)" font-size="100" text-anchor="middle" font-weight="normal" fill="#000">15</text>
<line x1="421.14" y1="485.89" x2="421.14" y2="489.09" stroke="#222" stroke-width="0.9" />
<text transform="translate(421.14,497.69) scale(0.09149,0.0798)" font-size="100" text-anchor="middle" font-weight="normal" fill="#000">20</text>
<line x1="452.68" y1="485.89" x2="452.68" y2="489.09" stroke="#222" stroke-width="0.9" />
<text transform="translate(452.68,497.69) scale(0.09149,0.0798)" font-size="100" text-anchor="middle" font-weight="normal" fill="#000">25</text>
<line x1="484.21" y1="485.89" x2="484.21" y2="489.09" stroke="#222" stroke-width="0.9" />
<text transform="translate(484.21,497.69) scale(0.09149,0.0798)" font-size="100" text-anchor="middle" font-weight="normal" fill="#000">30</text>
<text transform="translate(388.8,509.39) scale(0.09149,0.0742)" font-size="100" text-anchor="middle" font-weight="normal" fill="#000">Lag (ms)</text>
<line x1="287.3" y1="409.89" x2="287.3" y2="482.99" stroke="#222" stroke-width="0.9" />
<line x1="282.9" y1="409.89" x2="287.3" y2="409.89" stroke="#222" stroke-width="0.9" />
<line x1="282.9" y1="428.16" x2="287.3" y2="428.16" stroke="#222" stroke-width="0.9" />
<line x1="282.9" y1="446.44" x2="287.3" y2="446.44" stroke="#222" stroke-width="0.9" />
<line x1="282.9" y1="464.71" x2="287.3" y2="464.71" stroke="#222" stroke-width="0.9" />
<line x1="282.9" y1="482.99" x2="287.3" y2="482.99" stroke="#222" stroke-width="0.9" />
<text transform="translate(277.2,409.89) rotate(-90) scale(0.07,0.09499)" font-size="100" text-anchor="middle" fill="#000">1.0</text>
<text transform="translate(277.2,428.16) rotate(-90) scale(0.07,0.09499)" font-size="100" text-anchor="middle" fill="#000">0.5</text>
<text transform="translate(277.2,446.44) rotate(-90) scale(0.07,0.09499)" font-size="100" text-anchor="middle" fill="#000">0.0</text>
<text transform="translate(277.2,482.99) rotate(-90) scale(0.07,0.09499)" font-size="100" text-anchor="middle" fill="#000">-1.0</text>
<text transform="translate(263.9,446.44) rotate(-90) scale(0.07,0.09002)" font-size="100" text-anchor="middle" fill="#000">ACF</text>
<line x1="287.3" y1="446.44" x2="490" y2="446.44" stroke="#4a4a4a" stroke-width="0.9" stroke-dasharray="2.4,2.6"/>
<line x1="310.14" y1="403.09" x2="310.14" y2="485.89" stroke="#4a4a4a" stroke-width="0.9" stroke-dasharray="2.3,2.4"/>
<text transform="translate(310.14,398.99) scale(0.07319,0.0644)" font-size="100" text-anchor="middle" font-weight="normal" fill="#000">2.4 ms</text>
<polyline fill="none" stroke="#9a9a9a" stroke-width="1.0" stroke-linejoin="round"  points="295,409.89 295.32,409.9 295.63,409.91 295.95,409.92 296.26,409.93 296.58,409.94 296.89,409.95 297.21,409.96 297.52,409.97 297.84,409.98 298.15,409.99 298.47,410 298.78,410.01 299.1,410.03 299.41,410.04 299.73,410.05 300.05,410.06 300.36,410.07 300.68,410.09 300.99,410.1 301.31,410.11 301.62,410.13 301.94,410.14 302.25,410.15 302.57,410.17 302.88,410.18 303.2,410.2 303.51,410.21 303.83,410.22 304.15,410.24 304.46,410.25 304.78,410.27 305.09,410.29 305.41,410.3 305.72,410.32 306.04,410.33 306.35,410.35 306.67,410.37 306.98,410.38 307.3,410.4 307.61,410.42 307.93,410.43 308.24,410.45 308.56,410.47 308.88,410.48 309.19,410.5 309.51,410.52 309.82,410.54 310.14,410.56 310.45,410.58 310.77,410.6 311.08,410.61 311.4,410.63 311.71,410.65 312.03,410.67 312.34,410.69 312.66,410.71 312.97,410.73 313.29,410.75 313.61,410.77 313.92,410.79 314.24,410.82 314.55,410.84 314.87,410.86 315.18,410.88 315.5,410.9 315.81,410.92 316.13,410.94 316.44,410.97 316.76,410.99 317.07,411.01 317.39,411.03 317.71,411.06 318.02,411.08 318.34,411.1 318.65,411.13 318.97,411.15 319.28,411.18 319.6,411.2 319.91,411.22 320.23,411.25 320.54,411.27 320.86,411.3 321.17,411.32 321.49,411.35 321.8,411.37 322.12,411.4 322.44,411.43 322.75,411.45 323.07,411.48 323.38,411.5 323.7,411.53 324.01,411.56 324.33,411.58 324.64,411.61 324.96,411.64 325.27,411.67 325.59,411.69 325.9,411.72 326.22,411.75 326.54,411.78 326.85,411.81 327.17,411.83 327.48,411.86 327.8,411.89 328.11,411.92 328.43,411.95 328.74,411.98 329.06,412.01 329.37,412.04 329.69,412.07 330,412.1 330.32,412.13 330.63,412.16 330.95,412.19 331.27,412.22 331.58,412.25 331.9,412.28 332.21,412.31 332.53,412.34 332.84,412.38 333.16,412.41 333.47,412.44 333.79,412.47 334.1,412.5 334.42,412.54 334.73,412.57 335.05,412.6 335.36,412.64 335.68,412.67 336,412.7 336.31,412.74 336.63,412.77 336.94,412.8 337.26,412.84 337.57,412.87 337.89,412.91 338.2,412.94 338.52,412.98 338.83,413.01 339.15,413.04 339.46,413.08 339.78,413.12 340.1,413.15 340.41,413.19 340.73,413.22 341.04,413.26 341.36,413.29 341.67,413.33 341.99,413.37 342.3,413.4 342.62,413.44 342.93,413.48 343.25,413.51 343.56,413.55 343.88,413.59 344.19,413.63 344.51,413.66 344.83,413.7 345.14,413.74 345.46,413.78 345.77,413.82 346.09,413.86 346.4,413.89 346.72,413.93 347.03,413.97 347.35,414.01 347.66,414.05 347.98,414.09 348.29,414.13 348.61,414.17 348.92,414.21 349.24,414.25 349.56,414.29 349.87,414.33 350.19,414.37 350.5,414.41 350.82,414.45 351.13,414.49 351.45,414.53 351.76,414.58 352.08,414.62 352.39,414.66 352.71,414.7 353.02,414.74 353.34,414.78 353.66,414.83 353.97,414.87 354.29,414.91 354.6,414.95 354.92,415 355.23,415.04 355.55,415.08 355.86,415.12 356.18,415.17 356.49,415.21 356.81,415.25 357.12,415.3 357.44,415.34 357.75,415.39 358.07,415.43 358.39,415.47 358.7,415.52 359.02,415.56 359.33,415.61 359.65,415.65 359.96,415.7 360.28,415.74 360.59,415.79 360.91,415.83 361.22,415.88 361.54,415.92 361.85,415.97 362.17,416.01 362.48,416.06 362.8,416.11 363.12,416.15 363.43,416.2 363.75,416.24 364.06,416.29 364.38,416.34 364.69,416.38 365.01,416.43 365.32,416.48 365.64,416.52 365.95,416.57 366.27,416.62 366.58,416.67 366.9,416.71 367.22,416.76 367.53,416.81 367.85,416.86 368.16,416.91 368.48,416.95 368.79,417 369.11,417.05 369.42,417.1 369.74,417.15 370.05,417.2 370.37,417.25 370.68,417.29 371,417.34 371.31,417.39 371.63,417.44 371.95,417.49 372.26,417.54 372.58,417.59 372.89,417.64 373.21,417.69 373.52,417.74 373.84,417.79 374.15,417.84 374.47,417.89 374.78,417.94 375.1,417.99 375.41,418.04 375.73,418.09 376.04,418.14 376.36,418.19 376.68,418.24 376.99,418.29 377.31,418.35 377.62,418.4 377.94,418.45 378.25,418.5 378.57,418.55 378.88,418.6 379.2,418.65 379.51,418.71 379.83,418.76 380.14,418.81 380.46,418.86 380.78,418.91 381.09,418.97 381.41,419.02 381.72,419.07 382.04,419.12 382.35,419.18 382.67,419.23 382.98,419.28 383.3,419.33 383.61,419.39 383.93,419.44 384.24,419.49 384.56,419.55 384.87,419.6 385.19,419.65 385.51,419.71 385.82,419.76 386.14,419.81 386.45,419.87 386.77,419.92 387.08,419.97 387.4,420.03 387.71,420.08 388.03,420.13 388.34,420.19 388.66,420.24 388.97,420.3 389.29,420.35 389.61,420.4 389.92,420.46 390.24,420.51 390.55,420.57 390.87,420.62 391.18,420.68 391.5,420.73 391.81,420.79 392.13,420.84 392.44,420.9 392.76,420.95 393.07,421 393.39,421.06 393.7,421.11 394.02,421.17 394.34,421.22 394.65,421.28 394.97,421.34 395.28,421.39 395.6,421.45 395.91,421.5 396.23,421.56 396.54,421.61 396.86,421.67 397.17,421.72 397.49,421.78 397.8,421.83 398.12,421.89 398.43,421.95 398.75,422 399.07,422.06 399.38,422.11 399.7,422.17 400.01,422.22 400.33,422.28 400.64,422.34 400.96,422.39 401.27,422.45 401.59,422.5 401.9,422.56 402.22,422.62 402.53,422.67 402.85,422.73 403.17,422.78 403.48,422.84 403.8,422.9 404.11,422.95 404.43,423.01 404.74,423.07 405.06,423.12 405.37,423.18 405.69,423.24 406,423.29 406.32,423.35 406.63,423.4 406.95,423.46 407.26,423.52 407.58,423.57 407.9,423.63 408.21,423.69 408.53,423.74 408.84,423.8 409.16,423.86 409.47,423.91 409.79,423.97 410.1,424.03 410.42,424.08 410.73,424.14 411.05,424.2 411.36,424.25 411.68,424.31 411.99,424.37 412.31,424.42 412.63,424.48 412.94,424.53 413.26,424.59 413.57,424.65 413.89,424.7 414.2,424.76 414.52,424.82 414.83,424.87 415.15,424.93 415.46,424.99 415.78,425.04 416.09,425.1 416.41,425.16 416.73,425.21 417.04,425.27 417.36,425.33 417.67,425.38 417.99,425.44 418.3,425.49 418.62,425.55 418.93,425.61 419.25,425.66 419.56,425.72 419.88,425.78 420.19,425.83 420.51,425.89 420.82,425.94 421.14,426 421.46,426.06 421.77,426.11 422.09,426.17 422.4,426.22 422.72,426.28 423.03,426.34 423.35,426.39 423.66,426.45 423.98,426.5 424.29,426.56 424.61,426.61 424.92,426.67 425.24,426.73 425.55,426.78 425.87,426.84 426.19,426.89 426.5,426.95 426.82,427 427.13,427.06 427.45,427.11 427.76,427.17 428.08,427.22 428.39,427.28 428.71,427.33 429.02,427.39 429.34,427.44 429.65,427.5 429.97,427.55 430.29,427.61 430.6,427.66 430.92,427.72 431.23,427.77 431.55,427.83 431.86,427.88 432.18,427.94 432.49,427.99 432.81,428.04 433.12,428.1 433.44,428.15 433.75,428.21 434.07,428.26 434.38,428.31 434.7,428.37 435.02,428.42 435.33,428.47 435.65,428.53 435.96,428.58 436.28,428.63 436.59,428.69 436.91,428.74 437.22,428.79 437.54,428.85 437.85,428.9 438.17,428.95 438.48,429 438.8,429.06 439.11,429.11 439.43,429.16 439.75,429.21 440.06,429.27 440.38,429.32 440.69,429.37 441.01,429.42 441.32,429.47 441.64,429.53 441.95,429.58 442.27,429.63 442.58,429.68 442.9,429.73 443.21,429.78 443.53,429.83 443.85,429.88 444.16,429.94 444.48,429.99 444.79,430.04 445.11,430.09 445.42,430.14 445.74,430.19 446.05,430.24 446.37,430.29 446.68,430.34 447,430.39 447.31,430.44 447.63,430.49 447.94,430.53 448.26,430.58 448.58,430.63 448.89,430.68 449.21,430.73 449.52,430.78 449.84,430.83 450.15,430.88 450.47,430.92 450.78,430.97 451.1,431.02 451.41,431.07 451.73,431.11 452.04,431.16 452.36,431.21 452.68,431.26 452.99,431.3 453.31,431.35 453.62,431.4 453.94,431.44 454.25,431.49 454.57,431.54 454.88,431.58 455.2,431.63 455.51,431.67 455.83,431.72 456.14,431.76 456.46,431.81 456.77,431.85 457.09,431.9 457.41,431.94 457.72,431.99 458.04,432.03 458.35,432.08 458.67,432.12 458.98,432.16 459.3,432.21 459.61,432.25 459.93,432.29 460.24,432.34 460.56,432.38 460.87,432.42 461.19,432.46 461.5,432.51 461.82,432.55 462.14,432.59 462.45,432.63 462.77,432.67 463.08,432.71 463.4,432.76 463.71,432.8 464.03,432.84 464.34,432.88 464.66,432.92 464.97,432.96 465.29,433 465.6,433.04 465.92,433.08 466.24,433.12 466.55,433.16 466.87,433.19 467.18,433.23 467.5,433.27 467.81,433.31 468.13,433.35 468.44,433.38 468.76,433.42 469.07,433.46 469.39,433.5 469.7,433.53 470.02,433.57 470.33,433.61 470.65,433.64 470.97,433.68 471.28,433.71 471.6,433.75 471.91,433.78 472.23,433.82 472.54,433.85 472.86,433.89 473.17,433.92 473.49,433.96 473.8,433.99 474.12,434.02 474.43,434.06 474.75,434.09 475.06,434.12 475.38,434.15 475.7,434.19 476.01,434.22 476.33,434.25 476.64,434.28 476.96,434.31 477.27,434.34 477.59,434.37 477.9,434.4 478.22,434.43 478.53,434.46 478.85,434.49 479.16,434.52 479.48,434.55 479.8,434.58 480.11,434.61 480.43,434.64 480.74,434.66 481.06,434.69 481.37,434.72 481.69,434.75 482,434.77 482.32,434.8 482.63,434.82 482.95,434.85 483.26,434.88 483.58,434.9 483.89,434.93 484.21,434.95 484.53,434.98 484.84,435 485.16,435.02 485.47,435.05 485.79,435.07 486.1,435.09 486.42,435.11 486.73,435.14 487.05,435.16 487.36,435.18 487.68,435.2 487.99,435.22 488.31,435.24 488.62,435.26 488.94,435.28 489.26,435.3 489.57,435.32 489.89,435.34 490.2,435.36 490.52,435.38 490.83,435.39 491.15,435.41 491.46,435.43"/>
<polyline fill="none" stroke="#3a3192" stroke-width="1.1" stroke-linejoin="round"  points="295,409.89 295.25,410.82 295.5,411.74 295.75,412.65 296,413.55 296.25,414.45 296.5,415.35 296.75,416.25 297,417.16 297.25,418.09 297.5,419.03 297.75,419.98 298,420.96 298.25,421.97 298.5,423.01 298.75,424.1 299,425.27 299.25,426.52 299.5,427.82 299.75,429.16 300,430.5 300.25,431.82 300.5,433.12 300.75,434.35 301,435.51 301.25,436.61 301.5,437.69 301.75,438.75 302,439.78 302.25,440.78 302.5,441.75 302.75,442.69 303,443.59 303.25,444.46 303.5,445.3 303.75,446.1 304,446.87 304.25,447.62 304.5,448.32 304.75,448.99 305,449.62 305.25,450.2 305.5,450.73 305.75,451.21 306,451.63 306.25,451.99 306.5,452.31 306.75,452.57 307,452.8 307.25,452.97 307.5,453.11 307.75,453.21 308,453.28 308.25,453.31 308.5,453.31 308.75,453.31 309,453.31 309.25,453.31 309.5,453.31 309.75,453.31 310,453.31 310.25,453.31 310.5,453.31 310.75,453.31 311,453.31 311.25,453.31 311.5,453.31 311.75,453.31 312,453.31 312.25,453.31 312.5,453.29 312.75,453.25 313,453.21 313.25,453.15 313.5,453.09 313.75,453.01 314,452.92 314.25,452.83 314.5,452.72 314.75,452.61 315,452.49 315.25,452.37 315.5,452.24 315.75,452.11 316,451.98 316.25,451.84 316.5,451.7 316.75,451.56 317,451.42 317.25,451.27 317.5,451.11 317.75,450.94 318,450.77 318.25,450.58 318.5,450.4 318.75,450.21 319,450.01 319.25,449.81 319.5,449.61 319.75,449.41 320,449.2 320.25,449 320.5,448.8 320.75,448.6 321,448.4 321.25,448.21 321.5,448.02 321.75,447.83 322,447.65 322.25,447.45 322.5,447.24 322.75,447.02 323,446.79 323.25,446.57 323.5,446.33 323.75,446.11 324,445.88 324.25,445.66 324.5,445.45 324.75,445.25 325,445.07 325.25,444.9 325.5,444.76 325.75,444.63 326,444.53 326.25,444.45 326.5,444.41 326.75,444.39 327,444.4 327.25,444.43 327.5,444.47 327.75,444.53 328,444.59 328.25,444.67 328.5,444.76 328.75,444.87 329,444.98 329.25,445.09 329.5,445.22 329.75,445.35 330,445.49 330.25,445.63 330.5,445.77 330.75,445.92 331,446.07 331.25,446.21 331.5,446.36 331.75,446.51 332,446.65 332.25,446.79 332.5,446.92 332.75,447.05 333,447.17 333.25,447.28 333.5,447.39 333.75,447.48 334,447.56 334.25,447.64 334.5,447.7 334.75,447.74 335,447.77 335.25,447.79 335.5,447.79 335.75,447.77 336,447.75 336.25,447.7 336.5,447.65 336.75,447.58 337,447.51 337.25,447.42 337.5,447.32 337.75,447.22 338,447.11 338.25,446.99 338.5,446.87 338.75,446.74 339,446.61 339.25,446.47 339.5,446.34 339.75,446.2 340,446.06 340.25,445.92 340.5,445.78 340.75,445.64 341,445.51 341.25,445.38 341.5,445.26 341.75,445.14 342,445.02 342.25,444.91 342.5,444.81 342.75,444.72 343,444.64 343.25,444.57 343.5,444.51 343.75,444.46 344,444.42 344.25,444.4 344.5,444.39 344.75,444.4 345,444.42 345.25,444.46 345.5,444.52 345.75,444.59 346,444.67 346.25,444.76 346.5,444.87 346.75,444.98 347,445.11 347.25,445.24 347.5,445.39 347.75,445.54 348,445.7 348.25,445.87 348.5,446.04 348.75,446.22 349,446.4 349.25,446.59 349.5,446.77 349.75,446.96 350,447.15 350.25,447.35 350.5,447.54 350.75,447.73 351,447.92 351.25,448.11 351.5,448.29 351.75,448.47 352,448.65 352.25,448.82 352.5,448.98 352.75,449.14 353,449.29 353.25,449.43 353.5,449.56 353.75,449.69 354,449.8 354.25,449.9 354.5,449.99 354.75,450.08 355,450.17 355.25,450.26 355.5,450.35 355.75,450.44 356,450.52 356.25,450.6 356.5,450.68 356.75,450.76 357,450.84 357.25,450.92 357.5,450.99 357.75,451.07 358,451.14 358.25,451.21 358.5,451.27 358.75,451.34 359,451.4 359.25,451.47 359.5,451.53 359.75,451.58 360,451.64 360.25,451.69 360.5,451.74 360.75,451.79 361,451.84 361.25,451.89 361.5,451.93 361.75,451.97 362,452.01 362.25,452.04 362.5,452.08 362.75,452.11 363,452.14 363.25,452.17 363.5,452.19 363.75,452.21 364,452.23 364.25,452.25 364.5,452.26 364.75,452.27 365,452.28 365.25,452.28 365.5,452.29 365.75,452.29 366,452.27 366.25,452.23 366.5,452.18 366.75,452.12 367,452.03 367.25,451.94 367.5,451.82 367.75,451.7 368,451.56 368.25,451.4 368.5,451.24 368.75,451.06 369,450.88 369.25,450.68 369.5,450.47 369.75,450.26 370,450.03 370.25,449.8 370.5,449.56 370.75,449.31 371,449.05 371.25,448.79 371.5,448.53 371.75,448.26 372,447.98 372.25,447.7 372.5,447.42 372.75,447.14 373,446.86 373.25,446.57 373.5,446.28 373.75,446 374,445.71 374.25,445.42 374.5,445.14 374.75,444.86 375,444.58 375.25,444.31 375.5,444.04 375.75,443.77 376,443.51 376.25,443.25 376.5,443 376.75,442.76 377,442.53 377.25,442.3 377.5,442.08 377.75,441.87 378,441.67 378.25,441.48 378.5,441.3 378.75,441.14 379,440.98 379.25,440.84 379.5,440.71 379.75,440.6 380,440.5 380.25,440.41 380.5,440.34 380.75,440.29 381,440.25 381.25,440.23 381.5,440.23 381.75,440.24 382,440.27 382.25,440.31 382.5,440.36 382.75,440.42 383,440.5 383.25,440.59 383.5,440.68 383.75,440.79 384,440.91 384.25,441.04 384.5,441.18 384.75,441.33 385,441.48 385.25,441.65 385.5,441.82 385.75,441.99 386,442.18 386.25,442.37 386.5,442.56 386.75,442.76 387,442.97 387.25,443.18 387.5,443.39 387.75,443.6 388,443.82 388.25,444.04 388.5,444.27 388.75,444.49 389,444.72 389.25,444.94 389.5,445.17 389.75,445.39 390,445.62 390.25,445.84 390.5,446.06 390.75,446.28 391,446.5 391.25,446.71 391.5,446.92 391.75,447.13 392,447.33 392.25,447.53 392.5,447.72 392.75,447.91 393,448.08 393.25,448.26 393.5,448.42 393.75,448.58 394,448.73 394.25,448.87 394.5,449 394.75,449.13 395,449.24 395.25,449.34 395.5,449.43 395.75,449.51 396,449.58 396.25,449.64 396.5,449.68 396.75,449.71 397,449.73 397.25,449.73 397.5,449.72 397.75,449.71 398,449.69 398.25,449.66 398.5,449.63 398.75,449.59 399,449.54 399.25,449.49 399.5,449.43 399.75,449.36 400,449.29 400.25,449.22 400.5,449.14 400.75,449.06 401,448.97 401.25,448.89 401.5,448.79 401.75,448.7 402,448.6 402.25,448.49 402.5,448.39 402.75,448.28 403,448.18 403.25,448.07 403.5,447.95 403.75,447.84 404,447.73 404.25,447.62 404.5,447.5 404.75,447.39 405,447.28 405.25,447.16 405.5,447.05 405.75,446.94 406,446.83 406.25,446.73 406.5,446.62 406.75,446.52 407,446.42 407.25,446.32 407.5,446.23 407.75,446.13 408,446.05 408.25,445.96 408.5,445.88 408.75,445.81 409,445.74 409.25,445.67 409.5,445.61 409.75,445.56 410,445.51 410.25,445.46 410.5,445.43 410.75,445.4 411,445.37 411.25,445.35 411.5,445.35 411.75,445.34 412,445.36 412.25,445.38 412.5,445.43 412.75,445.48 413,445.55 413.25,445.63 413.5,445.72 413.75,445.82 414,445.94 414.25,446.06 414.5,446.19 414.75,446.33 415,446.48 415.25,446.63 415.5,446.79 415.75,446.95 416,447.12 416.25,447.29 416.5,447.47 416.75,447.65 417,447.83 417.25,448.01 417.5,448.19 417.75,448.37 418,448.55 418.25,448.73 418.5,448.9 418.75,449.07 419,449.24 419.25,449.41 419.5,449.56 419.75,449.72 420,449.86 420.25,450 420.5,450.13 420.75,450.25 421,450.36 421.25,450.46 421.5,450.55 421.75,450.63 422,450.7 422.25,450.75 422.5,450.79 422.75,450.82 423,450.83 423.25,450.82 423.5,450.8 423.75,450.76 424,450.71 424.25,450.65 424.5,450.57 424.75,450.49 425,450.39 425.25,450.28 425.5,450.17 425.75,450.04 426,449.91 426.25,449.77 426.5,449.63 426.75,449.48 427,449.32 427.25,449.17 427.5,449.01 427.75,448.85 428,448.68 428.25,448.52 428.5,448.36 428.75,448.2 429,448.04 429.25,447.88 429.5,447.73 429.75,447.58 430,447.44 430.25,447.3 430.5,447.18 430.75,447.05 431,446.94 431.25,446.84 431.5,446.74 431.75,446.66 432,446.59 432.25,446.53 432.5,446.49 432.75,446.46 433,446.44 433.25,446.44 433.5,446.45 433.75,446.46 434,446.48 434.25,446.51 434.5,446.54 434.75,446.58 435,446.62 435.25,446.67 435.5,446.72 435.75,446.78 436,446.84 436.25,446.9 436.5,446.96 436.75,447.03 437,447.1 437.25,447.17 437.5,447.25 437.75,447.32 438,447.39 438.25,447.47 438.5,447.54 438.75,447.62 439,447.69 439.25,447.76 439.5,447.83 439.75,447.9 440,447.97 440.25,448.03 440.5,448.09 440.75,448.15 441,448.2 441.25,448.25 441.5,448.3 441.75,448.34 442,448.37 442.25,448.4 442.5,448.42 442.75,448.44 443,448.45 443.25,448.45 443.5,448.45 443.75,448.44 444,448.43 444.25,448.42 444.5,448.4 444.75,448.38 445,448.37 445.25,448.35 445.5,448.33 445.75,448.31 446,448.3 446.25,448.29 446.5,448.28 446.75,448.27 447,448.27 447.25,448.27 447.5,448.29 447.75,448.32 448,448.36 448.25,448.41 448.5,448.46 448.75,448.53 449,448.6 449.25,448.69 449.5,448.77 449.75,448.87 450,448.97 450.25,449.07 450.5,449.18 450.75,449.29 451,449.41 451.25,449.53 451.5,449.65 451.75,449.77 452,449.89 452.25,450.01 452.5,450.13 452.75,450.26 453,450.37 453.25,450.49 453.5,450.6 453.75,450.71 454,450.82 454.25,450.92 454.5,451.02 454.75,451.11 455,451.19 455.25,451.27 455.5,451.34 455.75,451.4 456,451.45 456.25,451.49 456.5,451.52 456.75,451.55 457,451.56 457.25,451.55 457.5,451.53 457.75,451.49 458,451.43 458.25,451.35 458.5,451.26 458.75,451.15 459,451.02 459.25,450.88 459.5,450.72 459.75,450.55 460,450.37 460.25,450.18 460.5,449.97 460.75,449.76 461,449.53 461.25,449.3 461.5,449.05 461.75,448.8 462,448.54 462.25,448.28 462.5,448 462.75,447.73 463,447.45 463.25,447.16 463.5,446.87 463.75,446.58 464,446.29 464.25,446 464.5,445.71 464.75,445.42 465,445.12 465.25,444.83 465.5,444.55 465.75,444.26 466,443.98 466.25,443.71 466.5,443.44 466.75,443.18 467,442.92 467.25,442.67 467.5,442.43 467.75,442.19 468,441.97 468.25,441.76 468.5,441.55 468.75,441.36 469,441.19 469.25,441.02 469.5,440.87 469.75,440.73 470,440.61 470.25,440.5 470.5,440.41 470.75,440.34 471,440.28 471.25,440.25 471.5,440.23 471.75,440.23 472,440.23 472.25,440.24 472.5,440.26 472.75,440.28 473,440.3 473.25,440.33 473.5,440.37 473.75,440.41 474,440.45 474.25,440.49 474.5,440.55 474.75,440.6 475,440.66 475.25,440.72 475.5,440.79 475.75,440.86 476,440.93 476.25,441.01 476.5,441.09 476.75,441.18 477,441.26 477.25,441.36 477.5,441.45 477.75,441.55 478,441.65 478.25,441.75 478.5,441.86 478.75,441.96 479,442.07 479.25,442.19 479.5,442.3 479.75,442.42 480,442.54 480.25,442.67 480.5,442.79 480.75,442.92 481,443.05 481.25,443.18 481.5,443.31 481.75,443.44 482,443.58 482.25,443.71 482.5,443.85 482.75,443.99 483,444.13 483.25,444.28 483.5,444.42 483.75,444.56 484,444.71 484.25,444.85 484.5,445 484.75,445.15 485,445.29 485.25,445.44 485.5,445.59 485.75,445.74 486,445.89 486.25,446.04 486.5,446.19 486.75,446.34 487,446.48 487.25,446.63 487.5,446.78 487.75,446.93 488,447.08 488.25,447.22 488.5,447.37 488.75,447.51 489,447.66 489.25,447.8 489.5,447.94 489.75,448.09 490,448.23 490.25,448.37 490.5,448.5 490.75,448.64"/>
</g>
</svg></body></html>
